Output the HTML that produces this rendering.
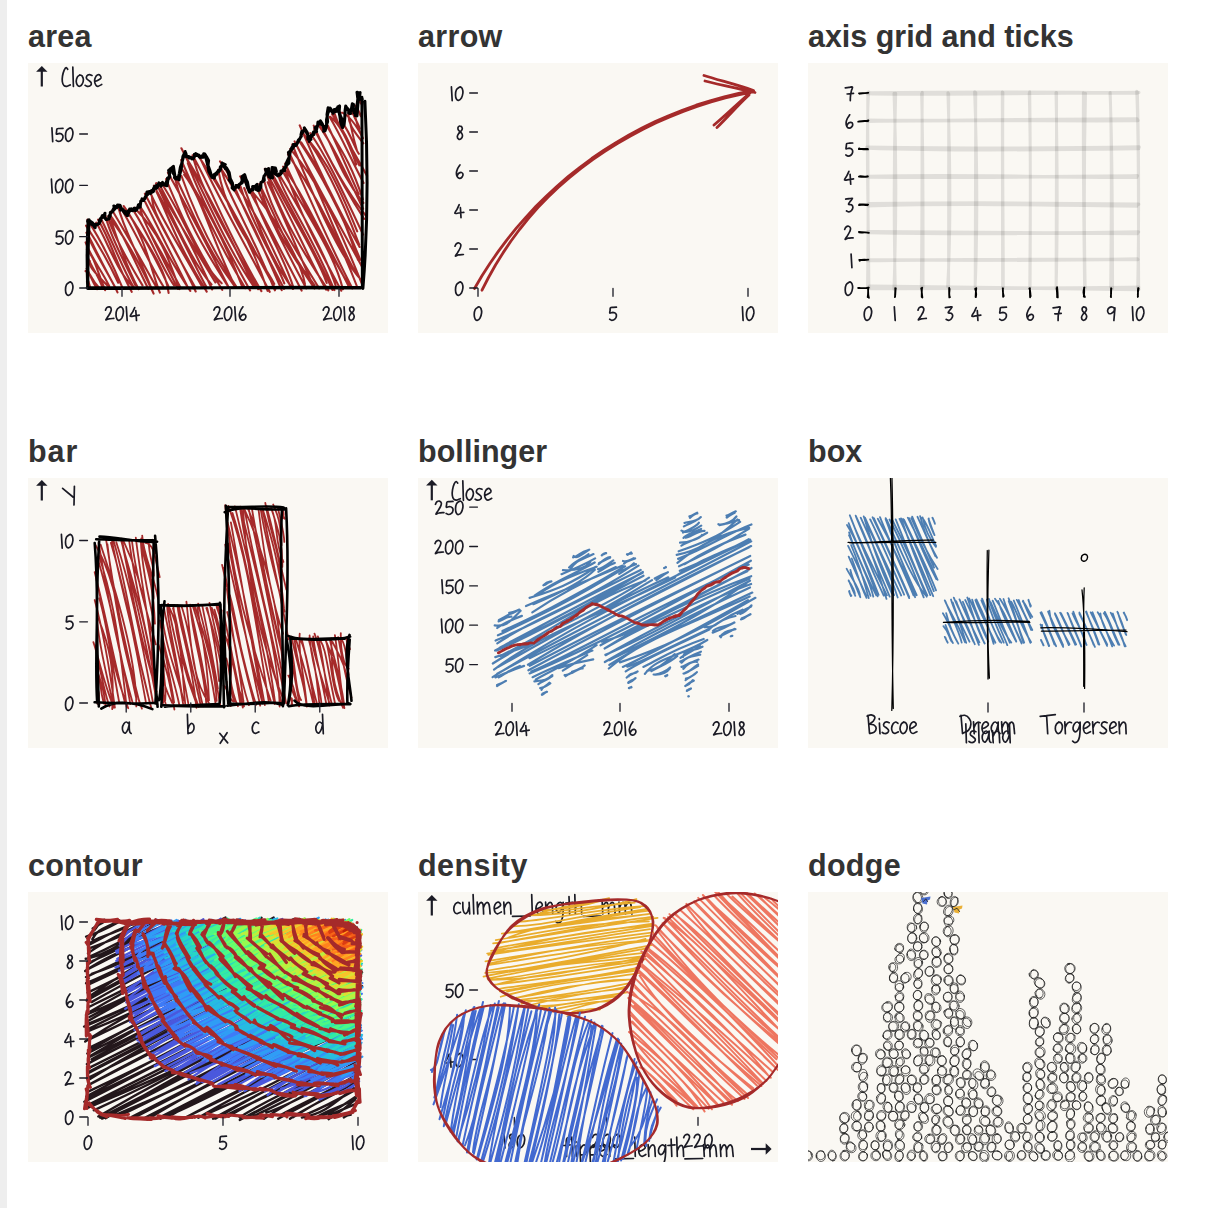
<!DOCTYPE html><html><head><meta charset="utf-8"><title>rough plot</title><style>
html,body{margin:0;padding:0;background:#fff}
body{width:1228px;height:1208px;position:relative;overflow:hidden;font-family:"Liberation Sans",sans-serif}
.strip{position:absolute;left:0;top:0;width:6.8px;height:1208px;background:#eee}
h2{position:absolute;margin:0;font-size:30.5px;font-weight:bold;color:#333;line-height:35px;white-space:nowrap}
.card{position:absolute;width:360px;height:270px;background:#faf8f3;overflow:hidden}
.card svg{display:block}
</style></head><body><div class="strip"></div>
<h2 style="left:28px;top:18.5px;letter-spacing:0.23px">area</h2>
<div class="card" style="left:28px;top:63px"><svg width="360" height="270" viewBox="0 0 360 270"><path d="M329.5 33.9C331.0 34.9 331.9 38.4 334.3 39.9M329.9 33.2C331.1 36.4 331.5 37.8 332.8 40.5M327.5 42.6C329.5 47.3 332.5 50.5 333.9 54.0M329.6 45.5C330.8 48.2 331.3 50.4 332.9 53.1M322.1 50.6C329.5 49.1 327.7 64.0 333.1 70.9M324.3 45.6C323.4 51.4 330.0 58.9 331.7 65.7M314.1 49.6C319.3 51.7 326.0 57.7 335.0 75.2M320.4 50.6C320.2 60.1 324.1 66.0 335.4 80.3M309.1 46.2C310.0 46.3 310.0 46.9 312.0 49.6M310.0 45.6C310.3 47.4 310.7 48.1 312.2 50.3M321.2 55.1C324.6 71.0 325.0 74.2 328.8 87.0M314.8 60.5C322.6 70.3 327.0 86.0 330.9 90.8M302.3 53.9C312.2 60.7 321.9 83.1 328.3 101.4M304.1 51.3C315.8 66.3 321.9 81.2 331.3 102.4M305.4 47.2C311.0 65.1 318.8 76.5 339.1 113.0M301.5 53.8C313.6 73.9 321.3 92.8 335.6 120.0M299.3 63.5C308.9 81.2 321.4 95.0 334.9 136.3M299.8 62.5C312.7 90.2 323.8 115.4 330.7 131.2M290.5 60.7C305.9 80.7 308.2 106.1 335.4 140.0M290.2 61.7C302.8 79.4 312.1 97.7 335.1 145.8M285.7 62.6C303.9 103.8 325.1 136.1 338.5 153.6M286.1 66.2C298.7 88.6 307.6 111.5 336.1 155.9M279.0 74.9C291.3 89.4 304.4 106.8 329.2 168.4M282.2 70.0C298.1 93.2 308.1 114.2 335.1 171.6M271.7 62.4C291.4 108.9 307.5 142.2 331.6 184.0M274.8 69.6C296.6 98.8 314.3 137.0 331.2 181.5M273.2 79.3C300.3 119.6 316.3 155.1 330.0 197.0M270.8 77.3C299.0 119.9 318.6 162.3 332.3 196.8M268.0 80.9C293.9 129.9 309.5 180.7 328.4 210.7M266.6 78.4C282.0 109.6 299.0 139.2 335.9 207.2M264.3 81.5C288.3 140.4 313.0 195.8 334.0 217.9M262.3 85.9C290.3 119.0 307.2 154.8 333.6 220.1M261.5 90.3C280.6 132.0 298.9 176.3 324.4 225.4M260.0 91.3C284.2 126.1 307.4 166.5 329.2 224.0M255.1 103.6C270.5 124.0 287.9 159.3 320.8 223.4M257.2 100.5C273.8 137.6 296.0 179.4 322.1 224.5M257.4 108.0C270.9 148.4 290.3 184.7 313.3 227.7M254.9 108.8C280.7 153.3 306.4 191.3 314.9 226.3M250.9 114.3C257.8 136.8 278.8 161.1 306.4 227.1M251.8 112.5C279.0 157.8 299.5 197.8 307.6 222.4M240.3 105.6C259.4 148.6 286.7 185.6 298.7 220.0M243.3 109.0C267.0 152.5 290.5 195.3 304.5 227.0M236.8 105.9C247.5 135.5 259.7 167.1 300.3 227.3M238.4 109.4C264.0 154.6 281.8 198.3 298.2 226.6M239.7 119.3C257.4 157.2 273.2 195.9 285.4 223.2M236.1 117.8C244.9 152.1 263.6 180.3 291.2 225.4M233.7 125.7C249.8 157.6 257.3 184.6 286.5 222.2M231.3 121.1C240.8 155.7 257.0 181.9 286.5 225.4M220.9 125.0C250.6 157.5 273.1 199.2 277.0 221.2M228.3 123.4C242.4 156.8 256.9 185.3 278.2 225.3M212.2 113.3C214.0 115.9 218.9 119.9 222.2 127.0M213.5 115.5C216.1 116.6 218.6 118.4 220.3 126.9M225.2 129.7C233.9 161.0 254.7 189.4 265.7 225.3M221.4 127.2C232.6 149.0 244.8 171.3 273.6 227.6M216.2 125.0C228.8 157.9 243.0 197.4 265.0 226.0M210.2 124.5C233.7 159.2 245.9 188.3 263.0 224.6M192.0 98.3C197.1 105.2 199.0 108.5 201.0 112.2M193.2 99.6C197.4 104.3 199.1 106.7 200.9 113.2M212.3 122.9C224.5 163.2 247.2 195.8 256.3 220.4M207.1 124.8C222.9 163.3 242.6 199.6 256.1 225.9M193.1 104.1C197.7 129.3 217.4 155.0 246.9 227.4M193.3 106.2C216.3 140.1 232.5 177.8 253.7 227.2M176.7 91.8C177.3 92.6 178.1 94.7 179.2 96.9M177.3 91.8C177.1 93.3 178.2 94.7 179.6 96.4M190.2 106.8C198.3 154.9 228.5 188.4 246.3 220.9M185.3 113.1C208.8 154.1 228.3 191.2 247.4 226.0M173.4 97.8C190.5 134.8 213.5 174.5 241.7 228.8M171.1 94.2C203.9 141.5 227.1 189.8 239.6 227.8M164.5 92.3C184.8 127.4 195.6 163.9 233.4 228.1M165.8 97.0C172.9 123.5 189.4 154.8 230.2 226.2M153.4 85.3C177.4 132.3 197.1 181.4 225.0 222.3M156.2 91.6C187.3 139.8 211.0 195.3 226.9 224.3M159.8 100.2C171.1 132.9 193.5 175.7 222.1 227.4M153.2 97.0C172.9 141.3 192.3 184.6 217.4 225.2M156.1 111.7C172.9 132.8 180.3 167.0 207.6 224.8M154.5 106.7C176.7 141.3 195.0 173.8 214.1 223.3M153.5 113.0C165.1 146.1 182.3 184.4 208.1 223.4M149.5 117.8C166.4 153.7 180.6 189.2 206.9 223.5M146.9 114.9C155.6 151.0 174.7 183.8 199.6 222.7M139.9 109.8C157.0 140.0 173.7 171.7 200.5 224.0M133.9 120.7C156.5 155.7 172.8 202.1 193.7 220.3M138.0 116.2C150.7 146.3 161.7 173.6 194.2 226.8M128.0 120.5C148.7 156.2 164.3 181.2 187.4 219.5M131.2 120.9C146.0 150.0 161.8 176.5 184.2 226.5M128.3 120.1C150.7 168.8 168.0 204.1 183.5 221.5M125.9 122.7C149.9 166.0 168.5 206.5 178.9 224.8M128.5 128.8C140.0 152.4 147.7 178.1 178.7 228.6M122.6 130.5C134.7 158.1 153.8 186.9 173.4 222.6M124.0 133.3C123.8 150.5 138.5 166.5 167.7 228.5M116.9 130.8C126.4 148.8 135.8 168.3 167.0 224.0M111.1 142.1C127.2 164.7 139.8 195.4 162.3 227.9M117.1 138.8C130.3 165.2 146.9 198.8 160.3 225.1M106.3 144.7C131.2 169.2 139.9 193.2 151.4 226.1M111.4 141.6C114.9 161.2 126.6 176.3 152.5 224.4M112.5 148.5C118.0 163.6 127.2 180.6 149.9 225.8M105.0 146.9C122.0 172.5 133.1 204.0 146.1 222.5M99.3 148.2C113.1 171.7 137.9 204.4 140.6 229.9M99.8 149.6C118.7 177.3 134.0 209.0 140.4 223.1M95.6 143.0C117.2 172.0 123.4 209.2 131.9 229.6M95.2 149.0C110.3 174.9 124.0 205.5 135.3 223.3M90.0 143.3C96.2 167.4 105.0 178.9 125.3 229.9M84.3 147.5C98.3 171.1 112.4 195.1 128.1 223.8M80.4 153.0C91.7 167.8 104.7 185.5 125.6 230.6M82.2 152.5C90.5 162.8 98.7 181.0 120.3 225.9M83.2 157.8C92.2 185.5 100.8 208.3 110.7 226.2M80.9 157.4C86.1 171.8 94.7 189.5 114.5 222.4M77.5 153.0C81.8 172.7 96.8 199.3 107.4 222.3M73.6 156.9C84.6 178.4 93.5 203.4 105.4 223.9M70.1 156.6C83.4 178.9 87.5 199.4 103.7 228.8M68.3 159.6C80.7 181.7 89.5 208.6 104.3 223.0M58.0 162.6C68.3 177.9 80.0 197.7 90.2 219.7M59.4 156.7C76.5 182.6 89.6 213.2 94.2 224.1M58.4 169.7C66.5 190.1 85.3 218.6 89.5 229.4M58.8 169.6C65.8 182.8 74.1 200.7 86.6 223.3M58.9 186.4C66.8 196.0 66.9 201.3 77.1 227.2M57.6 179.4C64.0 196.3 72.0 204.6 81.2 223.0M62.0 198.2C59.8 203.3 70.1 212.8 79.9 223.0M58.9 192.0C62.6 203.4 71.4 213.8 74.4 224.6M57.5 208.1C63.1 209.1 62.3 215.9 70.7 224.2M58.6 205.7C61.6 209.9 63.5 217.4 69.2 226.2M60.5 218.4C61.0 221.8 62.9 224.6 61.8 225.3M58.9 218.9C59.9 220.4 60.5 221.3 62.4 225.0" fill="none" stroke="#a52a2a" stroke-width="2.1" stroke-linecap="round" stroke-linejoin="round" /><path d="M59.7 157.8L61.1 159.0L62.1 159.0L61.8 159.3L64.7 162.1L65.8 161.5L66.0 162.7L67.2 164.7L67.3 162.0L68.9 161.6L71.0 160.9L72.2 158.6L72.9 157.3L72.8 156.0L74.3 152.7L76.9 151.8L76.6 154.3L78.2 156.5L78.7 156.6L80.7 155.7L82.2 153.0L82.3 149.5L83.0 149.0L84.4 148.8L84.9 146.9L86.6 143.7L88.7 144.8L88.8 143.6L90.7 142.3L92.3 142.7L93.0 145.5L92.6 147.2L94.4 146.6L94.8 147.2L96.2 149.3L97.4 151.0L99.9 152.5L99.8 148.3L101.3 147.2L101.6 146.0L104.1 147.6L103.6 147.6L104.8 146.9L107.0 147.4L107.5 147.7L109.0 146.3L109.7 144.6L110.3 142.0L112.6 141.0L112.7 138.1L115.4 137.4L115.4 136.0L116.8 135.8L117.7 133.9L118.0 132.6L119.0 129.0L121.7 128.5L122.6 130.4L123.5 129.7L123.6 127.4L124.8 127.4L126.1 124.3L128.7 125.3L129.7 123.7L129.8 122.6L130.9 119.9L131.9 120.7L132.9 123.3L135.2 120.1L135.4 121.5L135.6 121.9L138.1 122.5L138.4 118.7L140.3 116.5L141.2 114.3L141.7 108.8L142.6 105.7L144.7 104.6L144.8 109.9L146.7 112.2L146.5 114.8L148.1 116.2L149.6 115.7L151.1 116.8L151.6 112.3L153.4 105.1L153.8 100.0L155.9 92.4L157.2 88.5L157.4 90.0L157.8 93.4L160.4 93.6L161.0 95.0L162.2 95.1L163.4 94.5L164.3 95.1L165.3 95.8L166.4 93.6L166.3 91.2L168.2 91.2L168.9 92.4L170.8 91.9L171.6 92.9L171.9 93.6L173.5 94.4L174.3 92.7L176.0 92.0L177.4 92.2L177.7 93.7L178.4 96.9L180.0 103.4L180.8 108.6L182.4 111.5L184.0 114.5L184.9 114.4L186.1 114.9L187.7 111.1L188.8 111.2L189.0 109.5L190.6 107.3L192.4 106.9L192.8 103.5L194.4 101.4L194.0 99.9L196.1 101.7L197.2 105.6L197.8 104.5L198.6 105.0L201.2 109.6L202.3 115.7L202.7 116.5L204.5 120.2L204.5 123.5L206.7 125.6L206.4 124.8L207.2 124.2L208.9 123.0L210.7 124.3L210.3 122.6L211.9 121.4L214.0 118.3L214.1 113.5L216.6 111.6L217.0 112.7L218.1 116.4L219.4 118.9L220.6 124.9L221.2 128.2L221.9 128.7L223.3 127.1L224.9 127.1L224.6 123.6L226.6 123.4L228.5 122.8L227.9 126.5L229.8 127.4L231.5 127.3L232.1 123.8L233.0 119.9L235.1 117.7L235.1 117.6L235.7 114.4L238.0 109.9L238.3 107.0L240.7 105.5L240.9 109.0L242.1 113.4L242.5 115.0L244.9 108.6L244.8 105.7L247.0 106.8L246.6 109.4L249.6 112.8L250.2 112.1L251.5 111.8L252.3 111.6L253.5 110.1L253.7 109.6L254.6 107.4L256.2 105.2L257.7 103.7L257.8 102.0L258.8 98.9L260.9 94.6L262.6 87.9L262.8 86.4L264.3 83.7L266.0 82.9L265.4 81.5L266.7 81.5L268.5 81.8L269.7 78.4L270.2 77.8L271.3 76.8L272.9 73.5L273.4 71.5L275.5 68.1L276.6 66.6L276.4 66.6L277.5 67.5L279.6 71.8L281.3 74.9L281.3 78.4L281.8 74.3L283.0 72.5L285.9 71.6L285.5 69.0L288.1 68.2L288.9 65.1L289.6 62.6L289.9 59.1L291.8 59.0L292.4 57.9L294.4 61.1L295.5 64.2L296.7 67.1L297.2 67.6L298.6 63.3L298.5 56.9L299.8 50.5L302.2 45.1L303.1 46.3L303.6 48.4L305.0 49.0L305.8 48.1L306.3 46.5L307.8 46.3L309.9 45.9L309.8 43.7L310.7 47.1L311.9 53.4L312.6 59.4L314.4 64.4L316.1 61.8L316.8 55.1L317.2 47.9L318.6 44.5L320.6 46.8L320.7 50.1L321.8 48.7L323.3 46.2L324.3 40.7L325.6 46.3L327.2 50.9L327.2 52.6L329.3 40.3L330.4 30.4L332.1 29.5L331.4 36.5L333.2 35.3M59.6 158.8L60.6 157.6L60.4 156.9L64.0 159.4L65.2 160.5L64.2 160.9L65.8 161.9L66.4 164.2L67.7 161.2L68.0 162.2L69.5 161.6L71.3 159.4L71.4 157.5L72.6 155.4L76.1 153.5L77.0 150.2L75.6 153.5L78.1 156.4L78.9 156.1L81.0 156.0L80.9 153.3L83.5 149.3L82.5 149.3L83.5 149.4L86.8 146.0L85.8 142.9L87.3 143.6L88.9 143.8L89.5 141.9L92.0 142.3L91.6 144.2L93.2 145.4L94.4 145.9L96.5 148.2L98.0 148.8L98.7 150.7L98.9 152.5L100.6 150.0L101.9 147.3L101.7 146.4L103.1 145.8L103.3 145.7L104.9 147.7L106.1 145.2L108.7 147.0L107.5 145.4L108.9 144.8L112.2 144.1L112.6 139.2L113.1 138.6L114.0 135.9L115.8 137.5L117.3 133.9L117.9 133.1L119.5 131.6L121.3 129.9L119.9 128.7L123.4 129.3L123.1 128.9L125.2 128.8L125.6 128.1L126.8 123.2L128.6 124.4L127.4 125.2L128.5 122.4L130.9 121.4L131.7 120.6L132.5 121.5L134.4 119.4L136.1 121.1L136.0 121.6L139.0 122.8L139.7 118.5L139.5 115.0L141.9 113.8L140.6 107.4L141.9 106.3L145.4 103.3L146.2 108.5L146.9 113.1L147.8 115.6L148.2 114.4L149.7 115.4L149.8 115.9L151.3 110.6L152.4 104.1L154.0 99.9L154.9 93.5L157.2 88.9L157.9 90.4L158.6 93.6L159.1 93.9L161.2 94.6L161.1 94.5L161.6 93.9L164.2 96.0L165.7 94.6L167.4 92.5L167.9 90.6L169.1 91.5L170.8 93.2L171.1 93.8L172.4 93.8L171.9 94.4L175.0 94.3L176.4 93.7L175.7 90.7L176.8 91.0L178.7 94.1L180.6 97.4L180.1 102.4L182.1 108.1L183.3 112.1L184.9 114.5L184.3 114.0L186.3 115.2L186.1 111.6L189.0 110.1L187.9 110.4L191.4 108.3L192.1 105.7L192.3 103.9L194.9 101.8L194.1 100.1L197.3 101.5L195.6 103.6L198.2 105.0L198.2 104.5L200.5 110.3L201.9 115.6L201.1 116.9L204.6 121.5L204.1 124.9L206.2 126.9L206.0 125.5L209.0 123.9L207.9 122.5L209.1 122.4L210.2 122.9L211.2 121.3L214.2 119.8L215.5 114.9L216.9 113.4L217.1 114.2L216.7 115.0L217.7 118.8L219.7 125.2L221.7 129.3L221.0 128.3L223.5 127.0L223.3 127.2L225.2 124.7L226.6 123.9L229.1 121.4L229.6 126.6L229.3 126.1L231.0 126.6L232.9 124.3L232.9 119.4L234.4 118.9L236.3 117.2L235.9 113.2L238.7 110.1L237.4 106.2L239.1 106.7L239.7 108.2L240.8 113.7L244.6 114.9L243.9 110.8L244.1 104.6L247.4 105.0L248.4 108.5L247.2 111.1L249.6 112.6L250.9 111.0L251.1 112.2L252.9 110.8L252.9 108.1L256.6 107.7L256.4 104.6L257.1 105.5L258.4 102.5L260.9 100.2L261.2 92.8L260.4 89.5L262.7 87.8L265.0 85.0L264.8 84.6L267.0 82.3L266.3 82.1L268.2 82.4L271.0 77.3L270.4 77.0L271.7 75.7L273.4 73.1L273.0 71.6L273.8 68.3L277.4 67.4L276.3 64.8L279.3 69.6L279.8 71.2L279.8 76.2L283.0 76.4L281.8 73.6L283.2 74.0L284.6 72.1L285.0 69.9L288.6 68.5L287.0 64.6L289.8 62.5L290.1 59.4L291.8 60.7L291.9 58.8L293.0 61.0L295.6 63.2L295.9 67.7L295.6 68.3L297.9 63.5L299.6 58.7L299.0 51.4L300.1 44.8L302.1 45.8L303.1 47.5L305.2 50.4L305.5 49.0L307.6 48.5L309.4 48.0L308.6 45.6L311.6 42.9L311.2 48.3L312.5 53.1L314.8 57.9L314.8 64.5L314.7 61.0L316.8 54.4L317.1 47.4L317.7 42.9L319.7 46.4L322.7 50.4L321.7 50.4L324.2 44.5L325.5 41.4L325.3 47.1L326.0 49.7L329.0 52.9L330.2 38.5L329.0 29.2L331.9 30.7L330.8 34.5L334.3 36.2M333.9 34.2L334.4 225.0M336.9 38.2C339.9 96.2 339.9 165.0 334.9 225.5M332.4 224.6C269.3 223.6 205.7 224.9 59.6 225.5M332.8 224.9C276.8 224.7 221.4 224.7 59.2 224.7M59.7 224.1C60.2 210.0 59.5 197.7 61.1 156.8M59.7 225.2C58.9 203.5 58.7 182.9 60.1 157.1" fill="none" stroke="#000" stroke-width="3" stroke-linecap="round" stroke-linejoin="round" /><path d="M41.5 219.1C41.0 219.5 39.2 220.4 38.5 221.7C37.8 223.0 37.5 225.3 37.5 226.9C37.5 228.5 38.0 230.3 38.5 231.2C39.0 232.1 39.7 232.6 40.5 232.4C41.3 232.3 42.6 231.5 43.3 230.2C44.0 229.0 44.7 226.6 44.9 225.0C45.1 223.4 44.7 221.7 44.3 220.7C43.9 219.7 42.9 219.1 42.3 218.9C41.7 218.7 41.0 219.6 40.7 219.7" fill="none" stroke="#1b1b25" stroke-width="1.7" stroke-linecap="round" stroke-linejoin="round" /><path d="M35.0 168.0C34.5 168.0 32.8 168.1 31.8 168.2C30.8 168.3 29.5 168.0 29.0 168.6C28.5 169.1 28.7 170.4 28.6 171.3C28.5 172.2 27.9 173.6 28.4 173.9C28.9 174.2 30.4 173.1 31.4 173.1C32.4 173.2 33.6 173.6 34.2 174.3C34.8 174.9 35.1 176.0 35.0 176.9C34.9 177.9 34.2 179.3 33.4 180.0C32.6 180.7 31.3 181.1 30.4 181.1C29.5 181.1 28.6 180.2 28.2 180.0M41.5 167.8C41.0 168.2 39.2 169.1 38.5 170.4C37.8 171.7 37.5 174.0 37.5 175.6C37.5 177.2 38.0 179.0 38.5 179.9C39.0 180.8 39.7 181.3 40.5 181.1C41.3 181.0 42.6 180.2 43.3 178.9C44.0 177.7 44.7 175.3 44.9 173.7C45.1 172.1 44.7 170.4 44.3 169.4C43.9 168.4 42.9 167.8 42.3 167.6C41.7 167.4 41.0 168.3 40.7 168.4" fill="none" stroke="#1b1b25" stroke-width="1.7" stroke-linecap="round" stroke-linejoin="round" /><path d="M23.4 116.2L24.2 129.9M31.5 116.4C31.0 116.8 29.2 117.7 28.5 119.0C27.8 120.3 27.5 122.6 27.5 124.2C27.5 125.8 28.0 127.6 28.5 128.5C29.0 129.4 29.7 129.9 30.5 129.7C31.3 129.6 32.6 128.8 33.3 127.5C34.0 126.3 34.7 123.9 34.9 122.3C35.1 120.7 34.7 119.0 34.3 118.0C33.9 117.0 32.9 116.4 32.3 116.2C31.7 116.0 31.0 116.9 30.7 117.0M41.5 116.4C41.0 116.8 39.2 117.7 38.5 119.0C37.8 120.3 37.5 122.6 37.5 124.2C37.5 125.8 38.0 127.6 38.5 128.5C39.0 129.4 39.7 129.9 40.5 129.7C41.3 129.6 42.6 128.8 43.3 127.5C44.0 126.3 44.7 123.9 44.9 122.3C45.1 120.7 44.7 119.0 44.3 118.0C43.9 117.0 42.9 116.4 42.3 116.2C41.7 116.0 41.0 116.9 40.7 117.0" fill="none" stroke="#1b1b25" stroke-width="1.7" stroke-linecap="round" stroke-linejoin="round" /><path d="M23.9 64.9L24.7 78.6M35.0 65.3C34.5 65.3 32.8 65.4 31.8 65.5C30.8 65.6 29.5 65.3 29.0 65.9C28.5 66.4 28.7 67.7 28.6 68.6C28.5 69.5 27.9 70.9 28.4 71.2C28.9 71.5 30.4 70.4 31.4 70.4C32.4 70.5 33.6 70.9 34.2 71.6C34.8 72.2 35.1 73.3 35.0 74.2C34.9 75.2 34.2 76.6 33.4 77.3C32.6 78.0 31.3 78.4 30.4 78.4C29.5 78.4 28.6 77.5 28.2 77.3M41.5 65.1C41.0 65.5 39.2 66.4 38.5 67.7C37.8 69.0 37.5 71.3 37.5 72.9C37.5 74.5 38.0 76.3 38.5 77.2C39.0 78.1 39.7 78.6 40.5 78.4C41.3 78.3 42.6 77.5 43.3 76.2C44.0 75.0 44.7 72.6 44.9 71.0C45.1 69.4 44.7 67.7 44.3 66.7C43.9 65.7 42.9 65.1 42.3 64.9C41.7 64.7 41.0 65.6 40.7 65.7" fill="none" stroke="#1b1b25" stroke-width="1.7" stroke-linecap="round" stroke-linejoin="round" /><path d="M51.7 225.0L59.5 225.0M51.7 173.7L59.5 173.7M51.7 122.3L59.5 122.3M51.7 71.0L59.5 71.0" fill="none" stroke="#1b1b25" stroke-width="1.3" stroke-linecap="round" stroke-linejoin="round" /><path d="M77.5 247.1C77.7 246.6 78.2 245.1 78.8 244.6C79.5 244.1 80.7 243.7 81.5 243.9C82.2 244.1 83.0 244.9 83.2 245.7C83.5 246.6 83.2 247.7 82.7 248.9C82.2 250.2 81.0 251.9 80.2 253.2C79.5 254.6 77.8 256.5 77.8 256.9C77.9 257.4 79.4 256.0 80.8 255.8C82.1 255.5 85.0 255.5 85.8 255.4M92.0 244.0C91.5 244.4 89.6 245.3 89.0 246.6C88.3 247.9 88.0 250.2 88.0 251.8C88.0 253.4 88.5 255.2 89.0 256.1C89.5 257.0 90.2 257.5 91.0 257.3C91.8 257.2 93.0 256.4 93.8 255.1C94.5 253.9 95.2 251.5 95.3 249.9C95.5 248.3 95.2 246.6 94.8 245.6C94.3 244.6 93.3 244.0 92.8 243.8C92.2 243.6 91.4 244.5 91.2 244.6M98.3 243.8L99.2 257.5M106.7 244.6C106.3 245.3 105.4 247.5 104.7 248.9C103.9 250.4 102.0 252.5 102.2 253.1C102.5 253.8 104.8 253.1 106.2 252.9C107.8 252.8 110.4 252.3 111.2 252.2M107.8 247.6L108.5 257.5" fill="none" stroke="#1b1b25" stroke-width="1.7" stroke-linecap="round" stroke-linejoin="round" /><path d="M185.9 247.1C186.2 246.6 186.7 245.1 187.3 244.6C188.0 244.1 189.2 243.7 189.9 243.9C190.7 244.1 191.6 244.9 191.8 245.7C191.9 246.6 191.7 247.7 191.2 248.9C190.7 250.2 189.6 251.9 188.8 253.2C187.9 254.6 186.3 256.5 186.3 256.9C186.4 257.4 187.9 256.0 189.2 255.8C190.6 255.5 193.5 255.5 194.3 255.4M200.4 244.0C199.9 244.4 198.1 245.3 197.4 246.6C196.8 247.9 196.4 250.2 196.4 251.8C196.4 253.4 196.9 255.2 197.4 256.1C197.9 257.0 198.6 257.5 199.4 257.3C200.2 257.2 201.5 256.4 202.2 255.1C203.0 253.9 203.7 251.5 203.8 249.9C204.0 248.3 203.7 246.6 203.2 245.6C202.8 244.6 201.8 244.0 201.2 243.8C200.7 243.6 199.9 244.5 199.7 244.6M206.8 243.8L207.7 257.5M214.9 243.8C214.5 244.4 213.2 246.2 212.6 247.5C212.0 248.9 211.4 250.5 211.3 251.8C211.3 253.1 211.7 254.7 212.2 255.6C212.7 256.5 213.6 257.2 214.3 257.2C215.1 257.3 216.3 256.7 216.9 256.0C217.5 255.3 218.0 253.9 217.9 253.1C217.8 252.4 217.0 251.6 216.3 251.4C215.7 251.3 214.4 251.7 213.8 252.2C213.1 252.7 212.6 253.9 212.3 254.3" fill="none" stroke="#1b1b25" stroke-width="1.7" stroke-linecap="round" stroke-linejoin="round" /><path d="M295.2 247.1C295.4 246.6 295.9 245.1 296.6 244.6C297.3 244.1 298.5 243.7 299.2 243.9C299.9 244.1 300.8 244.9 301.0 245.7C301.2 246.6 300.9 247.7 300.4 248.9C299.9 250.2 298.8 251.9 298.0 253.2C297.2 254.6 295.5 256.5 295.6 256.9C295.7 257.4 297.2 256.0 298.5 255.8C299.8 255.5 302.8 255.5 303.6 255.4M309.7 244.0C309.2 244.4 307.4 245.3 306.7 246.6C306.0 247.9 305.7 250.2 305.7 251.8C305.7 253.4 306.2 255.2 306.7 256.1C307.2 257.0 307.9 257.5 308.7 257.3C309.5 257.2 310.8 256.4 311.5 255.1C312.2 253.9 312.9 251.5 313.1 249.9C313.3 248.3 312.9 246.6 312.5 245.6C312.1 244.6 311.1 244.0 310.5 243.8C309.9 243.6 309.2 244.5 308.9 244.6M316.1 243.8L316.9 257.5M325.4 244.6C325.0 244.5 323.8 243.7 323.2 243.9C322.6 244.1 321.7 245.0 321.6 245.7C321.5 246.5 321.8 247.6 322.4 248.4C323.0 249.2 324.4 249.8 325.0 250.7C325.6 251.5 326.3 252.7 326.2 253.7C326.1 254.7 325.3 256.2 324.6 256.7C323.9 257.3 322.8 257.3 322.2 256.9C321.6 256.6 321.0 255.4 321.0 254.5C321.0 253.5 321.8 252.3 322.4 251.4C323.0 250.5 324.2 249.8 324.8 248.9C325.4 248.1 326.0 247.0 326.0 246.3C326.0 245.5 325.2 244.7 325.0 244.4" fill="none" stroke="#1b1b25" stroke-width="1.7" stroke-linecap="round" stroke-linejoin="round" /><path d="M94.0 225.5L94.0 233.3M202.0 225.5L202.0 233.3M311.0 225.5L311.0 233.3" fill="none" stroke="#1b1b25" stroke-width="1.3" stroke-linecap="round" stroke-linejoin="round" /><path d="M13.8 23.5L13.8 6.5" stroke="#1b1b25" stroke-width="2.2" fill="none"/><path d="M8.1 8.8L13.8 2.9L19.5 8.8Z" fill="#1b1b25"/><path d="M39.7 6.3C39.4 6.0 38.8 4.6 38.2 4.7C37.6 4.8 36.9 5.7 36.2 7.1C35.6 8.5 34.8 11.1 34.5 13.0C34.2 14.9 34.1 16.9 34.3 18.5C34.5 20.1 35.1 21.5 35.8 22.3C36.6 23.1 37.8 23.4 38.8 23.3C39.9 23.2 41.7 22.1 42.3 21.9M44.8 4.1L45.4 23.5M51.9 11.9C51.5 12.3 49.9 13.0 49.3 14.1C48.7 15.2 48.2 17.1 48.2 18.5C48.3 19.9 48.9 21.5 49.5 22.3C50.1 23.1 50.9 23.5 51.7 23.3C52.5 23.1 53.7 22.0 54.3 20.9C54.9 19.8 55.4 17.8 55.4 16.5C55.3 15.2 54.7 13.7 54.1 12.9C53.4 12.1 52.1 12.0 51.7 11.8M64.0 12.5C63.6 12.4 62.3 11.6 61.4 11.7C60.5 11.8 59.3 12.4 58.8 13.1C58.3 13.8 58.2 14.9 58.6 15.7C59.0 16.5 60.6 17.2 61.4 17.9C62.2 18.6 63.2 19.3 63.3 20.1C63.5 20.9 63.0 22.1 62.3 22.6C61.6 23.1 60.1 23.4 59.2 23.3C58.4 23.2 57.4 22.5 57.1 22.3M66.8 18.5C67.3 18.3 69.0 17.9 70.0 17.3C71.1 16.7 72.5 15.9 72.9 15.1C73.2 14.3 72.7 13.1 72.2 12.5C71.7 11.9 70.6 11.5 69.8 11.8C69.0 12.1 68.0 13.0 67.5 14.1C66.9 15.2 66.6 16.8 66.6 18.1C66.6 19.4 67.1 21.0 67.7 21.9C68.2 22.8 69.0 23.4 70.0 23.3C71.1 23.2 73.1 21.8 73.7 21.5" fill="none" stroke="#1b1b25" stroke-width="1.7" stroke-linecap="round" stroke-linejoin="round" /></svg></div>
<h2 style="left:418px;top:18.5px;letter-spacing:0.32px">arrow</h2>
<div class="card" style="left:418px;top:63px"><svg width="360" height="270" viewBox="0 0 360 270"><path d="M56.5 225.5L64.0 212.8L71.9 200.5L80.3 188.4L89.1 176.6L98.3 165.2L108.0 154.1L118.0 143.3L128.5 133.0L139.3 123.0L150.4 113.4L161.9 104.3L173.7 95.5L185.9 87.2L198.3 79.4L211.0 72.0L224.0 65.1L237.2 58.6L250.6 52.7L264.3 47.2L278.1 42.2L292.1 37.8L306.3 33.8L320.6 30.4L335.0 27.5M64.0 227.2L70.5 214.5L77.5 202.0L85.0 189.9L93.0 178.0L101.5 166.5L110.5 155.4L119.9 144.6L129.9 134.2L140.4 124.2L151.4 114.6L162.9 105.5L174.7 96.7L186.9 88.4L199.3 80.6L212.0 73.2L225.0 66.3L238.2 59.8L251.6 53.9L265.3 48.4L279.1 43.4L293.1 39.0L307.3 35.0L321.6 31.6L336.0 28.7M335.5 27.5C320 22 300 17 286 12.5M337 29.5C322 26 301 21.5 287 18M333 29C320 40 308 52 296 62M331 32C320 42 310 54 299 64.5" fill="none" stroke="#a52a2a" stroke-width="2.8" stroke-linecap="round" stroke-linejoin="round" /><path d="M41.5 219.1C41.0 219.5 39.2 220.4 38.5 221.7C37.8 223.0 37.5 225.3 37.5 226.9C37.5 228.5 38.0 230.3 38.5 231.2C39.0 232.1 39.7 232.6 40.5 232.4C41.3 232.3 42.6 231.5 43.3 230.2C44.0 229.0 44.7 226.6 44.9 225.0C45.1 223.4 44.7 221.7 44.3 220.7C43.9 219.7 42.9 219.1 42.3 218.9C41.7 218.7 41.0 219.6 40.7 219.7" fill="none" stroke="#1b1b25" stroke-width="1.7" stroke-linecap="round" stroke-linejoin="round" /><path d="M37.0 183.2C37.2 182.7 37.7 181.2 38.4 180.7C39.1 180.2 40.3 179.8 41.0 180.0C41.7 180.2 42.6 181.0 42.8 181.8C43.0 182.7 42.7 183.8 42.2 185.0C41.7 186.3 40.6 188.0 39.8 189.3C39.0 190.7 37.3 192.6 37.4 193.0C37.5 193.5 39.0 192.1 40.3 191.9C41.6 191.6 44.5 191.6 45.4 191.5" fill="none" stroke="#1b1b25" stroke-width="1.7" stroke-linecap="round" stroke-linejoin="round" /><path d="M41.2 141.7C40.9 142.4 39.9 144.6 39.2 146.0C38.5 147.5 36.5 149.6 36.8 150.2C37.1 150.9 39.3 150.2 40.8 150.0C42.3 149.9 45.0 149.4 45.8 149.3M42.4 144.7L43.0 154.6" fill="none" stroke="#1b1b25" stroke-width="1.7" stroke-linecap="round" stroke-linejoin="round" /><path d="M42.0 101.9C41.6 102.5 40.2 104.3 39.6 105.6C39.0 107.0 38.5 108.6 38.4 109.9C38.3 111.2 38.7 112.8 39.2 113.7C39.7 114.6 40.6 115.3 41.4 115.3C42.2 115.4 43.4 114.8 44.0 114.1C44.6 113.4 45.1 112.0 45.0 111.2C44.9 110.5 44.1 109.7 43.4 109.5C42.7 109.4 41.5 109.8 40.8 110.3C40.1 110.8 39.6 112.0 39.4 112.4" fill="none" stroke="#1b1b25" stroke-width="1.7" stroke-linecap="round" stroke-linejoin="round" /><path d="M43.7 63.7C43.3 63.6 42.1 62.8 41.5 63.0C40.9 63.2 40.0 64.1 39.9 64.8C39.8 65.6 40.1 66.7 40.7 67.5C41.3 68.3 42.7 68.9 43.3 69.8C43.9 70.6 44.6 71.8 44.5 72.8C44.4 73.8 43.6 75.3 42.9 75.8C42.2 76.4 41.1 76.4 40.5 76.0C39.9 75.7 39.3 74.5 39.3 73.6C39.3 72.6 40.1 71.4 40.7 70.5C41.3 69.6 42.5 68.9 43.1 68.0C43.7 67.2 44.3 66.1 44.3 65.4C44.3 64.6 43.5 63.8 43.3 63.5" fill="none" stroke="#1b1b25" stroke-width="1.7" stroke-linecap="round" stroke-linejoin="round" /><path d="M33.4 23.9L34.2 37.6M41.5 24.1C41.0 24.5 39.2 25.4 38.5 26.7C37.8 28.0 37.5 30.3 37.5 31.9C37.5 33.5 38.0 35.3 38.5 36.2C39.0 37.1 39.7 37.6 40.5 37.4C41.3 37.3 42.6 36.5 43.3 35.2C44.0 34.0 44.7 31.6 44.9 30.0C45.1 28.4 44.7 26.7 44.3 25.7C43.9 24.7 42.9 24.1 42.3 23.9C41.7 23.7 41.0 24.6 40.7 24.7" fill="none" stroke="#1b1b25" stroke-width="1.7" stroke-linecap="round" stroke-linejoin="round" /><path d="M51.7 225.0L59.5 225.0M51.7 186.0L59.5 186.0M51.7 147.0L59.5 147.0M51.7 108.0L59.5 108.0M51.7 69.0L59.5 69.0M51.7 30.0L59.5 30.0" fill="none" stroke="#1b1b25" stroke-width="1.3" stroke-linecap="round" stroke-linejoin="round" /><path d="M60.2 244.0C59.7 244.4 57.9 245.3 57.2 246.6C56.5 247.9 56.2 250.2 56.2 251.8C56.2 253.4 56.7 255.2 57.2 256.1C57.7 257.0 58.4 257.5 59.2 257.3C60.0 257.2 61.3 256.4 62.0 255.1C62.7 253.9 63.4 251.5 63.6 249.9C63.8 248.3 63.4 246.6 63.0 245.6C62.6 244.6 61.6 244.0 61.0 243.8C60.4 243.6 59.7 244.5 59.4 244.6" fill="none" stroke="#1b1b25" stroke-width="1.7" stroke-linecap="round" stroke-linejoin="round" /><path d="M198.4 244.2C197.9 244.2 196.2 244.3 195.2 244.4C194.2 244.5 193.0 244.2 192.4 244.8C191.9 245.3 192.2 246.6 192.1 247.5C192.0 248.4 191.4 249.8 191.8 250.1C192.3 250.4 193.9 249.3 194.8 249.3C195.8 249.4 197.1 249.8 197.7 250.5C198.2 251.1 198.6 252.2 198.4 253.1C198.3 254.1 197.6 255.5 196.8 256.2C196.1 256.9 194.7 257.3 193.8 257.3C193.0 257.3 192.0 256.4 191.7 256.2" fill="none" stroke="#1b1b25" stroke-width="1.7" stroke-linecap="round" stroke-linejoin="round" /><path d="M324.4 243.8L325.1 257.5M332.4 244.0C331.9 244.4 330.1 245.3 329.4 246.6C328.8 247.9 328.4 250.2 328.4 251.8C328.4 253.4 328.9 255.2 329.4 256.1C329.9 257.0 330.6 257.5 331.4 257.3C332.2 257.2 333.5 256.4 334.2 255.1C335.0 253.9 335.7 251.5 335.9 249.9C336.0 248.3 335.7 246.6 335.2 245.6C334.8 244.6 333.9 244.0 333.2 243.8C332.6 243.6 331.9 244.5 331.6 244.6" fill="none" stroke="#1b1b25" stroke-width="1.7" stroke-linecap="round" stroke-linejoin="round" /><path d="M60.0 225.5L60.0 233.3M195.0 225.5L195.0 233.3M330.0 225.5L330.0 233.3" fill="none" stroke="#1b1b25" stroke-width="1.3" stroke-linecap="round" stroke-linejoin="round" /></svg></div>
<h2 style="left:808px;top:18.5px;letter-spacing:-0.03px">axis grid and ticks</h2>
<div class="card" style="left:808px;top:63px"><svg width="360" height="270" viewBox="0 0 360 270"><path d="M60.7 28.7C57.7 68.5 60.0 107.7 60.9 225.6M59.8 30.9C59.4 73.5 60.9 118.5 59.5 224.7M86.0 30.3C88.2 84.9 89.3 135.9 85.9 226.2M87.7 30.3C85.4 108.1 86.3 184.6 87.3 224.5M113.6 30.5C114.8 72.3 115.3 113.0 115.0 224.3M114.3 29.3C113.7 76.6 114.5 122.1 113.3 224.8M139.9 29.8C142.4 104.3 142.4 179.2 139.6 223.6M140.7 30.4C140.7 107.3 140.1 185.2 140.6 224.8M166.6 28.7C169.1 93.6 170.0 156.8 167.1 226.0M167.8 29.6C167.1 106.6 167.0 185.5 167.2 225.2M194.3 28.9C194.1 77.8 194.4 125.4 194.6 225.1M194.9 29.3C194.2 97.5 195.4 164.7 195.3 225.1M221.7 28.7C222.4 74.8 222.6 121.7 222.1 224.1M221.2 30.2C223.3 98.9 222.0 169.3 221.8 224.8M248.0 29.4C249.4 100.4 249.7 170.2 248.1 225.4M248.6 29.4C248.2 87.7 248.6 145.4 248.1 224.1M277.5 30.3C276.3 84.8 275.6 138.0 277.2 225.1M275.4 29.8C275.1 82.3 275.4 133.0 276.6 224.7M302.0 29.7C304.6 83.2 304.2 136.6 304.6 225.7M302.2 29.5C304.1 82.5 303.5 132.4 302.7 224.2M328.7 28.3C331.2 84.7 330.0 139.8 330.7 226.4M329.4 29.3C331.2 100.5 330.7 173.3 329.7 224.8" fill="none" stroke="#000" stroke-width="3.0" stroke-linecap="round" stroke-linejoin="round" stroke-opacity="0.1"/><path d="M61.2 223.3C137.4 224.2 212.8 225.5 330.8 226.5M60.1 225.5C153.8 224.6 247.9 225.9 330.7 224.3M61.7 196.9C133.9 196.8 208.9 198.3 329.4 196.0M59.4 197.6C125.5 196.3 192.0 196.3 329.9 196.4M59.9 168.8C119.8 169.1 176.6 169.5 329.3 170.5M60.4 169.5C144.3 171.2 227.4 170.7 330.5 168.9M60.2 142.7C145.1 140.3 225.3 141.5 328.7 143.1M60.7 140.8C139.5 139.8 219.2 139.7 330.7 141.2M59.4 113.6C135.6 111.4 208.7 113.8 328.8 114.3M60.6 114.1C153.1 114.8 247.9 113.7 329.4 112.8M58.8 84.2C157.5 85.5 254.0 85.5 331.2 84.1M59.2 84.9C135.2 87.7 212.3 87.2 330.7 85.4M61.5 57.3C127.2 58.3 196.3 56.3 329.1 56.1M59.4 58.2C144.5 56.9 229.2 57.9 330.0 57.6M59.0 30.5C123.2 32.1 187.0 30.3 330.8 29.6M59.2 29.9C137.1 29.0 215.6 28.4 329.2 30.2" fill="none" stroke="#000" stroke-width="3.5" stroke-linecap="round" stroke-linejoin="round" stroke-opacity="0.1"/><path d="M59.9 225.1C60.5 227.0 59.6 231.1 60.9 234.8M60.0 224.7C60.2 227.2 60.3 230.0 59.7 234.1M87.8 225.4C87.2 227.2 87.7 230.6 86.9 234.1M87.2 225.2C87.5 227.3 86.9 230.6 87.1 233.9M113.2 225.3C113.9 228.0 113.8 231.3 114.4 234.5M114.1 224.7C113.7 227.5 113.7 229.6 113.7 233.9M141.5 225.6C141.9 227.5 140.4 231.5 141.9 234.1M141.2 224.8C141.0 228.7 141.2 232.0 141.3 234.4M167.2 225.8C168.1 228.1 168.6 231.1 167.8 234.2M168.3 225.1C168.0 226.9 167.8 228.8 167.6 233.9M195.0 225.4C194.5 228.2 195.2 231.3 195.7 233.1M194.8 225.3C195.2 228.1 194.9 231.4 195.1 233.9M221.4 225.5C222.7 227.9 222.1 230.1 222.7 233.2M221.9 225.2C221.8 227.7 221.9 229.8 222.1 234.3M249.1 224.2C249.5 227.5 249.7 230.4 249.8 234.4M248.6 225.1C248.9 227.4 249.2 230.0 249.1 234.2M276.4 224.5C275.2 227.8 275.2 231.7 276.9 234.0M276.0 224.8C276.3 227.2 276.4 229.6 275.8 233.7M303.4 225.6C302.9 226.8 303.5 228.9 302.8 233.5M303.1 225.2C302.9 227.5 303.0 229.9 303.0 234.2M330.6 225.3C330.0 228.6 329.4 231.2 330.0 233.3M330.2 225.0C329.5 227.0 330.3 229.3 329.8 234.0M50.1 225.0C54.2 225.4 56.2 225.6 60.8 224.6M50.7 225.0C54.5 225.4 57.8 225.2 60.2 225.1M51.6 197.8C53.4 196.4 55.2 196.4 59.4 196.9M51.2 196.8C54.0 196.8 56.5 197.6 60.3 196.7M50.9 168.9C53.1 169.3 55.3 168.7 60.9 169.8M51.1 169.4C53.4 169.8 56.6 169.1 60.1 169.7M50.9 142.1C54.2 141.2 56.5 142.4 59.6 142.1M51.4 141.3C53.5 141.5 55.7 141.0 60.1 141.7M51.3 113.3C54.0 112.9 56.4 114.3 59.9 113.5M50.9 113.6C54.2 113.9 57.9 114.0 59.7 113.3M51.0 85.4C52.6 86.3 55.8 86.5 60.0 86.4M50.9 86.1C54.0 86.0 56.4 85.7 59.8 86.0M50.2 58.7C53.9 58.5 58.0 58.3 60.4 57.4M51.2 58.3C53.5 57.7 55.6 57.8 60.1 58.0M51.5 30.8C52.2 30.4 54.6 30.1 60.3 29.8M51.0 30.4C54.2 29.9 57.0 30.5 59.9 30.0" fill="none" stroke="#000" stroke-width="1.8" stroke-linecap="round" stroke-linejoin="round" /><path d="M41.2 219.1C40.7 219.5 38.9 220.4 38.2 221.7C37.5 223.0 37.2 225.3 37.2 226.9C37.2 228.5 37.7 230.3 38.2 231.2C38.7 232.1 39.4 232.6 40.2 232.4C41.0 232.3 42.3 231.5 43.0 230.2C43.7 229.0 44.4 226.6 44.6 225.0C44.8 223.4 44.4 221.7 44.0 220.7C43.6 219.7 42.6 219.1 42.0 218.9C41.4 218.7 40.7 219.6 40.4 219.7" fill="none" stroke="#1b1b25" stroke-width="1.7" stroke-linecap="round" stroke-linejoin="round" /><path d="M43.1 191.1L43.9 204.7" fill="none" stroke="#1b1b25" stroke-width="1.7" stroke-linecap="round" stroke-linejoin="round" /><path d="M36.7 166.4C36.9 166.0 37.4 164.5 38.1 164.0C38.8 163.4 40.0 163.1 40.7 163.3C41.4 163.5 42.3 164.3 42.5 165.1C42.7 165.9 42.4 167.1 41.9 168.3C41.4 169.6 40.3 171.3 39.5 172.6C38.7 173.9 37.0 175.9 37.1 176.3C37.2 176.7 38.7 175.4 40.0 175.2C41.3 174.9 44.2 174.9 45.1 174.8" fill="none" stroke="#1b1b25" stroke-width="1.7" stroke-linecap="round" stroke-linejoin="round" /><path d="M37.7 136.1C38.2 136.0 39.9 135.9 41.0 135.7C42.1 135.6 44.2 135.0 44.5 135.3C44.8 135.7 43.2 137.1 42.5 138.1C41.8 139.1 40.3 140.6 40.5 141.2C40.7 141.9 42.8 141.3 43.5 141.8C44.2 142.3 44.9 143.3 44.9 144.3C44.9 145.2 44.2 146.7 43.5 147.5C42.8 148.3 41.7 148.8 40.9 148.8C40.1 148.9 38.9 148.0 38.5 147.9" fill="none" stroke="#1b1b25" stroke-width="1.7" stroke-linecap="round" stroke-linejoin="round" /><path d="M40.9 108.3C40.6 109.0 39.6 111.2 38.9 112.6C38.2 114.0 36.2 116.1 36.5 116.8C36.8 117.5 39.0 116.8 40.5 116.6C42.0 116.5 44.7 116.0 45.5 115.9M42.1 111.3L42.7 121.2" fill="none" stroke="#1b1b25" stroke-width="1.7" stroke-linecap="round" stroke-linejoin="round" /><path d="M44.7 80.0C44.2 80.0 42.5 80.1 41.5 80.2C40.5 80.3 39.2 80.1 38.7 80.6C38.2 81.1 38.4 82.5 38.3 83.3C38.2 84.2 37.6 85.6 38.1 85.9C38.6 86.2 40.1 85.1 41.1 85.1C42.1 85.2 43.3 85.7 43.9 86.3C44.5 86.9 44.8 88.0 44.7 88.9C44.6 89.9 43.9 91.3 43.1 92.0C42.3 92.7 41.0 93.1 40.1 93.1C39.2 93.1 38.3 92.2 37.9 92.0" fill="none" stroke="#1b1b25" stroke-width="1.7" stroke-linecap="round" stroke-linejoin="round" /><path d="M41.7 51.8C41.3 52.4 39.9 54.2 39.3 55.5C38.7 56.8 38.2 58.4 38.1 59.8C38.0 61.1 38.4 62.7 38.9 63.6C39.4 64.5 40.3 65.1 41.1 65.2C41.9 65.2 43.1 64.6 43.7 63.9C44.3 63.3 44.8 61.8 44.7 61.1C44.6 60.3 43.8 59.5 43.1 59.4C42.4 59.2 41.2 59.7 40.5 60.1C39.8 60.6 39.3 61.9 39.1 62.2" fill="none" stroke="#1b1b25" stroke-width="1.7" stroke-linecap="round" stroke-linejoin="round" /><path d="M37.3 24.9C37.9 24.8 39.8 24.5 41.0 24.4C42.2 24.3 44.1 23.5 44.5 24.1C44.9 24.7 43.6 26.6 43.3 28.1C43.0 29.6 42.7 31.3 42.5 32.9C42.3 34.4 42.3 36.8 42.3 37.6M39.1 31.0L45.5 30.4" fill="none" stroke="#1b1b25" stroke-width="1.7" stroke-linecap="round" stroke-linejoin="round" /><path d="M60.2 244.0C59.7 244.4 57.9 245.3 57.2 246.6C56.5 247.9 56.2 250.2 56.2 251.8C56.2 253.4 56.7 255.2 57.2 256.1C57.7 257.0 58.4 257.5 59.2 257.3C60.0 257.2 61.3 256.4 62.0 255.1C62.7 253.9 63.4 251.5 63.6 249.9C63.8 248.3 63.4 246.6 63.0 245.6C62.6 244.6 61.6 244.0 61.0 243.8C60.4 243.6 59.7 244.5 59.4 244.6" fill="none" stroke="#1b1b25" stroke-width="1.7" stroke-linecap="round" stroke-linejoin="round" /><path d="M86.3 243.8L87.2 257.5" fill="none" stroke="#1b1b25" stroke-width="1.7" stroke-linecap="round" stroke-linejoin="round" /><path d="M110.0 247.1C110.2 246.6 110.7 245.1 111.3 244.6C112.0 244.1 113.2 243.7 114.0 243.9C114.7 244.1 115.5 244.9 115.8 245.7C116.0 246.6 115.7 247.7 115.2 248.9C114.7 250.2 113.5 251.9 112.8 253.2C112.0 254.6 110.3 256.5 110.3 256.9C110.4 257.4 111.9 256.0 113.2 255.8C114.6 255.5 117.5 255.5 118.3 255.4" fill="none" stroke="#1b1b25" stroke-width="1.7" stroke-linecap="round" stroke-linejoin="round" /><path d="M137.4 244.6C138.0 244.5 139.6 244.3 140.8 244.2C141.9 244.1 144.0 243.4 144.2 243.8C144.5 244.2 142.9 245.6 142.2 246.6C141.6 247.6 140.1 249.1 140.2 249.7C140.4 250.3 142.5 249.8 143.2 250.3C144.0 250.8 144.7 251.8 144.7 252.8C144.7 253.7 143.9 255.2 143.2 256.0C142.6 256.7 141.5 257.2 140.7 257.3C139.8 257.4 138.7 256.5 138.2 256.4" fill="none" stroke="#1b1b25" stroke-width="1.7" stroke-linecap="round" stroke-linejoin="round" /><path d="M168.2 244.6C167.8 245.3 166.9 247.5 166.2 248.9C165.4 250.4 163.5 252.5 163.8 253.1C164.0 253.8 166.2 253.1 167.8 252.9C169.2 252.8 171.9 252.3 172.8 252.2M169.3 247.6L169.9 257.5" fill="none" stroke="#1b1b25" stroke-width="1.7" stroke-linecap="round" stroke-linejoin="round" /><path d="M198.4 244.2C197.9 244.2 196.2 244.3 195.2 244.4C194.2 244.5 193.0 244.2 192.4 244.8C191.9 245.3 192.2 246.6 192.1 247.5C192.0 248.4 191.4 249.8 191.8 250.1C192.3 250.4 193.9 249.3 194.8 249.3C195.8 249.4 197.1 249.8 197.7 250.5C198.2 251.1 198.6 252.2 198.4 253.1C198.3 254.1 197.6 255.5 196.8 256.2C196.1 256.9 194.7 257.3 193.8 257.3C193.0 257.3 192.0 256.4 191.7 256.2" fill="none" stroke="#1b1b25" stroke-width="1.7" stroke-linecap="round" stroke-linejoin="round" /><path d="M222.4 243.8C222.0 244.4 220.7 246.2 220.1 247.5C219.5 248.9 218.9 250.5 218.8 251.8C218.8 253.1 219.2 254.7 219.7 255.6C220.2 256.5 221.1 257.2 221.8 257.2C222.6 257.3 223.8 256.7 224.4 256.0C225.0 255.3 225.5 253.9 225.4 253.1C225.3 252.4 224.5 251.6 223.8 251.4C223.2 251.3 221.9 251.7 221.2 252.2C220.6 252.7 220.1 253.9 219.8 254.3" fill="none" stroke="#1b1b25" stroke-width="1.7" stroke-linecap="round" stroke-linejoin="round" /><path d="M245.1 244.8C245.7 244.7 247.6 244.4 248.8 244.3C249.9 244.2 251.9 243.4 252.2 244.0C252.6 244.6 251.4 246.5 251.1 248.0C250.7 249.5 250.4 251.2 250.2 252.8C250.1 254.3 250.1 256.7 250.1 257.5M246.8 250.8L253.2 250.3" fill="none" stroke="#1b1b25" stroke-width="1.7" stroke-linecap="round" stroke-linejoin="round" /><path d="M277.9 244.6C277.5 244.5 276.3 243.7 275.7 243.9C275.1 244.1 274.2 245.0 274.1 245.7C274.0 246.5 274.3 247.6 274.9 248.4C275.5 249.2 276.9 249.8 277.5 250.7C278.1 251.5 278.8 252.7 278.7 253.7C278.6 254.7 277.8 256.2 277.1 256.7C276.4 257.3 275.3 257.3 274.7 256.9C274.1 256.6 273.5 255.4 273.5 254.5C273.5 253.5 274.3 252.3 274.9 251.4C275.5 250.5 276.7 249.8 277.3 248.9C277.9 248.1 278.5 247.0 278.5 246.3C278.5 245.5 277.7 244.7 277.5 244.4" fill="none" stroke="#1b1b25" stroke-width="1.7" stroke-linecap="round" stroke-linejoin="round" /><path d="M306.6 245.5C306.2 245.3 305.1 244.1 304.2 244.0C303.4 243.9 302.0 244.2 301.2 244.8C300.5 245.3 299.8 246.5 299.6 247.4C299.5 248.3 300.0 249.8 300.6 250.3C301.2 250.8 302.4 250.8 303.2 250.5C304.1 250.1 305.2 249.1 305.9 248.2C306.5 247.2 306.7 244.6 306.9 244.8C307.0 244.9 306.8 247.5 306.6 248.9C306.5 250.4 306.4 252.3 306.2 253.7C306.1 255.1 305.9 256.9 305.9 257.5" fill="none" stroke="#1b1b25" stroke-width="1.7" stroke-linecap="round" stroke-linejoin="round" /><path d="M324.4 243.8L325.1 257.5M332.4 244.0C331.9 244.4 330.1 245.3 329.4 246.6C328.8 247.9 328.4 250.2 328.4 251.8C328.4 253.4 328.9 255.2 329.4 256.1C329.9 257.0 330.6 257.5 331.4 257.3C332.2 257.2 333.5 256.4 334.2 255.1C335.0 253.9 335.7 251.5 335.9 249.9C336.0 248.3 335.7 246.6 335.2 245.6C334.8 244.6 333.9 244.0 333.2 243.8C332.6 243.6 331.9 244.5 331.6 244.6" fill="none" stroke="#1b1b25" stroke-width="1.7" stroke-linecap="round" stroke-linejoin="round" /></svg></div>
<h2 style="left:28px;top:433.5px;letter-spacing:0.90px">bar</h2>
<div class="card" style="left:28px;top:478px"><svg width="360" height="270" viewBox="0 0 360 270"><path d="M126.7 62.8C126.3 66.0 125.7 69.9 127.8 75.2M124.4 61.8C126.6 65.7 127.3 70.4 126.6 74.6M117.2 64.8C124.9 65.7 125.8 72.8 131.7 99.1M120.8 63.1C120.4 78.3 126.7 89.0 125.7 98.0M114.2 57.6C115.6 78.3 125.1 94.2 130.0 120.6M113.4 60.3C118.1 86.2 127.0 107.3 125.5 121.0M112.9 63.6C115.5 84.1 124.9 96.1 126.9 145.7M112.7 61.4C114.1 90.7 120.2 118.9 126.6 145.5M107.8 59.6C110.8 86.0 117.1 121.2 123.1 163.7M104.0 63.4C108.0 97.9 117.3 129.0 127.8 166.4M95.7 63.4C119.1 113.4 125.3 163.5 124.2 191.8M101.0 61.7C107.4 109.9 118.1 152.1 125.7 191.3M93.4 63.4C107.2 113.1 121.5 155.8 127.5 213.5M93.4 62.5C102.5 101.2 105.8 138.2 128.6 213.6M93.8 60.7C99.4 93.6 111.7 127.7 129.4 226.6M88.3 64.2C99.3 97.7 109.8 138.9 125.0 224.9M85.7 63.2C99.6 109.0 104.8 162.1 123.2 229.6M83.8 61.9C95.8 124.5 113.5 184.4 121.9 225.8M79.4 66.2C85.4 118.2 97.1 184.0 113.9 230.6M82.9 64.9C95.7 107.3 105.0 151.5 118.1 225.4M72.6 66.6C91.7 123.8 108.8 184.1 108.3 228.4M78.0 61.2C85.7 113.6 94.9 161.0 111.7 225.4M66.9 66.0C88.8 102.1 91.5 145.5 108.5 221.5M70.6 64.8C79.3 116.3 88.7 168.1 104.9 225.8M69.7 80.6C79.3 113.3 88.1 149.8 102.4 226.1M70.6 76.8C81.6 109.9 89.3 141.6 98.6 228.8M66.7 94.2C78.3 140.3 81.4 183.4 100.2 230.2M68.3 101.3C78.5 140.3 84.8 177.5 97.1 225.4M66.7 122.0C73.5 147.4 79.5 175.2 86.9 229.6M71.3 120.4C79.2 146.3 81.6 172.1 91.2 224.4M70.5 140.9C81.7 168.7 86.7 191.8 84.2 231.1M69.2 143.9C71.9 171.5 79.4 201.6 85.5 226.4M65.4 164.1C71.3 181.5 75.0 203.1 85.9 229.7M67.0 167.1C71.5 189.4 76.6 215.4 81.5 228.5M69.9 195.6C72.8 202.0 71.4 208.6 75.8 225.5M68.7 190.0C71.3 201.2 75.8 206.9 77.6 228.5M70.4 213.6C71.2 216.2 71.0 221.2 69.6 225.8M68.9 214.5C69.8 218.7 71.7 223.7 71.5 226.4M188.6 128.2C188.8 132.0 191.2 133.6 192.1 140.4M190.5 127.2C190.4 130.5 190.3 132.8 192.5 139.9M186.5 131.7C188.4 137.8 191.5 150.7 193.1 159.8M183.9 130.0C185.1 135.7 189.0 140.8 192.5 164.1M181.5 124.9C186.5 149.9 191.4 170.3 195.0 184.1M178.3 130.0C185.5 149.6 189.5 169.2 192.5 184.2M179.2 129.9C184.6 152.1 189.0 177.3 191.1 203.2M174.3 127.7C179.2 153.4 184.4 176.0 189.9 210.6M167.0 129.2C178.5 160.7 187.6 198.5 188.7 222.9M170.2 125.7C176.1 150.2 184.1 177.2 192.2 226.9M169.4 129.6C173.0 154.1 179.6 179.9 181.0 222.2M164.8 127.9C170.6 147.3 178.4 167.4 187.7 226.3M162.2 126.7C164.4 160.0 176.1 189.2 178.2 225.0M162.0 127.9C169.3 160.9 176.7 195.5 180.4 224.7M158.4 123.7C162.9 164.7 164.0 201.0 180.8 224.8M153.5 128.3C163.4 156.3 165.0 188.7 175.0 228.4M149.4 126.8C151.6 151.2 162.7 174.0 168.5 229.8M151.0 129.2C154.9 149.8 160.7 173.6 172.9 228.3M145.0 130.4C152.3 152.6 149.2 169.9 170.7 228.9M145.3 128.1C148.7 164.8 158.4 200.0 168.5 226.0M141.5 129.8C153.0 152.9 153.1 181.7 157.2 225.9M140.1 126.0C144.4 153.2 151.9 177.5 160.3 225.4M139.2 128.4C139.8 146.7 149.3 178.7 154.9 224.6M135.5 127.4C140.5 156.1 149.7 189.8 155.1 225.9M134.2 138.5C137.8 172.6 149.6 195.4 155.5 222.3M132.1 142.4C134.5 169.3 145.3 197.8 151.4 227.3M130.5 166.8C139.1 191.1 142.2 206.9 146.4 231.5M135.1 161.7C138.6 185.9 144.0 209.6 146.1 224.4M135.4 190.7C135.0 194.4 138.5 207.8 137.2 222.4M135.8 187.2C133.0 195.9 135.8 208.3 144.1 224.9M133.8 212.7C137.5 217.0 135.3 221.5 135.1 225.0M134.8 210.8C135.8 216.1 134.9 219.4 137.6 225.5M253.6 29.9C256.2 32.9 256.0 38.8 254.7 40.5M253.9 30.3C253.8 33.9 255.4 38.6 256.7 40.8M245.2 26.5C248.6 34.8 252.8 42.1 253.5 67.2M249.8 29.4C252.0 40.0 256.1 54.2 256.3 63.9M243.6 31.1C250.9 48.2 245.9 61.9 255.4 83.8M243.2 30.2C249.6 49.0 254.9 66.2 254.3 88.9M237.3 24.9C242.4 58.4 254.4 77.3 252.8 113.3M238.3 27.8C244.7 50.4 249.4 73.7 258.3 111.6M234.5 30.4C243.2 58.4 252.2 89.3 256.0 130.0M232.9 32.3C237.3 60.1 245.2 91.2 256.6 133.6M234.5 31.0C243.8 80.6 255.9 131.8 260.3 161.3M230.6 32.0C236.4 80.0 245.1 127.3 255.1 155.7M220.1 31.2C234.5 61.6 233.9 99.6 255.0 178.9M223.9 30.5C232.9 85.2 247.6 144.0 254.9 179.9M215.7 29.7C239.9 81.1 252.4 141.3 256.2 204.4M220.3 29.1C233.8 88.7 245.7 148.3 255.9 205.4M212.3 28.6C230.7 106.9 251.4 179.5 251.6 228.6M216.4 30.7C229.1 100.0 247.0 168.1 258.2 225.4M215.0 30.9C218.8 94.7 231.7 164.6 255.9 222.7M212.3 31.6C219.5 80.9 232.6 137.2 253.6 225.5M204.5 35.0C218.4 77.8 225.1 130.5 246.6 226.0M206.9 28.4C222.7 93.6 239.0 162.6 247.2 225.4M197.2 27.2C202.9 85.3 214.2 139.5 242.7 222.6M200.4 28.0C218.4 77.4 224.6 124.2 240.9 224.4M202.9 44.5C211.5 93.1 220.3 141.3 234.5 224.9M199.6 44.4C210.0 87.5 219.6 131.0 236.8 227.2M200.3 65.6C207.3 101.1 212.7 137.2 232.2 227.7M197.2 66.6C204.6 103.1 212.6 139.5 234.6 225.5M194.1 86.9C203.7 128.2 208.7 160.5 225.6 223.3M195.6 89.8C206.1 141.3 218.2 197.2 228.1 226.8M201.8 117.1C209.6 144.4 210.0 168.7 225.8 221.6M198.9 110.9C203.9 155.4 211.1 196.3 220.9 227.2M195.3 132.3C200.3 160.9 207.1 189.9 214.8 229.7M199.2 134.0C205.3 156.0 209.7 176.5 216.0 228.3M200.0 161.2C206.2 172.9 204.4 201.5 215.4 222.4M197.4 158.0C206.2 183.3 209.6 210.6 212.5 226.5M202.7 179.0C205.5 191.7 198.6 201.5 206.1 223.6M198.3 180.3C203.0 195.7 201.7 211.1 209.9 228.2M195.6 207.4C201.9 213.2 200.0 221.3 205.7 223.6M198.9 203.9C197.9 209.5 198.7 215.9 202.7 228.2M320.0 160.0C320.9 164.6 320.2 169.4 320.4 170.8M318.6 160.4C318.0 163.9 319.5 165.1 322.0 171.1M312.8 155.1C312.5 173.8 316.0 187.8 320.7 190.7M314.2 162.4C317.3 168.0 318.9 177.2 320.6 197.0M304.5 163.9C308.9 173.8 317.4 183.7 322.4 215.1M310.2 159.1C314.2 179.7 318.0 202.7 323.5 219.5M306.9 157.1C311.4 186.3 311.7 205.7 316.4 230.2M302.1 162.5C305.2 178.4 312.5 198.9 316.0 225.6M303.3 160.4C303.5 187.2 304.5 208.5 315.1 229.8M297.7 162.3C305.6 180.1 311.2 204.4 314.5 224.6M297.6 161.6C303.9 182.1 303.1 208.8 311.0 222.9M292.1 161.9C298.1 171.2 298.4 185.4 307.2 226.1M286.5 155.6C292.8 171.7 295.3 193.0 303.8 226.0M289.9 158.4C294.0 174.3 296.3 191.9 301.3 227.5M283.7 162.2C286.4 178.8 290.3 189.2 302.0 227.0M285.2 158.3C287.1 177.6 291.9 191.9 298.2 225.5M280.5 160.5C288.3 187.2 289.7 210.7 291.5 227.2M281.6 157.5C282.2 181.5 291.7 203.1 293.7 227.6M272.0 161.6C278.9 171.5 278.8 190.3 289.5 227.4M273.6 160.9C280.3 185.7 284.3 212.9 286.6 225.8M271.7 155.7C270.0 178.1 274.8 186.4 278.9 228.6M268.3 162.5C272.8 177.6 279.9 201.6 285.5 226.4M263.7 158.7C267.6 182.1 275.8 203.0 278.3 223.9M266.5 161.1C269.1 184.5 276.9 207.7 278.6 228.5M262.9 168.9C268.0 189.2 267.3 214.1 273.1 222.1M261.4 174.9C265.6 190.5 267.2 203.2 271.5 225.6M260.3 197.6C266.3 207.2 266.2 216.2 270.6 227.2M262.1 197.2C260.8 205.9 263.4 211.4 271.1 228.4M263.4 220.1C263.8 220.3 264.4 223.2 263.3 227.6M262.2 220.0C263.3 221.9 263.8 224.0 264.5 227.1" fill="none" stroke="#a52a2a" stroke-width="1.8" stroke-linecap="round" stroke-linejoin="round" /><path d="M71.5 58.6C86.3 58.2 112.0 65.4 129.1 63.7M68.2 61.3C80.5 61.3 91.1 62.9 125.2 62.2M127.1 57.8C132.0 110.6 131.3 159.2 127.4 225.5M125.7 63.3C124.9 113.7 122.9 164.2 129.6 228.8M124.4 231.1C102.4 222.6 85.3 223.2 73.3 230.6M129.0 224.7C114.9 225.8 96.8 225.8 66.6 224.3M69.2 224.9C66.0 173.5 72.2 131.7 66.7 65.0M70.8 228.5C69.1 169.6 67.7 116.3 71.2 62.5M133.8 127.1C155.8 129.2 169.6 127.2 191.2 126.4M131.4 127.2C147.8 127.0 163.1 128.6 192.2 125.9M191.9 124.8C195.3 149.7 194.7 174.6 196.0 229.2M192.5 126.4C193.0 165.4 193.9 203.6 191.7 224.6M196.7 228.1C166.0 229.7 144.0 226.4 136.8 228.7M191.0 226.0C178.6 225.8 169.7 228.5 135.1 227.2M131.1 222.1C136.3 194.5 130.5 169.3 136.5 123.4M133.3 228.8C136.8 190.6 134.9 156.2 132.7 129.1M196.7 34.1C213.6 26.5 228.6 32.9 258.1 31.3M199.2 29.0C219.2 29.8 240.6 27.1 255.7 29.5M254.0 31.2C250.9 82.7 255.5 132.4 254.9 228.2M258.1 30.4C260.8 80.7 259.5 128.7 255.9 225.5M253.4 225.7C248.0 222.6 230.2 227.6 200.1 225.5M255.2 226.9C242.7 223.1 234.3 223.4 199.3 227.8M202.0 226.2C203.0 150.0 200.2 77.1 197.9 27.9M200.3 225.7C193.4 156.0 196.8 87.7 200.1 28.7M259.9 157.9C274.9 163.8 294.4 159.4 316.7 160.6M263.1 160.4C287.3 162.4 308.4 163.1 322.1 158.6M321.5 156.9C314.8 175.7 321.8 203.6 323.5 222.8M321.7 161.5C320.1 183.7 318.9 207.9 319.4 224.8M321.7 225.6C299.6 226.9 274.2 231.9 266.5 222.6M322.4 226.1C297.3 225.9 276.5 225.1 260.8 228.2M259.8 227.2C264.7 199.7 262.6 183.5 258.6 160.8M260.2 226.0C264.9 206.6 264.6 189.6 262.3 159.8" fill="none" stroke="#000" stroke-width="2.6" stroke-linecap="round" stroke-linejoin="round" /><path d="M41.5 219.1C41.0 219.5 39.2 220.4 38.5 221.7C37.8 223.0 37.5 225.3 37.5 226.9C37.5 228.5 38.0 230.3 38.5 231.2C39.0 232.1 39.7 232.6 40.5 232.4C41.3 232.3 42.6 231.5 43.3 230.2C44.0 229.0 44.7 226.6 44.9 225.0C45.1 223.4 44.7 221.7 44.3 220.7C43.9 219.7 42.9 219.1 42.3 218.9C41.7 218.7 41.0 219.6 40.7 219.7" fill="none" stroke="#1b1b25" stroke-width="1.7" stroke-linecap="round" stroke-linejoin="round" /><path d="M45.0 138.0C44.5 138.1 42.8 138.1 41.8 138.2C40.8 138.3 39.5 138.1 39.0 138.6C38.5 139.1 38.7 140.5 38.6 141.4C38.5 142.3 37.9 143.6 38.4 143.9C38.9 144.2 40.4 143.1 41.4 143.2C42.4 143.2 43.6 143.7 44.2 144.3C44.8 145.0 45.1 146.0 45.0 147.0C44.9 147.9 44.2 149.3 43.4 150.0C42.6 150.7 41.3 151.2 40.4 151.2C39.5 151.2 38.6 150.2 38.2 150.0" fill="none" stroke="#1b1b25" stroke-width="1.7" stroke-linecap="round" stroke-linejoin="round" /><path d="M33.4 56.4L34.2 70.1M41.5 56.6C41.0 57.0 39.2 57.9 38.5 59.2C37.8 60.5 37.5 62.8 37.5 64.4C37.5 66.0 38.0 67.8 38.5 68.7C39.0 69.6 39.7 70.1 40.5 69.9C41.3 69.8 42.6 69.0 43.3 67.7C44.0 66.5 44.7 64.1 44.9 62.5C45.1 60.9 44.7 59.2 44.3 58.2C43.9 57.2 42.9 56.6 42.3 56.4C41.7 56.2 41.0 57.1 40.7 57.2" fill="none" stroke="#1b1b25" stroke-width="1.7" stroke-linecap="round" stroke-linejoin="round" /><path d="M51.7 225.0L59.5 225.0M51.7 143.8L59.5 143.8M51.7 62.5L59.5 62.5" fill="none" stroke="#1b1b25" stroke-width="1.3" stroke-linecap="round" stroke-linejoin="round" /><path d="M100.8 245.7C100.4 245.4 99.3 244.0 98.5 244.0C97.6 244.0 96.6 244.7 95.9 245.7C95.2 246.7 94.4 248.7 94.4 250.1C94.3 251.5 94.9 253.3 95.4 254.1C96.0 254.9 96.9 255.3 97.6 254.9C98.3 254.5 99.2 253.0 99.8 251.7C100.3 250.4 100.8 247.9 101.1 247.1M101.3 244.1C101.3 245.2 101.2 249.0 101.3 250.7C101.4 252.4 101.6 253.5 101.9 254.3C102.2 255.1 103.0 255.3 103.2 255.5" fill="none" stroke="#1b1b25" stroke-width="1.7" stroke-linecap="round" stroke-linejoin="round" /><path d="M159.4 236.3L160.0 255.7M160.0 250.7C160.3 250.1 160.9 248.0 161.6 247.1C162.2 246.2 163.0 245.3 163.7 245.3C164.4 245.3 165.3 246.3 165.7 247.3C166.0 248.3 166.2 249.9 165.9 251.1C165.6 252.3 164.9 253.6 163.9 254.3C163.0 255.0 160.9 255.1 160.3 255.3" fill="none" stroke="#1b1b25" stroke-width="1.7" stroke-linecap="round" stroke-linejoin="round" /><path d="M230.5 245.3C230.1 245.1 229.1 243.9 228.3 244.0C227.5 244.1 226.4 244.7 225.7 245.7C225.1 246.7 224.3 248.7 224.2 250.1C224.2 251.5 224.7 253.4 225.3 254.3C225.9 255.2 226.7 255.5 227.7 255.4C228.6 255.3 230.4 254.1 230.9 253.9" fill="none" stroke="#1b1b25" stroke-width="1.7" stroke-linecap="round" stroke-linejoin="round" /><path d="M294.2 245.7C293.8 245.4 292.7 244.0 291.9 244.0C291.0 244.0 290.0 244.7 289.3 245.7C288.6 246.7 287.8 248.7 287.8 250.1C287.7 251.5 288.3 253.3 288.8 254.1C289.4 254.9 290.3 255.3 291.0 254.9C291.7 254.5 292.6 253.0 293.2 251.7C293.7 250.4 294.2 247.9 294.5 247.1M294.5 236.3L295.3 255.7" fill="none" stroke="#1b1b25" stroke-width="1.7" stroke-linecap="round" stroke-linejoin="round" /><path d="M98.2 225.0L98.2 234.0M162.8 225.0L162.8 234.0M227.2 225.0L227.2 234.0M291.8 225.0L291.8 234.0" fill="none" stroke="#1b1b25" stroke-width="1.3" stroke-linecap="round" stroke-linejoin="round" /><path d="M191.7 255.3L199.7 264.9M199.1 254.7L192.2 265.3" fill="none" stroke="#1b1b25" stroke-width="1.7" stroke-linecap="round" stroke-linejoin="round" /><path d="M13.8 22.5L13.8 5.5" stroke="#1b1b25" stroke-width="2.2" fill="none"/><path d="M8.1 7.8L13.8 1.9L19.5 7.8Z" fill="#1b1b25"/><path d="M34.6 10.3L45.0 19.0M46.4 8.3L46.0 27.0" fill="none" stroke="#1b1b25" stroke-width="1.7" stroke-linecap="round" stroke-linejoin="round" /></svg></div>
<h2 style="left:418px;top:433.5px;letter-spacing:0.05px">bollinger</h2>
<div class="card" style="left:418px;top:478px"><svg width="360" height="270" viewBox="0 0 360 270"><path d="M155.6 78.0C157.9 80.6 161.0 78.8 171.2 71.7M155.1 79.3C160.3 78.2 162.6 73.7 169.7 72.4M152.1 91.8C157.2 82.8 162.6 82.2 175.5 76.1M151.1 89.4C158.4 81.6 168.9 78.5 170.5 76.1M125.4 107.3C128.4 104.3 129.8 104.0 132.0 103.6M126.7 106.9C129.0 105.2 130.7 103.9 133.4 103.4M144.9 92.2C157.0 92.7 167.6 90.0 172.4 83.8M143.5 96.2C155.5 91.2 167.2 86.2 177.1 80.4M183.8 77.4C184.5 76.3 187.0 75.0 188.1 75.2M184.3 76.8C185.4 76.4 186.8 75.6 187.5 75.2M120.3 116.2C135.8 106.3 145.6 100.4 178.7 88.7M116.6 117.7C133.7 104.9 156.6 95.9 176.7 84.5M180.6 86.3C186.5 80.9 191.0 79.3 192.2 79.2M181.1 85.0C186.4 82.6 188.3 80.8 192.1 79.6M271.9 39.8C274.4 37.7 277.3 35.3 279.4 35.4M271.4 38.3C274.5 38.0 276.1 35.8 279.1 34.7M80.6 143.3C83.6 142.8 88.7 138.1 93.4 138.7M80.9 142.1C84.4 140.6 86.6 138.7 92.8 135.6M91.2 134.8C95.9 134.4 96.0 133.9 101.4 131.6M93.1 135.6C95.0 135.6 96.4 134.3 99.9 132.2M111.6 119.9C132.6 113.0 151.2 107.7 177.5 89.0M115.4 126.2C139.7 116.0 166.1 102.4 176.8 91.7M180.4 93.8C186.5 91.1 188.7 87.5 196.8 84.9M180.0 91.2C184.3 90.8 187.8 87.7 195.3 82.3M209.0 76.4C211.5 75.7 212.8 75.8 213.8 75.5M209.6 76.8C210.8 76.2 211.8 75.2 213.1 74.5M266.5 44.9C270.0 43.5 277.5 44.8 282.8 39.1M265.9 48.4C270.7 45.5 275.8 44.5 280.3 41.0M76.7 147.3C88.1 148.8 91.2 144.5 102.6 132.7M79.2 150.0C86.0 144.7 95.1 141.2 103.9 137.9M108.0 128.0C130.2 118.0 154.9 108.9 204.7 87.6M114.3 134.4C138.2 118.5 159.1 106.6 197.9 89.1M205.0 83.0C209.8 84.4 212.7 81.3 215.6 80.2M206.1 85.6C208.0 82.9 211.6 82.7 217.1 80.4M263.5 52.6C267.2 55.0 273.7 53.9 283.2 47.7M265.0 54.5C270.8 51.8 279.4 47.7 280.9 44.7M84.4 153.0C112.8 140.0 144.3 125.7 207.1 88.3M79.9 157.3C114.7 140.8 148.8 125.4 203.4 91.9M201.2 95.9C209.1 90.5 209.2 91.7 215.9 85.2M203.1 92.6C207.5 92.0 208.7 89.3 218.0 86.1M267.5 59.6C270.3 60.5 280.3 52.2 286.5 52.8M265.5 59.9C266.4 57.6 273.1 55.4 283.1 51.0M308.5 37.7C310.6 37.4 312.0 35.5 317.8 33.3M308.7 39.6C311.6 36.9 312.9 36.7 316.7 34.7M79.3 165.4C115.9 140.0 157.2 128.7 220.5 87.7M77.6 162.6C130.7 139.4 184.1 110.4 222.7 91.9M262.0 64.7C272.5 64.7 282.6 59.5 283.9 56.9M263.4 67.6C271.1 63.1 275.1 63.4 289.1 54.7M300.4 46.2C304.7 47.9 313.5 43.5 321.1 42.2M301.4 47.1C310.3 45.8 315.4 42.6 318.4 38.5M77.1 172.5C112.9 154.8 153.9 136.9 224.9 94.0M81.4 169.9C138.3 139.4 192.1 110.4 224.7 94.7M258.7 76.8C273.9 74.2 293.8 65.9 319.5 41.5M260.7 73.3C283.3 65.4 299.3 58.8 322.1 43.8M82.3 178.0C131.8 154.0 173.0 121.9 227.4 102.5M78.8 172.5C111.2 159.0 142.2 141.2 225.5 97.7M246.4 90.0C246.5 89.9 247.5 89.3 248.0 89.3M246.1 90.1C246.7 89.8 246.9 89.8 247.8 89.0M259.4 84.8C284.0 64.8 310.3 53.8 331.2 49.9M260.1 80.9C289.2 69.7 310.9 54.9 333.4 46.5M74.8 185.5C120.9 155.5 174.9 136.6 231.0 99.6M77.3 179.1C125.4 164.1 170.0 140.7 234.0 102.1M238.4 102.2C242.7 99.3 244.8 96.5 249.9 94.2M236.7 100.5C240.4 98.3 246.6 95.5 249.5 94.5M266.7 86.2C283.1 75.5 307.2 63.9 327.5 56.6M261.0 88.3C286.8 76.6 310.2 63.8 330.8 50.9M76.0 191.6C125.4 154.4 178.1 138.4 257.1 99.5M80.4 188.9C146.6 151.2 212.4 116.4 250.3 99.3M257.2 98.3C278.1 83.9 294.8 77.8 328.7 63.3M261.8 92.8C287.4 82.2 316.1 69.3 330.8 61.2M74.6 199.1C137.6 159.4 187.9 130.7 332.2 61.7M79.2 195.7C166.6 147.1 254.2 105.2 333.2 63.3M77.4 199.4C91.3 193.2 96.9 191.0 106.1 187.9M80.8 199.4C87.4 195.8 91.5 191.8 101.9 188.0M111.6 180.2C164.2 155.2 228.8 120.7 333.1 68.1M109.9 186.7C194.9 136.0 282.4 92.6 330.7 69.6M79.0 208.0C83.0 205.4 85.8 204.1 86.8 203.4M79.1 206.9C83.3 205.2 85.3 204.6 88.0 202.8M111.7 187.8C182.7 149.8 251.9 117.4 330.8 78.7M110.4 192.3C193.0 147.9 275.6 105.5 332.2 77.9M113.3 193.6C163.8 171.6 207.2 144.1 330.7 86.6M111.6 195.4C174.4 169.5 233.0 137.7 332.9 82.7M117.8 201.5C137.4 190.5 149.3 186.2 178.6 167.1M114.6 199.2C132.6 190.3 147.2 184.3 174.4 172.6M183.9 163.7C227.9 152.2 257.9 124.9 329.3 93.3M182.5 167.3C230.5 141.3 278.4 120.1 333.5 90.0M116.4 203.3C125.1 202.5 128.7 202.6 134.3 197.1M120.4 206.1C123.8 203.6 126.6 203.3 134.3 198.0M140.6 190.1C154.4 185.6 156.5 184.6 175.2 181.3M144.8 192.6C152.5 187.7 162.8 181.2 169.2 177.1M188.8 169.4C226.0 147.7 270.7 128.2 331.5 100.4M186.6 170.5C233.6 140.9 280.4 118.0 333.2 98.2M123.5 211.9C124.1 209.0 125.9 209.8 131.4 204.7M122.2 210.1C123.9 209.9 127.3 208.8 132.3 205.4M146.6 197.1C149.7 197.5 150.1 196.0 154.7 194.7M147.5 198.3C149.7 196.2 151.0 195.8 154.1 194.4M154.6 194.5C157.1 193.1 163.3 190.1 164.6 190.4M154.0 193.7C158.1 192.4 162.3 191.5 166.7 187.4M187.4 176.8C229.5 159.8 272.2 133.7 332.0 102.7M187.6 177.2C239.4 148.4 292.3 120.6 333.1 106.0M123.9 216.8C125.7 215.7 126.2 215.7 128.4 214.0M124.4 215.8C125.8 215.1 128.0 214.3 129.0 213.8M191.4 182.2C230.0 163.2 277.8 141.2 328.5 105.1M186.8 184.0C232.8 156.7 280.6 133.3 332.0 109.4M190.8 190.5C223.0 162.1 263.8 150.2 331.7 118.5M191.3 186.9C227.2 163.9 265.6 147.2 334.3 114.6M201.9 184.4C243.4 170.3 276.8 154.9 337.4 119.8M204.8 188.9C243.7 170.9 279.2 150.6 330.0 122.2M209.3 188.6C223.2 184.6 240.9 174.0 292.6 150.2M207.7 193.4C228.5 180.3 252.1 170.6 291.3 151.5M286.5 149.1C299.1 150.3 300.5 141.1 324.6 131.7M286.9 153.3C295.3 149.2 299.9 141.6 317.5 138.0M322.2 136.0C326.5 134.5 329.2 132.1 333.5 127.3M319.5 135.8C322.9 134.0 325.2 132.1 333.2 128.5M210.7 198.4C210.8 195.2 215.9 196.0 218.2 194.6M208.7 199.6C210.1 197.0 212.4 197.1 219.6 193.5M226.9 195.9C238.3 179.5 261.3 179.1 289.3 162.0M225.3 188.9C237.4 183.2 253.8 172.0 285.7 161.0M295.0 152.9C299.2 147.9 309.6 149.3 316.3 144.4M294.7 154.7C303.4 151.5 307.3 149.8 316.4 144.6M323.0 141.3C327.6 140.5 327.3 138.4 332.2 136.3M323.9 140.2C327.7 138.9 330.9 137.1 332.5 136.2M210.2 204.9C213.0 203.8 214.3 203.3 217.5 200.1M210.4 204.3C212.0 203.1 213.1 202.2 216.2 201.3M229.2 192.9C241.5 190.5 246.9 184.6 256.8 176.2M233.4 193.1C239.5 188.8 251.1 185.6 259.3 177.9M264.9 179.0C266.3 171.3 274.1 174.0 284.5 168.7M262.5 179.8C267.3 176.1 274.4 172.9 282.1 168.1M302.8 159.3C304.8 153.7 309.8 153.2 317.5 151.2M301.9 158.2C304.4 156.7 310.7 154.8 316.5 150.9M210.9 210.0C211.9 209.8 212.8 209.0 213.5 209.3M211.3 210.2C211.9 209.7 212.7 209.2 213.3 208.9M235.6 196.5C242.6 196.8 248.4 195.3 251.7 190.7M237.3 196.5C241.0 196.0 248.5 193.4 252.1 189.4M263.5 184.7C268.8 178.4 273.4 178.5 282.2 176.7M262.3 183.6C269.4 179.9 276.1 175.9 282.9 173.7M312.9 158.2C313.3 158.1 313.6 157.8 314.3 157.9M312.8 158.3C313.2 158.4 313.3 158.1 314.0 157.8M247.6 198.3C247.3 197.7 248.2 197.8 249.2 197.4M247.2 198.1C248.1 197.7 248.9 197.5 249.3 197.0M263.5 188.9C268.0 187.5 274.7 182.0 279.2 183.9M265.4 190.8C269.1 186.2 271.7 185.2 280.5 181.6M265.5 195.5C269.2 196.1 271.1 192.4 280.1 186.3M266.6 195.4C268.0 194.1 272.1 193.1 280.1 187.9M267.6 202.1C271.1 198.1 275.6 198.5 278.9 194.1M267.9 200.5C270.7 200.2 274.1 198.3 277.5 195.3M267.3 208.0C271.5 206.4 274.0 203.2 274.8 202.1M268.1 207.3C270.2 205.6 271.5 204.3 275.8 202.7M269.0 212.4C271.0 212.4 271.8 211.8 272.9 210.4M268.9 212.9C270.2 211.7 271.2 211.2 272.9 210.6M270.4 218.4C270.4 218.4 270.6 218.4 270.8 218.3M270.3 218.4C270.5 218.4 270.6 218.4 270.8 218.2" fill="none" stroke="#4d7eb2" stroke-width="2.2" stroke-linecap="round" stroke-linejoin="round" /><path d="M80.2 175.0L82.6 173.8L85.3 171.9L88.9 170.3L91.4 169.2L93.7 167.9L97.0 167.0L99.8 166.5L102.0 166.4L105.0 166.3L107.7 166.2L110.2 165.9L112.7 164.7L116.0 165.2L118.3 162.8L120.7 160.8L123.3 159.5L125.8 157.7L129.1 155.2L131.1 154.1L133.5 152.8L137.1 150.8L139.5 149.2L142.2 148.3L144.5 145.2L147.1 144.2L149.7 142.4L152.9 141.5L155.9 138.9L159.2 136.4L162.3 134.2L165.4 132.3L167.9 129.4L171.6 127.5L174.3 126.1L178.2 126.0L181.0 127.3L183.6 128.8L186.5 130.0L190.2 132.3L193.4 133.6L195.6 135.0L198.4 136.4L200.8 137.9L203.5 137.7L206.3 138.8L208.5 139.9L211.1 141.5L213.4 142.6L216.0 144.2L218.5 145.3L221.8 145.9L224.3 146.7L226.9 146.8L229.0 147.5L231.7 146.8L234.8 146.5L237.1 146.5L239.9 146.7L242.2 146.1L245.4 143.6L249.3 141.5L251.4 139.7L254.7 139.2L258.2 138.4L261.1 136.7L264.4 133.7L267.0 130.9L270.7 127.4L273.5 124.0L277.0 120.4L280.2 115.6L283.1 112.6L286.4 110.5L288.7 108.0L292.2 106.8L295.4 104.8L298.6 104.1L301.0 103.6L304.5 101.5L307.5 99.1L310.7 97.3L313.6 95.7L315.8 94.6L319.5 93.0L321.9 90.8L325.1 89.3L327.9 89.8L330.6 90.9M80.4 174.7L83.2 173.4L85.8 172.0L88.1 170.9L91.2 169.5L93.8 168.3L97.1 167.2L99.9 166.4L102.3 166.9L105.1 165.8L107.2 165.6L110.5 165.3L112.6 164.7L115.7 165.0L117.9 163.4L120.8 161.4L123.0 159.6L126.2 157.8L129.2 156.0L130.9 153.9L133.7 153.2L136.4 150.9L139.0 149.2L142.5 148.4L144.7 145.9L147.5 144.2L150.1 143.0L152.6 140.9L156.0 138.7L159.0 137.3L161.7 134.1L165.6 131.4L168.1 129.7L171.6 127.5L174.1 125.4L177.5 126.7L181.2 127.2L184.3 129.1L187.3 130.5L190.5 131.8L193.0 133.7L195.8 134.6L198.1 136.8L200.8 137.2L203.2 138.1L206.1 139.0L208.6 139.9L211.1 141.5L213.4 142.6L216.0 144.2L219.1 144.7L221.6 145.7L224.0 147.1L226.9 147.3L229.5 146.8L231.9 146.8L233.9 146.7L236.9 147.2L239.4 147.3L242.7 145.2L246.0 142.9L248.9 141.0L251.4 140.6L254.6 138.9L257.8 137.5L261.5 137.6L264.5 133.9L267.8 130.9L270.1 128.0L273.5 123.5L276.5 120.4L279.5 116.0L283.2 112.4L285.5 110.6L288.6 108.4L292.5 107.3L295.7 105.5L298.1 104.0L301.4 104.2L304.3 101.3L307.9 99.3L310.8 96.9L313.9 94.8L316.0 94.3L319.3 92.6L321.5 90.5L324.7 90.1L327.5 89.5L331.0 90.6" fill="none" stroke="#a52a2a" stroke-width="2.6" stroke-linecap="round" stroke-linejoin="round" /><path d="M35.0 180.9C34.5 180.9 32.8 181.0 31.8 181.1C30.8 181.2 29.5 180.9 29.0 181.5C28.5 182.0 28.7 183.3 28.6 184.2C28.5 185.1 27.9 186.5 28.4 186.8C28.9 187.1 30.4 186.0 31.4 186.0C32.4 186.1 33.6 186.5 34.2 187.2C34.8 187.8 35.1 188.9 35.0 189.8C34.9 190.8 34.2 192.2 33.4 192.9C32.6 193.6 31.3 194.0 30.4 194.0C29.5 194.0 28.6 193.1 28.2 192.9M41.5 180.7C41.0 181.1 39.2 182.0 38.5 183.3C37.8 184.6 37.5 186.9 37.5 188.5C37.5 190.1 38.0 191.9 38.5 192.8C39.0 193.7 39.7 194.2 40.5 194.0C41.3 193.9 42.6 193.1 43.3 191.8C44.0 190.6 44.7 188.2 44.9 186.6C45.1 185.0 44.7 183.3 44.3 182.3C43.9 181.3 42.9 180.7 42.3 180.5C41.7 180.3 41.0 181.2 40.7 181.3" fill="none" stroke="#1b1b25" stroke-width="1.7" stroke-linecap="round" stroke-linejoin="round" /><path d="M23.4 141.1L24.2 154.8M31.5 141.3C31.0 141.7 29.2 142.6 28.5 143.9C27.8 145.2 27.5 147.5 27.5 149.1C27.5 150.7 28.0 152.5 28.5 153.4C29.0 154.3 29.7 154.8 30.5 154.6C31.3 154.5 32.6 153.7 33.3 152.4C34.0 151.2 34.7 148.8 34.9 147.2C35.1 145.6 34.7 143.9 34.3 142.9C33.9 141.9 32.9 141.3 32.3 141.1C31.7 140.9 31.0 141.8 30.7 141.9M41.5 141.3C41.0 141.7 39.2 142.6 38.5 143.9C37.8 145.2 37.5 147.5 37.5 149.1C37.5 150.7 38.0 152.5 38.5 153.4C39.0 154.3 39.7 154.8 40.5 154.6C41.3 154.5 42.6 153.7 43.3 152.4C44.0 151.2 44.7 148.8 44.9 147.2C45.1 145.6 44.7 143.9 44.3 142.9C43.9 141.9 42.9 141.3 42.3 141.1C41.7 140.9 41.0 141.8 40.7 141.9" fill="none" stroke="#1b1b25" stroke-width="1.7" stroke-linecap="round" stroke-linejoin="round" /><path d="M23.9 101.8L24.7 115.5M35.0 102.2C34.5 102.2 32.8 102.3 31.8 102.4C30.8 102.5 29.5 102.2 29.0 102.8C28.5 103.3 28.7 104.6 28.6 105.5C28.5 106.4 27.9 107.8 28.4 108.1C28.9 108.4 30.4 107.3 31.4 107.3C32.4 107.4 33.6 107.8 34.2 108.5C34.8 109.1 35.1 110.2 35.0 111.1C34.9 112.1 34.2 113.5 33.4 114.2C32.6 114.9 31.3 115.3 30.4 115.3C29.5 115.3 28.6 114.4 28.2 114.2M41.5 102.0C41.0 102.4 39.2 103.3 38.5 104.6C37.8 105.9 37.5 108.2 37.5 109.8C37.5 111.4 38.0 113.2 38.5 114.1C39.0 115.0 39.7 115.5 40.5 115.3C41.3 115.2 42.6 114.4 43.3 113.1C44.0 111.9 44.7 109.5 44.9 107.9C45.1 106.3 44.7 104.6 44.3 103.6C43.9 102.6 42.9 102.0 42.3 101.8C41.7 101.6 41.0 102.5 40.7 102.6" fill="none" stroke="#1b1b25" stroke-width="1.7" stroke-linecap="round" stroke-linejoin="round" /><path d="M17.0 65.6C17.2 65.2 17.7 63.7 18.4 63.2C19.1 62.7 20.3 62.3 21.0 62.5C21.7 62.7 22.6 63.5 22.8 64.3C23.0 65.2 22.7 66.3 22.2 67.5C21.7 68.8 20.6 70.5 19.8 71.8C19.0 73.2 17.3 75.1 17.4 75.5C17.5 76.0 19.0 74.6 20.3 74.4C21.6 74.1 24.5 74.1 25.4 74.0M31.5 62.6C31.0 63.0 29.2 63.9 28.5 65.2C27.8 66.5 27.5 68.8 27.5 70.4C27.5 72.0 28.0 73.8 28.5 74.7C29.0 75.6 29.7 76.1 30.5 75.9C31.3 75.8 32.6 75.0 33.3 73.7C34.0 72.5 34.7 70.1 34.9 68.5C35.1 66.9 34.7 65.2 34.3 64.2C33.9 63.2 32.9 62.6 32.3 62.4C31.7 62.2 31.0 63.1 30.7 63.2M41.5 62.6C41.0 63.0 39.2 63.9 38.5 65.2C37.8 66.5 37.5 68.8 37.5 70.4C37.5 72.0 38.0 73.8 38.5 74.7C39.0 75.6 39.7 76.1 40.5 75.9C41.3 75.8 42.6 75.0 43.3 73.7C44.0 72.5 44.7 70.1 44.9 68.5C45.1 66.9 44.7 65.2 44.3 64.2C43.9 63.2 42.9 62.6 42.3 62.4C41.7 62.2 41.0 63.1 40.7 63.2" fill="none" stroke="#1b1b25" stroke-width="1.7" stroke-linecap="round" stroke-linejoin="round" /><path d="M17.5 26.3C17.7 25.8 18.2 24.3 18.9 23.8C19.6 23.3 20.8 22.9 21.5 23.1C22.2 23.3 23.1 24.1 23.3 24.9C23.5 25.8 23.2 26.9 22.7 28.2C22.2 29.4 21.1 31.1 20.3 32.4C19.5 33.8 17.8 35.7 17.9 36.1C18.0 36.6 19.5 35.2 20.8 35.0C22.1 34.7 25.0 34.7 25.9 34.6M35.0 23.4C34.5 23.4 32.8 23.5 31.8 23.6C30.8 23.7 29.5 23.4 29.0 24.0C28.5 24.5 28.7 25.8 28.6 26.7C28.5 27.6 27.9 29.0 28.4 29.3C28.9 29.6 30.4 28.5 31.4 28.5C32.4 28.6 33.6 29.0 34.2 29.7C34.8 30.3 35.1 31.4 35.0 32.3C34.9 33.3 34.2 34.7 33.4 35.4C32.6 36.1 31.3 36.5 30.4 36.5C29.5 36.5 28.6 35.6 28.2 35.4M41.5 23.2C41.0 23.6 39.2 24.5 38.5 25.8C37.8 27.1 37.5 29.4 37.5 31.0C37.5 32.6 38.0 34.4 38.5 35.3C39.0 36.2 39.7 36.7 40.5 36.5C41.3 36.4 42.6 35.6 43.3 34.3C44.0 33.1 44.7 30.7 44.9 29.1C45.1 27.5 44.7 25.8 44.3 24.8C43.9 23.8 42.9 23.2 42.3 23.0C41.7 22.8 41.0 23.7 40.7 23.8" fill="none" stroke="#1b1b25" stroke-width="1.7" stroke-linecap="round" stroke-linejoin="round" /><path d="M51.7 186.6L59.5 186.6M51.7 147.2L59.5 147.2M51.7 107.9L59.5 107.9M51.7 68.5L59.5 68.5M51.7 29.1L59.5 29.1" fill="none" stroke="#1b1b25" stroke-width="1.3" stroke-linecap="round" stroke-linejoin="round" /><path d="M77.5 247.1C77.7 246.6 78.2 245.1 78.8 244.6C79.5 244.1 80.7 243.7 81.5 243.9C82.2 244.1 83.0 244.9 83.2 245.7C83.5 246.6 83.2 247.7 82.7 248.9C82.2 250.2 81.0 251.9 80.2 253.2C79.5 254.6 77.8 256.5 77.8 256.9C77.9 257.4 79.4 256.0 80.8 255.8C82.1 255.5 85.0 255.5 85.8 255.4M92.0 244.0C91.5 244.4 89.6 245.3 89.0 246.6C88.3 247.9 88.0 250.2 88.0 251.8C88.0 253.4 88.5 255.2 89.0 256.1C89.5 257.0 90.2 257.5 91.0 257.3C91.8 257.2 93.0 256.4 93.8 255.1C94.5 253.9 95.2 251.5 95.3 249.9C95.5 248.3 95.2 246.6 94.8 245.6C94.3 244.6 93.3 244.0 92.8 243.8C92.2 243.6 91.4 244.5 91.2 244.6M98.3 243.8L99.2 257.5M106.7 244.6C106.3 245.3 105.4 247.5 104.7 248.9C103.9 250.4 102.0 252.5 102.2 253.1C102.5 253.8 104.8 253.1 106.2 252.9C107.8 252.8 110.4 252.3 111.2 252.2M107.8 247.6L108.5 257.5" fill="none" stroke="#1b1b25" stroke-width="1.7" stroke-linecap="round" stroke-linejoin="round" /><path d="M185.9 247.1C186.2 246.6 186.7 245.1 187.3 244.6C188.0 244.1 189.2 243.7 189.9 243.9C190.7 244.1 191.6 244.9 191.8 245.7C191.9 246.6 191.7 247.7 191.2 248.9C190.7 250.2 189.6 251.9 188.8 253.2C187.9 254.6 186.3 256.5 186.3 256.9C186.4 257.4 187.9 256.0 189.2 255.8C190.6 255.5 193.5 255.5 194.3 255.4M200.4 244.0C199.9 244.4 198.1 245.3 197.4 246.6C196.8 247.9 196.4 250.2 196.4 251.8C196.4 253.4 196.9 255.2 197.4 256.1C197.9 257.0 198.6 257.5 199.4 257.3C200.2 257.2 201.5 256.4 202.2 255.1C203.0 253.9 203.7 251.5 203.8 249.9C204.0 248.3 203.7 246.6 203.2 245.6C202.8 244.6 201.8 244.0 201.2 243.8C200.7 243.6 199.9 244.5 199.7 244.6M206.8 243.8L207.7 257.5M214.9 243.8C214.5 244.4 213.2 246.2 212.6 247.5C212.0 248.9 211.4 250.5 211.3 251.8C211.3 253.1 211.7 254.7 212.2 255.6C212.7 256.5 213.6 257.2 214.3 257.2C215.1 257.3 216.3 256.7 216.9 256.0C217.5 255.3 218.0 253.9 217.9 253.1C217.8 252.4 217.0 251.6 216.3 251.4C215.7 251.3 214.4 251.7 213.8 252.2C213.1 252.7 212.6 253.9 212.3 254.3" fill="none" stroke="#1b1b25" stroke-width="1.7" stroke-linecap="round" stroke-linejoin="round" /><path d="M295.2 247.1C295.4 246.6 295.9 245.1 296.6 244.6C297.3 244.1 298.5 243.7 299.2 243.9C299.9 244.1 300.8 244.9 301.0 245.7C301.2 246.6 300.9 247.7 300.4 248.9C299.9 250.2 298.8 251.9 298.0 253.2C297.2 254.6 295.5 256.5 295.6 256.9C295.7 257.4 297.2 256.0 298.5 255.8C299.8 255.5 302.8 255.5 303.6 255.4M309.7 244.0C309.2 244.4 307.4 245.3 306.7 246.6C306.0 247.9 305.7 250.2 305.7 251.8C305.7 253.4 306.2 255.2 306.7 256.1C307.2 257.0 307.9 257.5 308.7 257.3C309.5 257.2 310.8 256.4 311.5 255.1C312.2 253.9 312.9 251.5 313.1 249.9C313.3 248.3 312.9 246.6 312.5 245.6C312.1 244.6 311.1 244.0 310.5 243.8C309.9 243.6 309.2 244.5 308.9 244.6M316.1 243.8L316.9 257.5M325.4 244.6C325.0 244.5 323.8 243.7 323.2 243.9C322.6 244.1 321.7 245.0 321.6 245.7C321.5 246.5 321.8 247.6 322.4 248.4C323.0 249.2 324.4 249.8 325.0 250.7C325.6 251.5 326.3 252.7 326.2 253.7C326.1 254.7 325.3 256.2 324.6 256.7C323.9 257.3 322.8 257.3 322.2 256.9C321.6 256.6 321.0 255.4 321.0 254.5C321.0 253.5 321.8 252.3 322.4 251.4C323.0 250.5 324.2 249.8 324.8 248.9C325.4 248.1 326.0 247.0 326.0 246.3C326.0 245.5 325.2 244.7 325.0 244.4" fill="none" stroke="#1b1b25" stroke-width="1.7" stroke-linecap="round" stroke-linejoin="round" /><path d="M94.0 225.5L94.0 233.3M202.0 225.5L202.0 233.3M311.0 225.5L311.0 233.3" fill="none" stroke="#1b1b25" stroke-width="1.3" stroke-linecap="round" stroke-linejoin="round" /><path d="M13.8 22.3L13.8 5.3" stroke="#1b1b25" stroke-width="2.2" fill="none"/><path d="M8.1 7.6L13.8 1.7L19.5 7.6Z" fill="#1b1b25"/><path d="M39.7 5.1C39.4 4.8 38.8 3.4 38.2 3.5C37.6 3.6 36.9 4.5 36.2 5.9C35.6 7.3 34.8 9.9 34.5 11.8C34.2 13.7 34.1 15.8 34.3 17.3C34.5 18.9 35.1 20.3 35.8 21.1C36.6 21.9 37.8 22.2 38.8 22.1C39.9 22.0 41.7 20.9 42.3 20.7M44.8 2.9L45.4 22.3M51.9 10.7C51.5 11.1 49.9 11.8 49.3 12.9C48.7 14.0 48.2 15.9 48.2 17.3C48.3 18.7 48.9 20.3 49.5 21.1C50.1 21.9 50.9 22.3 51.7 22.1C52.5 21.9 53.7 20.8 54.3 19.7C54.9 18.6 55.4 16.6 55.4 15.3C55.3 14.0 54.7 12.5 54.1 11.7C53.4 10.9 52.1 10.8 51.7 10.6M64.0 11.3C63.6 11.2 62.3 10.4 61.4 10.5C60.5 10.6 59.3 11.2 58.8 11.9C58.3 12.6 58.2 13.7 58.6 14.5C59.0 15.3 60.6 16.0 61.4 16.7C62.2 17.4 63.2 18.1 63.3 18.9C63.5 19.7 63.0 20.9 62.3 21.4C61.6 21.9 60.1 22.2 59.2 22.1C58.4 22.1 57.4 21.3 57.1 21.1M66.8 17.3C67.3 17.1 69.0 16.7 70.0 16.1C71.1 15.5 72.5 14.7 72.9 13.9C73.2 13.1 72.7 11.9 72.2 11.3C71.7 10.8 70.6 10.3 69.8 10.6C69.0 10.9 68.0 11.9 67.5 12.9C66.9 13.9 66.6 15.6 66.6 16.9C66.6 18.2 67.1 19.8 67.7 20.7C68.2 21.6 69.0 22.2 70.0 22.1C71.1 22.0 73.1 20.6 73.7 20.3" fill="none" stroke="#1b1b25" stroke-width="1.7" stroke-linecap="round" stroke-linejoin="round" /></svg></div>
<h2 style="left:808px;top:433.5px;letter-spacing:0.05px">box</h2>
<div class="card" style="left:808px;top:478px"><svg width="360" height="270" viewBox="0 0 360 270"><path d="M124.4 39.8C125.6 41.7 125.9 43.2 126.8 45.2M124.7 39.9C125.4 41.6 126.4 43.5 126.9 45.9M120.8 40.5C120.7 45.3 123.0 48.7 125.6 55.3M120.5 40.9C121.5 43.9 123.3 48.5 126.5 57.1M114.6 39.4C116.5 48.5 120.1 59.3 127.9 68.9M114.2 39.6C119.9 46.9 122.8 57.2 128.1 68.0M112.1 38.1C116.1 52.8 118.7 61.0 129.0 79.8M109.5 38.8C114.7 50.1 120.9 63.7 127.3 78.2M103.3 40.0C109.5 54.9 117.3 72.3 129.6 91.1M104.2 38.7C112.3 58.1 120.6 77.4 126.1 89.6M99.8 39.7C111.4 62.2 120.3 81.1 129.6 101.8M101.2 40.3C108.5 56.2 113.2 72.3 128.3 101.0M96.0 41.7C107.8 67.3 121.6 94.8 128.0 112.4M95.0 41.0C105.8 63.1 116.3 88.2 125.8 113.1M93.1 40.4C99.3 58.5 105.5 76.0 122.3 117.1M91.5 40.9C102.7 63.5 112.5 88.9 125.2 118.2M84.6 42.5C93.4 59.7 104.4 82.8 118.7 118.7M87.7 41.4C96.5 62.7 104.2 84.8 119.3 117.5M78.8 41.8C92.2 71.1 104.4 102.1 117.5 117.2M81.5 41.5C95.5 68.4 106.1 94.8 115.7 119.3M77.6 41.2C87.3 66.7 94.3 86.1 107.5 116.9M77.7 40.1C82.5 56.6 89.3 74.4 108.7 117.2M69.8 40.7C84.5 67.0 94.3 87.5 107.1 119.2M72.0 39.2C83.4 68.1 97.8 97.7 105.5 117.3M64.6 39.3C74.3 59.2 84.3 81.0 101.2 120.1M65.9 40.1C79.3 69.3 92.8 99.1 101.2 118.8M62.1 41.4C71.9 60.3 78.0 75.5 96.1 116.5M62.3 41.4C70.9 60.0 80.6 80.3 96.1 116.7M57.0 39.7C71.3 72.8 84.7 99.3 93.2 117.5M56.6 41.0C69.7 68.3 80.9 92.8 89.7 119.5M55.7 38.3C64.2 65.3 69.3 82.9 83.9 115.6M52.7 39.7C59.5 54.3 66.6 70.3 86.1 117.2M47.7 37.6C57.9 58.7 65.3 77.5 78.5 120.9M47.9 38.5C56.0 58.6 65.2 79.3 81.7 118.6M41.8 37.3C50.1 60.5 62.2 82.7 78.9 117.3M42.5 38.9C51.8 63.5 61.3 86.3 75.7 117.6M39.0 46.9C48.8 62.4 55.9 82.5 69.6 118.3M40.7 45.2C46.9 62.3 56.5 80.4 70.6 116.8M41.1 54.4C48.5 78.5 61.4 101.3 65.3 118.7M41.0 57.2C49.6 76.3 56.3 94.6 68.3 117.4M43.1 67.0C50.9 85.0 57.8 109.5 60.7 120.1M40.1 67.9C48.1 84.7 57.1 101.7 62.5 117.9M43.7 80.5C47.6 89.3 50.7 103.5 58.5 119.9M40.7 78.7C43.9 86.4 48.2 95.1 58.3 117.9M38.6 90.7C43.8 101.0 52.3 110.8 52.0 118.2M42.4 92.0C43.6 98.1 44.9 101.4 52.3 119.2M40.7 103.0C44.6 108.0 47.4 115.0 46.7 116.5M40.7 102.4C42.2 105.5 43.8 110.6 47.3 117.8M41.3 112.9C41.2 115.1 41.9 116.1 43.4 117.8M41.1 113.4C41.5 114.8 42.1 116.4 42.9 118.0M220.5 121.8C221.2 123.8 221.5 125.9 222.5 128.6M220.4 122.1C220.7 123.5 221.7 125.1 222.9 127.9M214.8 123.5C217.6 125.8 218.9 130.6 224.3 138.9M215.1 122.6C216.6 127.9 218.9 131.8 222.6 140.1M210.7 122.0C212.4 127.4 215.6 135.3 224.3 152.0M208.8 121.9C213.3 129.8 217.5 138.2 223.1 151.8M203.2 123.8C207.7 130.7 211.5 145.4 223.1 164.1M205.8 122.5C209.1 131.0 213.7 140.8 222.3 164.8M200.6 120.3C207.9 136.7 210.7 152.9 215.7 164.9M200.7 123.1C206.7 137.7 212.9 156.4 216.2 164.5M191.9 120.8C199.8 132.4 203.8 143.9 213.6 164.7M195.5 121.0C200.8 138.0 207.3 151.2 213.6 165.5M187.0 120.8C195.4 131.7 199.1 142.2 208.2 163.2M190.3 122.9C193.8 137.0 202.3 151.9 208.2 163.6M182.6 124.1C188.5 137.4 195.4 154.9 203.3 164.5M184.7 122.6C189.0 133.5 193.2 144.1 201.8 164.7M181.0 120.9C183.7 133.0 188.4 140.6 199.3 167.1M178.9 121.7C182.0 132.2 185.3 141.8 195.7 164.6M174.1 120.6C179.7 133.8 182.9 149.8 193.3 164.7M173.4 122.4C180.4 138.5 188.0 156.0 191.7 163.7M168.4 121.4C175.6 136.2 182.2 152.3 185.6 165.9M167.4 122.2C171.7 133.2 176.9 143.6 187.4 164.7M161.1 120.5C170.0 137.2 172.3 148.9 179.9 162.6M164.2 121.7C168.7 136.6 175.0 148.1 180.3 163.7M159.3 119.5C165.7 137.8 168.0 149.8 176.7 165.5M157.2 122.0C162.0 131.5 167.5 142.1 176.1 164.6M154.9 123.8C159.0 132.8 161.6 143.9 170.9 166.8M151.5 121.4C158.0 136.7 164.6 150.8 171.4 164.3M145.8 119.7C150.9 132.7 157.2 141.0 166.8 166.2M148.1 123.2C151.4 131.7 155.7 143.4 165.4 163.6M144.8 124.5C146.8 130.8 150.7 141.9 158.2 164.8M143.0 121.5C146.2 133.4 152.8 145.3 161.5 163.7M136.8 122.4C141.4 133.8 148.2 141.2 157.0 164.2M137.4 123.2C142.3 136.3 151.0 152.6 153.7 164.6M134.9 135.3C142.2 147.1 144.4 155.8 149.7 164.6M138.2 135.2C140.6 145.0 144.5 155.3 150.3 165.6M135.4 148.1C140.9 153.9 141.0 159.3 143.6 163.6M137.5 147.0C140.2 153.2 142.5 161.3 144.9 165.1M137.2 159.3C137.8 159.8 137.7 161.8 139.7 164.8M136.8 158.9C137.8 160.9 138.7 163.1 139.6 164.3M315.7 134.7C317.2 136.9 318.5 139.6 319.2 141.9M316.0 134.5C317.0 136.8 318.0 139.2 319.1 142.2M309.4 133.8C311.6 138.7 314.1 144.5 317.7 156.2M310.0 134.7C312.0 142.4 315.4 150.2 318.3 157.0M304.8 135.5C308.2 146.0 312.8 159.6 317.6 168.3M302.7 134.7C308.7 146.2 313.6 156.4 316.7 168.3M295.8 135.3C301.3 142.3 302.2 149.5 310.4 166.6M296.9 133.9C302.9 146.3 306.8 157.7 311.4 166.8M292.4 135.3C292.9 143.7 297.3 152.8 306.1 167.6M289.7 134.3C294.7 141.5 296.9 150.0 304.2 168.3M282.7 134.4C288.7 146.7 294.6 157.6 299.2 166.3M284.5 134.3C289.0 147.0 294.4 158.8 299.1 167.9M278.3 133.5C282.9 146.2 287.2 156.3 290.4 166.3M278.0 133.9C282.5 144.5 287.1 153.7 291.3 166.6M271.4 135.8C276.0 144.7 282.4 158.0 286.9 168.9M271.4 134.5C277.1 147.3 283.6 160.1 285.6 166.7M264.5 135.4C268.1 144.2 275.6 155.7 277.9 165.9M265.4 133.7C268.8 143.5 272.3 150.5 278.6 167.0M260.1 135.7C264.0 148.1 270.2 159.7 273.3 168.5M259.5 134.9C264.4 146.6 268.7 156.2 272.9 167.0M253.0 135.1C256.3 142.1 259.9 148.8 268.1 166.5M252.1 134.7C257.0 144.4 261.5 154.1 267.3 166.8M247.1 136.3C250.1 142.3 252.9 151.8 261.5 166.3M246.9 135.3C250.2 140.9 252.6 148.5 260.8 167.1M241.4 132.7C241.9 142.1 245.0 148.2 255.2 168.9M240.1 133.7C243.4 142.1 246.8 148.3 255.1 167.1M232.5 134.7C237.3 144.6 243.7 157.7 246.4 166.6M233.4 134.1C238.6 145.3 242.5 155.8 248.1 168.2M234.1 146.9C233.6 151.8 236.2 155.4 240.9 168.1M232.5 146.5C235.2 153.5 238.5 159.7 241.2 167.9M233.0 161.9C233.4 163.1 234.1 164.1 235.6 167.4M233.0 162.1C233.7 163.7 234.4 165.0 235.4 167.3" fill="none" stroke="#4d7eb2" stroke-width="1.8" stroke-linecap="round" stroke-linejoin="round" /><path d="M82.1 -6.1C85.1 53.5 82.7 114.1 85.3 230.5M83.9 -3.6C85.5 70.2 86.2 142.6 83.8 232.4M40.1 64.4C60.8 65.9 85.2 61.5 125.3 62.1M41.6 64.9C67.6 63.9 94.6 64.4 127.9 64.3M180.9 72.1C180.1 105.7 178.3 141.3 181.4 200.1M179.3 72.5C178.5 123.6 180.0 173.5 180.0 201.1M135.4 144.3C165.4 142.3 197.5 142.1 221.3 143.4M137.9 144.5C155.5 145.4 172.6 143.9 221.9 144.3M274.0 111.9C277.4 143.3 277.0 178.3 276.6 210.4M276.2 109.8C275.0 139.0 275.9 167.6 275.7 208.3M232.7 149.8C260.6 149.4 288.2 150.9 319.0 153.6M233.4 153.2C266.8 153.1 299.7 152.0 318.0 152.0" fill="none" stroke="#000" stroke-width="1.25" stroke-linecap="round" stroke-linejoin="round" /><path d="M273.2 80.2C273.4 76.6 276.8 75.2 279 77.2C280.6 79.6 278.6 83.6 275.6 83.2C273.6 82.8 272.8 81.2 273.6 79.4" fill="none" stroke="#000" stroke-width="1.4" stroke-linecap="round" stroke-linejoin="round" /><path d="M180.0 225L180.0 234M276.0 225L276.0 234" fill="none" stroke="#1b1b25" stroke-width="1.3" stroke-linecap="round" stroke-linejoin="round" /><path d="M60.0 237.3L61.5 255.3M59.1 238.1C59.8 237.9 61.9 236.7 63.2 236.9C64.5 237.1 66.6 238.2 66.9 239.3C67.2 240.4 66.0 242.2 65.2 243.3C64.3 244.4 61.7 245.3 61.9 245.9C62.1 246.5 65.2 246.4 66.2 247.1C67.3 247.8 68.2 249.1 68.2 250.3C68.2 251.5 67.3 253.2 66.2 254.1C65.2 255.0 62.5 255.3 61.7 255.5M71.4 245.1L72.0 255.7M71.2 240.7L71.3 241.5M81.2 244.7C80.8 244.6 79.5 243.8 78.7 243.9C77.8 244.0 76.5 244.6 76.1 245.3C75.6 246.0 75.4 247.1 75.8 247.9C76.3 248.7 77.9 249.4 78.7 250.1C79.4 250.8 80.5 251.5 80.6 252.3C80.7 253.1 80.2 254.3 79.5 254.8C78.8 255.3 77.4 255.6 76.5 255.5C75.6 255.4 74.7 254.7 74.3 254.5M89.9 245.3C89.5 245.1 88.5 243.9 87.7 244.0C86.9 244.1 85.8 244.7 85.1 245.7C84.5 246.7 83.7 248.7 83.6 250.1C83.5 251.5 84.1 253.4 84.7 254.3C85.3 255.2 86.1 255.5 87.1 255.4C88.0 255.3 89.8 254.1 90.3 253.9M95.7 244.1C95.3 244.5 93.7 245.2 93.1 246.3C92.5 247.4 92.0 249.3 92.0 250.7C92.1 252.1 92.8 253.7 93.3 254.5C93.9 255.3 94.7 255.7 95.5 255.5C96.3 255.3 97.5 254.2 98.1 253.1C98.7 252.0 99.2 250.0 99.2 248.7C99.1 247.4 98.5 245.9 97.9 245.1C97.3 244.3 95.9 244.2 95.5 244.0M102.0 250.7C102.5 250.5 104.2 250.1 105.2 249.5C106.2 248.9 107.7 248.1 108.0 247.3C108.4 246.5 107.9 245.2 107.4 244.7C106.9 244.1 105.8 243.7 105.0 244.0C104.2 244.3 103.2 245.2 102.6 246.3C102.1 247.3 101.7 249.0 101.8 250.3C101.8 251.6 102.3 253.2 102.8 254.1C103.4 255.0 104.2 255.6 105.2 255.5C106.2 255.4 108.3 254.0 108.9 253.7" fill="none" stroke="#1b1b25" stroke-width="1.7" stroke-linecap="round" stroke-linejoin="round" /><path d="M153.0 237.3L154.5 255.3M151.9 238.3C152.7 238.1 155.1 236.9 156.7 237.3C158.3 237.7 160.4 239.2 161.4 240.7C162.5 242.2 163.1 244.2 162.9 246.1C162.8 248.0 162.0 250.5 160.6 252.1C159.2 253.7 155.5 254.9 154.5 255.5M165.5 243.9L166.2 255.7M166.2 249.2C166.4 248.6 167.1 246.7 167.7 245.9C168.3 245.1 169.1 244.4 169.8 244.2C170.6 244.0 171.8 244.6 172.2 244.7M174.2 250.7C174.7 250.5 176.4 250.1 177.4 249.5C178.4 248.9 179.9 248.1 180.2 247.3C180.6 246.5 180.1 245.2 179.6 244.7C179.1 244.1 178.0 243.7 177.2 244.0C176.4 244.3 175.4 245.2 174.8 246.3C174.3 247.3 173.9 249.0 174.0 250.3C174.0 251.6 174.5 253.2 175.0 254.1C175.6 255.0 176.4 255.6 177.4 255.5C178.4 255.4 180.5 254.0 181.1 253.7M189.7 245.7C189.3 245.4 188.2 244.0 187.3 244.0C186.5 244.0 185.4 244.7 184.8 245.7C184.1 246.7 183.3 248.7 183.2 250.1C183.2 251.5 183.8 253.3 184.3 254.1C184.9 254.9 185.8 255.3 186.5 254.9C187.2 254.5 188.1 253.0 188.6 251.7C189.2 250.4 189.7 247.9 189.9 247.1M190.2 244.1C190.2 245.2 190.0 249.0 190.2 250.7C190.3 252.4 190.5 253.5 190.8 254.3C191.1 255.1 191.9 255.3 192.1 255.5M193.6 243.9L194.3 255.7M194.3 249.2C194.5 248.6 195.2 246.5 195.8 245.7C196.3 244.8 197.1 244.0 197.7 244.1C198.3 244.2 199.1 245.0 199.4 246.1C199.8 247.2 199.8 249.1 199.9 250.7C200.0 252.3 200.1 254.9 200.1 255.7M200.0 249.2C200.2 248.6 201.0 246.5 201.6 245.7C202.2 244.8 203.1 244.0 203.8 244.1C204.4 244.2 205.1 245.0 205.5 246.1C205.9 247.2 206.0 249.1 206.1 250.7C206.3 252.3 206.5 254.9 206.6 255.7" fill="none" stroke="#1b1b25" stroke-width="1.7" stroke-linecap="round" stroke-linejoin="round" /><path d="M157.8 245.9L158.4 264.7M167.9 253.7C167.5 253.6 166.2 252.8 165.3 252.9C164.4 253.0 163.2 253.6 162.7 254.3C162.3 255.0 162.1 256.1 162.5 256.9C162.9 257.7 164.5 258.4 165.3 259.1C166.1 259.8 167.1 260.5 167.3 261.3C167.4 262.1 166.9 263.3 166.2 263.8C165.5 264.3 164.0 264.6 163.2 264.5C162.3 264.4 161.4 263.7 161.0 263.5M170.5 245.3L171.1 264.7M180.6 254.7C180.3 254.4 179.1 253.0 178.3 253.0C177.4 253.0 176.4 253.7 175.7 254.7C175.0 255.7 174.2 257.7 174.2 259.1C174.1 260.5 174.7 262.3 175.2 263.1C175.8 263.9 176.7 264.3 177.4 263.9C178.1 263.5 179.0 262.0 179.6 260.7C180.1 259.4 180.6 256.9 180.9 256.1M181.1 253.1C181.1 254.2 181.0 258.0 181.1 259.7C181.2 261.4 181.4 262.5 181.7 263.3C182.1 264.1 182.8 264.3 183.0 264.5M184.5 252.9L185.2 264.7M185.2 258.2C185.5 257.6 186.3 255.5 186.9 254.7C187.6 253.8 188.4 253.1 189.1 253.1C189.8 253.1 190.6 253.8 191.0 254.9C191.4 256.0 191.3 258.1 191.4 259.7C191.6 261.3 191.6 263.9 191.7 264.7M201.2 254.7C200.8 254.4 199.6 253.0 198.8 253.0C198.0 253.0 196.9 253.7 196.2 254.7C195.5 255.7 194.8 257.7 194.7 259.1C194.6 260.5 195.2 262.3 195.8 263.1C196.3 263.9 197.2 264.3 197.9 263.9C198.6 263.5 199.5 262.0 200.1 260.7C200.7 259.4 201.2 256.9 201.4 256.1M201.4 245.3L202.2 264.7" fill="none" stroke="#1b1b25" stroke-width="1.7" stroke-linecap="round" stroke-linejoin="round" /><path d="M232.2 238.3L247.3 236.7M238.6 237.5L239.7 255.7M250.9 244.1C250.5 244.5 249.0 245.2 248.4 246.3C247.7 247.4 247.2 249.3 247.3 250.7C247.3 252.1 248.0 253.7 248.6 254.5C249.1 255.3 249.9 255.7 250.7 255.5C251.5 255.3 252.7 254.2 253.3 253.1C253.9 252.0 254.4 250.0 254.4 248.7C254.4 247.4 253.7 245.9 253.1 245.1C252.5 244.3 251.1 244.2 250.7 244.0M256.8 243.9L257.4 255.7M257.4 249.2C257.7 248.6 258.3 246.7 258.9 245.9C259.5 245.1 260.3 244.4 261.1 244.2C261.9 244.0 263.1 244.6 263.5 244.7M271.7 245.7C271.3 245.4 270.2 244.0 269.3 244.0C268.4 244.0 267.2 244.8 266.5 245.7C265.8 246.6 265.1 248.5 265.0 249.7C264.9 250.9 265.5 252.5 266.1 253.1C266.6 253.7 267.7 253.9 268.4 253.5C269.2 253.1 270.0 251.8 270.6 250.7C271.2 249.6 271.7 247.4 271.9 246.7M272.1 244.1C272.1 245.4 272.2 249.3 272.1 251.7C272.0 254.1 271.9 256.8 271.5 258.7C271.1 260.6 270.5 262.3 269.7 263.3C269.0 264.3 267.8 264.7 266.9 264.7C266.1 264.7 264.9 263.4 264.6 263.1M275.6 250.7C276.1 250.5 277.8 250.1 278.8 249.5C279.8 248.9 281.3 248.1 281.6 247.3C282.0 246.5 281.5 245.2 281.0 244.7C280.5 244.1 279.4 243.7 278.6 244.0C277.8 244.3 276.8 245.2 276.2 246.3C275.7 247.3 275.3 249.0 275.4 250.3C275.4 251.6 275.9 253.2 276.4 254.1C277.0 255.0 277.8 255.6 278.8 255.5C279.8 255.4 281.9 254.0 282.5 253.7M284.6 243.9L285.3 255.7M285.3 249.2C285.5 248.6 286.2 246.7 286.8 245.9C287.4 245.1 288.2 244.4 289.0 244.2C289.7 244.0 290.9 244.6 291.3 244.7M299.1 244.7C298.7 244.6 297.4 243.8 296.5 243.9C295.7 244.0 294.4 244.6 293.9 245.3C293.5 246.0 293.3 247.1 293.7 247.9C294.1 248.7 295.7 249.4 296.5 250.1C297.3 250.8 298.3 251.5 298.5 252.3C298.6 253.1 298.1 254.3 297.4 254.8C296.7 255.3 295.2 255.6 294.4 255.5C293.5 255.4 292.6 254.7 292.2 254.5M301.9 250.7C302.5 250.5 304.2 250.1 305.2 249.5C306.2 248.9 307.6 248.1 308.0 247.3C308.3 246.5 307.8 245.2 307.3 244.7C306.8 244.1 305.7 243.7 304.9 244.0C304.2 244.3 303.1 245.2 302.6 246.3C302.0 247.3 301.7 249.0 301.7 250.3C301.7 251.6 302.2 253.2 302.8 254.1C303.4 255.0 304.2 255.6 305.2 255.5C306.2 255.4 308.2 254.0 308.8 253.7M311.0 243.9L311.6 255.7M311.6 249.2C311.9 248.6 312.7 246.5 313.4 245.7C314.0 244.8 314.8 244.1 315.5 244.1C316.2 244.1 317.1 244.8 317.5 245.9C317.9 247.0 317.8 249.1 317.9 250.7C318.0 252.3 318.1 254.9 318.1 255.7" fill="none" stroke="#1b1b25" stroke-width="1.7" stroke-linecap="round" stroke-linejoin="round" /></svg></div>
<h2 style="left:28px;top:847.5px;letter-spacing:0.20px">contour</h2>
<div class="card" style="left:28px;top:892px"><svg width="360" height="270" viewBox="0 0 360 270"><path d="M66.3 38.3C69.9 34.3 69.9 31.5 76.2 27.8M64.7 36.5C68.0 34.0 72.2 32.4 76.9 29.2M64.3 47.2C69.4 36.0 81.0 35.4 90.9 28.2M58.1 44.6C65.5 42.3 72.6 39.8 92.4 29.1M60.7 52.2C68.2 44.4 81.7 44.3 105.1 31.8M59.9 53.3C76.8 44.8 92.3 35.3 105.7 32.2M60.9 56.6C78.3 49.4 94.1 45.9 115.6 30.3M60.0 61.3C74.7 50.3 90.9 42.8 118.0 29.1M57.7 66.8C76.1 63.7 90.3 53.2 129.1 29.8M60.6 65.0C79.9 56.7 96.1 48.9 128.3 29.0M64.3 69.1C81.3 62.0 106.1 48.8 140.6 32.2M59.5 72.4C89.8 54.2 121.2 38.7 141.8 31.8M57.2 79.0C84.6 60.1 116.9 50.8 153.6 32.4M59.9 77.1C89.5 62.8 121.6 43.8 157.6 31.1M63.6 81.8C96.3 71.7 134.3 50.7 171.0 31.2M58.0 85.1C97.3 67.2 132.7 48.6 169.2 30.5M58.1 91.2C95.2 76.7 136.5 51.0 186.9 30.2M59.2 93.1C106.3 71.9 151.3 47.9 183.5 29.1M63.0 103.2C99.9 77.7 140.5 52.9 197.5 25.5M59.6 100.7C108.9 77.1 162.4 49.5 195.2 30.6M58.7 108.7C97.9 85.9 133.7 69.5 212.3 29.0M59.8 106.8C107.8 78.0 153.3 57.3 210.2 28.9M63.5 110.1C97.1 90.8 133.9 70.8 224.3 30.7M61.4 114.7C97.5 97.0 131.8 80.4 221.5 32.1M58.0 123.0C133.1 91.3 196.4 53.3 233.5 25.8M61.9 119.9C115.5 87.7 177.2 57.9 236.9 30.1M59.5 129.2C117.3 96.6 167.5 69.1 245.7 25.6M61.5 125.0C125.6 90.1 190.5 60.6 251.1 32.1M56.1 134.6C111.7 112.2 159.6 82.1 265.3 27.3M58.1 132.6C122.3 107.0 178.9 75.6 262.0 28.3M61.6 136.3C108.1 114.3 161.1 83.6 274.8 31.0M61.4 138.7C108.6 119.7 159.3 95.7 276.6 28.9M57.2 149.6C109.7 114.9 159.9 90.7 291.6 30.2M61.1 147.5C118.8 119.3 178.2 92.7 291.0 31.2M63.4 157.2C143.0 111.4 223.9 67.5 299.9 33.0M62.1 155.4C116.7 128.9 172.3 98.7 302.6 28.2M62.6 163.8C142.1 116.9 222.9 71.2 313.2 32.0M59.3 161.5C148.5 114.9 235.6 70.5 317.2 28.8M63.6 167.2C115.7 139.2 168.5 113.5 322.2 33.0M61.0 165.3C160.7 115.7 265.6 64.3 320.5 33.9M60.1 176.3C167.9 123.7 268.5 67.0 326.9 34.0M58.9 172.1C118.6 141.0 170.9 113.9 328.9 35.6M60.9 179.7C165.0 125.4 272.3 71.0 330.7 45.4M60.2 181.2C138.8 140.5 217.8 102.7 328.4 43.9M60.4 188.0C123.6 148.2 189.5 116.2 329.0 51.6M58.9 186.4C152.2 140.1 246.4 96.5 329.6 48.4M60.2 193.3C155.9 143.6 253.6 94.1 330.1 56.3M59.8 193.3C127.6 156.6 191.7 123.5 330.0 56.3M58.3 204.5C159.1 149.2 253.5 100.7 327.3 64.3M60.7 199.3C162.1 151.7 263.1 99.6 330.9 64.4M56.3 209.8C128.3 173.3 188.3 140.2 326.3 73.1M59.4 205.7C132.0 170.4 205.1 136.2 330.3 71.4M62.6 213.4C133.8 181.8 205.8 141.5 330.2 76.5M60.3 212.9C122.6 181.2 188.7 150.0 328.6 75.4M60.1 215.7C145.4 180.0 222.6 143.7 334.0 80.3M65.8 218.3C153.0 178.6 232.8 135.0 329.0 81.0M72.2 225.8C156.7 182.1 244.4 140.0 332.9 88.4M70.3 224.5C162.3 170.8 251.0 127.5 330.7 90.9M74.1 226.6C171.7 178.9 263.2 126.2 334.1 94.3M77.6 226.2C157.4 177.1 237.8 136.3 331.7 98.3M87.2 223.1C159.2 192.6 237.2 157.2 331.4 104.8M90.7 224.0C139.1 201.4 188.4 174.8 328.3 104.5M104.1 226.8C162.4 196.5 228.9 161.0 331.7 112.6M103.9 224.8C191.1 181.0 277.4 136.7 329.3 110.0M119.4 227.5C175.0 193.0 240.3 159.5 331.9 116.8M117.3 225.5C169.3 199.2 220.5 172.1 329.6 118.9M132.4 226.7C200.6 186.7 269.7 159.5 326.7 124.7M131.7 225.4C174.4 204.4 218.8 179.7 330.0 122.9M140.7 223.6C191.9 201.4 235.6 174.7 332.1 133.1M142.6 223.4C203.8 189.7 265.0 161.0 328.8 128.7M158.0 225.4C205.9 199.2 247.6 183.0 329.3 134.4M158.5 225.0C224.9 193.3 295.0 155.8 331.1 135.8M170.3 225.7C209.9 207.8 246.3 194.4 330.4 143.1M171.3 225.3C204.2 205.1 235.8 190.5 327.9 142.4M187.2 226.6C226.9 204.2 266.8 181.6 330.5 153.5M185.0 226.7C236.8 197.7 292.1 171.5 328.4 152.0M200.7 224.4C237.3 201.5 282.6 183.0 331.7 155.8M197.6 223.6C244.5 200.8 289.2 182.0 330.7 158.6M211.8 227.9C255.9 205.8 302.3 176.2 329.8 164.6M211.6 225.2C244.0 205.3 276.2 190.9 331.6 165.2M219.6 224.8C261.7 200.2 299.9 186.3 328.8 171.0M225.3 224.4C248.4 212.9 272.9 202.6 330.7 168.5M238.3 220.7C270.4 210.0 298.8 189.3 329.3 179.4M236.0 226.7C269.4 204.0 309.0 188.2 329.0 176.3M252.2 223.2C280.7 207.8 302.4 199.0 326.3 184.0M250.2 226.7C274.8 213.8 297.9 201.7 329.5 184.9M262.0 226.8C284.8 211.1 315.2 199.9 327.9 189.2M265.0 225.2C281.6 215.0 301.8 203.0 329.8 188.7M273.9 225.6C295.4 221.5 302.8 214.1 325.8 196.1M275.4 223.7C293.6 216.2 308.4 208.7 330.8 195.9M290.1 224.6C303.6 221.1 312.2 215.2 330.0 203.1M289.3 224.8C302.6 216.5 319.9 212.8 327.8 206.2M300.6 227.2C305.1 224.3 312.7 220.3 327.2 207.6M301.0 223.2C312.7 218.1 321.7 214.7 330.9 210.7M316.3 225.0C319.0 223.3 320.3 222.6 322.7 222.8M315.8 225.4C318.0 224.2 318.9 223.3 321.7 221.9" fill="none" stroke="#23171b" stroke-width="2.4" stroke-linecap="round" stroke-linejoin="round" /><path d="M98.2 35.0C100.9 32.2 103.6 31.9 105.6 31.1M98.9 34.7C102.0 32.7 104.2 31.0 106.1 30.4M96.6 43.8C104.5 35.2 111.2 32.9 116.5 30.2M96.7 41.4C100.5 39.6 104.8 35.8 118.5 30.3M91.7 53.8C101.2 42.0 111.4 33.8 128.7 27.8M92.1 51.1C102.2 42.7 116.4 34.6 130.8 32.2M90.8 57.8C102.5 52.5 119.3 40.4 144.1 34.4M88.0 59.0C103.9 51.3 118.2 42.9 138.9 31.3M88.7 61.0C108.4 54.2 120.3 48.2 153.1 28.9M91.7 61.1C110.1 51.9 131.1 41.7 150.4 28.7M88.3 68.9C112.7 60.7 125.1 51.2 166.5 30.9M89.3 66.8C107.3 58.5 121.0 50.7 161.1 30.3M87.5 75.6C118.9 59.6 140.9 49.7 175.4 27.3M93.8 74.2C120.5 61.2 147.7 45.8 175.7 30.8M97.3 82.0C131.8 59.2 159.4 43.1 182.7 29.4M90.9 78.7C115.7 71.3 136.1 61.7 186.9 30.7M97.1 88.3C128.6 68.2 169.6 43.2 192.8 26.7M93.6 86.2C120.3 68.1 152.5 54.3 194.6 30.5M92.8 89.9C124.5 75.3 162.5 57.4 211.6 29.4M95.3 90.7C121.7 74.5 145.8 61.9 207.0 29.9M98.2 101.4C119.0 81.3 147.8 63.7 217.3 28.5M98.2 97.6C128.8 78.4 158.5 62.6 220.7 29.1M99.0 106.9C134.3 79.3 167.1 56.8 233.7 30.4M98.7 101.0C137.9 79.3 173.1 59.2 231.5 31.1M98.3 110.4C142.4 86.1 179.9 67.5 240.8 30.5M98.7 108.3C140.7 87.0 185.3 61.0 239.0 29.3M97.2 116.9C157.0 76.5 217.3 45.9 254.3 27.0M100.1 112.4C147.6 88.5 200.2 60.8 253.3 27.8M103.3 116.2C145.0 100.6 184.9 72.2 259.3 28.8M102.3 119.4C161.6 87.1 226.6 53.3 262.3 28.1M106.5 123.8C157.2 90.5 215.4 57.3 270.9 31.5M104.3 121.9C143.4 103.9 179.6 84.2 272.7 29.3M102.1 130.0C171.4 88.9 241.8 48.7 281.8 33.5M104.0 130.8C165.3 91.4 223.7 59.3 287.3 31.5M105.0 132.4C166.3 104.8 228.0 71.0 297.6 27.8M105.8 132.5C163.7 100.3 222.0 69.0 296.8 32.2M112.8 140.9C165.6 110.5 213.6 79.3 305.1 30.7M106.5 138.0C160.0 114.2 212.1 85.9 310.3 28.7M109.5 148.3C186.9 104.1 267.5 57.5 317.8 33.7M108.7 144.8C174.6 104.6 238.6 70.5 317.3 28.9M114.7 148.7C191.8 104.9 277.8 63.1 324.9 31.6M111.5 150.1C166.4 116.7 219.3 91.5 324.7 33.5M117.3 153.6C196.3 111.1 282.5 65.3 324.0 35.2M117.2 153.5C157.0 132.4 204.5 107.5 325.4 36.0M122.9 157.1C172.4 125.2 220.3 95.5 325.7 39.3M118.4 158.3C198.0 108.1 284.9 63.9 331.6 43.6M121.7 163.5C169.7 133.7 211.8 114.3 327.3 44.8M121.3 162.5C169.4 142.3 212.2 115.7 328.0 49.4M121.8 166.3C185.6 129.8 243.3 104.7 332.4 53.6M127.9 168.3C202.5 126.4 278.1 84.2 328.9 53.7M126.8 174.1C212.3 131.9 284.0 85.2 326.2 65.4M129.2 168.8C174.9 145.4 220.5 121.6 329.3 62.9M139.3 174.6C192.1 147.2 250.6 110.0 333.1 63.5M133.8 173.5C198.5 137.2 255.8 105.8 330.7 69.3M137.4 178.9C209.2 138.9 274.8 108.2 328.0 71.1M141.1 177.4C182.4 154.8 223.6 130.5 328.9 73.1M147.0 177.9C207.4 140.5 271.6 103.7 330.7 78.0M146.6 179.5C203.4 150.2 256.4 117.0 328.8 81.7M157.1 180.5C198.5 158.8 255.8 129.6 332.1 89.1M152.9 183.2C188.7 160.3 226.3 140.3 328.0 87.7M162.5 181.0C197.7 169.5 228.8 148.8 327.8 94.8M160.6 187.3C200.1 161.6 240.2 138.6 330.2 90.9M168.4 191.7C207.9 164.8 256.8 141.2 327.5 97.1M169.2 188.9C222.6 151.9 281.5 120.3 329.8 99.9M174.8 190.0C229.9 161.0 292.2 129.9 326.7 104.2M174.0 189.7C208.5 170.5 241.3 148.2 331.4 106.5M180.1 189.0C228.6 163.5 260.9 140.2 330.9 108.4M185.3 189.5C226.9 166.3 269.2 141.6 330.4 112.6M190.3 192.5C242.6 166.8 284.2 132.0 327.0 117.2M193.0 191.6C234.3 168.2 274.7 147.0 328.1 117.8M200.6 191.5C226.2 180.0 252.0 163.5 333.2 123.7M202.0 193.6C232.6 176.5 263.3 159.2 332.1 122.4M211.5 199.1C249.7 171.1 296.3 147.0 327.9 128.7M207.4 194.4C234.6 178.9 261.0 165.8 328.2 129.8M216.6 199.0C256.5 174.8 290.2 153.8 332.9 135.6M217.3 198.2C262.8 173.8 303.4 152.4 329.2 133.0M223.5 196.5C266.2 171.7 300.4 158.3 333.6 138.6M226.2 195.4C248.3 184.7 275.2 172.7 331.4 143.3M239.6 203.2C256.4 189.6 278.4 175.8 333.7 147.0M237.0 199.5C262.3 187.5 281.5 174.5 330.5 147.4M250.2 199.5C275.9 185.6 308.9 161.3 327.3 157.1M247.0 201.8C271.0 186.4 300.0 171.5 330.1 155.6M253.1 196.5C269.1 192.8 291.0 183.3 327.6 155.8M254.2 202.2C282.7 185.9 304.6 172.7 330.7 157.9M263.1 199.2C280.5 193.3 296.9 186.0 328.3 164.5M267.1 201.7C290.5 190.3 314.4 174.1 328.8 166.1M277.9 204.0C294.1 194.3 312.3 179.8 332.0 170.0M276.7 204.1C296.3 192.0 319.5 178.6 330.2 173.2M281.0 201.6C299.4 198.2 305.6 194.3 328.5 176.5M285.4 201.6C293.2 194.5 302.9 190.5 328.3 178.0M291.6 207.6C306.7 199.2 326.5 191.9 328.8 183.6M294.3 202.4C301.6 200.5 312.6 195.0 329.6 182.3M311.8 201.7C319.3 197.8 323.8 194.5 331.1 189.1M313.1 200.1C319.8 197.7 326.2 194.0 328.8 190.9" fill="none" stroke="#4a58dd" stroke-width="2.3" stroke-linecap="round" stroke-linejoin="round" /><path d="M109.2 34.2C113.6 33.0 113.6 33.2 121.5 30.0M110.5 34.5C113.9 33.4 118.8 30.6 120.5 29.7M106.4 46.0C118.9 38.4 127.4 34.6 134.7 28.6M104.8 43.9C112.0 39.2 117.7 35.3 131.8 29.3M102.3 50.9C114.3 43.1 132.8 39.9 143.5 28.5M104.0 48.8C119.4 43.1 132.9 38.2 145.0 31.8M103.5 51.5C123.6 50.1 141.3 36.7 156.5 29.1M105.4 56.2C119.1 49.8 139.6 39.3 155.9 28.8M109.5 63.9C117.2 51.5 127.7 48.0 164.7 33.3M106.6 60.3C128.6 51.1 148.1 41.1 169.4 31.6M111.6 64.8C127.0 56.0 144.4 48.4 176.2 30.1M105.6 65.8C127.6 55.4 146.6 48.8 178.3 29.4M105.1 68.7C129.5 65.8 144.4 56.1 193.6 29.7M107.5 70.5C137.2 55.4 166.1 39.9 190.1 31.9M114.3 77.4C131.2 61.5 157.2 55.1 200.0 32.6M108.7 75.7C140.2 62.1 169.8 49.4 204.8 28.6M111.3 79.1C143.5 67.9 177.8 49.1 215.6 33.2M110.0 81.4C139.3 71.2 161.4 60.6 214.2 28.8M115.4 92.0C149.0 70.0 190.8 52.4 228.9 29.7M113.7 89.6C153.7 69.2 190.6 46.8 228.3 30.7M115.6 91.0C156.9 77.4 191.4 53.1 237.5 30.3M116.7 90.7C166.2 66.6 214.2 45.1 242.1 31.2M113.8 94.2C170.8 73.3 224.5 42.3 252.6 30.0M117.7 97.5C159.8 78.2 200.4 61.4 254.0 31.5M121.3 99.1C166.3 79.5 210.5 55.4 265.1 28.6M121.6 102.1C165.7 84.1 208.3 60.8 264.1 30.6M118.8 105.0C156.0 90.9 185.9 74.5 273.8 33.9M120.7 107.0C163.4 89.0 208.6 68.3 277.2 28.7M122.5 110.3C167.9 86.6 219.6 65.3 289.5 34.3M126.1 111.9C189.2 83.2 249.4 51.8 286.7 31.6M122.5 116.7C178.1 89.8 230.2 65.9 300.3 27.7M128.8 115.4C165.4 104.6 202.1 84.0 299.5 30.8M132.2 118.5C172.0 103.5 217.1 80.4 316.5 33.0M128.6 120.0C176.7 95.9 220.0 74.9 313.2 30.7M130.8 122.6C186.1 96.7 244.0 66.6 322.5 30.4M132.1 127.1C173.0 104.0 210.9 82.9 318.9 32.1M134.5 131.5C188.7 98.2 252.6 77.0 323.3 40.1M135.6 130.1C204.5 98.9 279.6 65.1 323.1 35.4M140.5 139.4C213.6 101.7 277.1 65.8 326.2 40.4M139.3 136.6C194.3 106.8 250.0 82.0 329.7 40.0M143.8 136.4C184.4 119.9 231.5 100.7 327.2 45.9M141.3 140.2C216.2 102.8 285.8 66.0 329.2 44.2M149.6 143.2C211.3 112.0 284.2 79.1 328.5 54.1M146.3 142.2C207.2 113.3 266.0 87.1 330.1 50.5M147.3 145.1C191.2 133.7 227.8 110.6 330.2 61.9M149.2 147.2C190.3 124.4 227.3 105.5 328.5 58.7M158.7 152.0C219.0 123.8 279.6 87.0 331.0 59.3M154.2 149.7C208.3 124.3 258.8 96.8 329.4 61.8M159.8 154.1C197.5 142.0 226.6 117.1 333.3 73.2M158.8 156.5C200.6 138.1 238.2 116.8 329.1 68.5M166.4 161.8C232.1 124.2 301.8 95.4 329.7 72.1M165.3 158.4C218.4 132.6 267.8 106.7 328.8 76.1M174.2 163.5C208.3 136.2 248.7 121.7 330.8 80.5M169.9 163.7C218.5 135.7 270.6 111.7 329.3 79.9M174.5 168.4C219.9 137.3 273.2 117.7 327.5 84.0M176.8 165.4C231.2 135.1 284.0 107.3 331.2 89.8M179.0 169.1C220.5 142.2 264.4 128.3 334.3 91.1M184.5 165.9C223.5 144.2 266.6 126.9 328.7 94.8M190.8 170.6C217.8 156.1 247.4 144.5 333.8 101.8M188.4 169.2C216.8 155.5 247.6 141.3 330.0 99.4M197.9 170.0C236.2 151.9 275.3 128.6 325.8 105.1M198.0 173.8C241.7 144.8 288.9 120.7 330.7 105.3M207.2 173.1C248.9 149.8 290.1 130.6 329.2 109.5M205.1 173.6C245.5 154.9 280.0 134.9 330.1 111.8M210.8 175.6C257.5 153.7 303.8 127.5 326.0 113.6M212.1 179.2C251.1 158.8 290.3 135.6 331.2 117.7M218.0 183.1C265.1 161.0 301.2 140.7 328.9 127.5M218.4 181.6C249.9 162.4 283.7 145.7 328.7 126.1M231.5 179.8C248.4 169.7 276.1 153.8 330.4 127.1M229.6 181.9C250.7 168.2 268.7 156.5 328.9 129.5M237.1 186.7C261.9 171.4 291.2 155.0 331.2 133.0M234.6 184.4C260.8 170.0 282.4 161.6 329.4 135.3M246.1 186.8C260.5 174.3 281.7 167.1 329.4 137.9M243.5 185.3C271.7 176.0 292.7 159.7 330.1 144.1M256.5 186.7C274.9 171.6 302.6 162.2 325.9 144.7M253.8 187.5C279.5 174.1 306.1 158.7 328.1 149.2M263.4 189.5C281.0 176.3 297.5 174.2 332.2 153.0M260.6 190.2C289.1 176.4 312.9 162.4 328.4 155.2M275.3 186.7C291.2 177.2 315.2 170.4 328.0 157.6M269.5 188.4C293.3 181.7 311.6 170.4 329.3 161.9M283.2 187.6C297.3 182.3 311.9 173.0 327.0 167.9M280.5 190.9C295.7 183.6 310.1 176.5 328.6 168.0M292.9 195.4C300.4 190.2 307.6 186.2 330.2 175.1M289.0 192.1C301.6 184.3 312.4 178.2 329.8 171.6M302.2 193.9C309.6 191.0 311.4 187.5 332.4 174.7M300.1 192.1C308.1 186.5 320.4 185.5 332.0 179.9M317.8 189.6C320.0 188.9 323.7 185.4 328.1 184.8M318.6 190.6C323.5 187.0 327.4 184.9 329.5 185.1" fill="none" stroke="#3e7bf7" stroke-width="2.3" stroke-linecap="round" stroke-linejoin="round" /><path d="M123.2 34.9C124.0 34.2 127.9 33.0 132.8 29.8M120.8 35.2C126.1 34.9 130.8 31.5 134.9 29.6M116.5 44.7C129.9 42.2 136.7 33.5 149.2 33.3M117.0 45.7C127.3 37.9 133.5 35.8 148.7 28.0M115.2 46.0C132.2 44.5 135.2 43.0 159.0 33.6M117.9 47.2C133.1 41.0 147.2 38.2 157.6 27.8M116.4 51.6C139.8 48.9 150.0 36.5 173.6 30.0M122.1 52.6C132.6 48.2 141.8 45.3 173.6 30.5M119.8 62.1C145.4 49.2 170.3 31.6 184.1 27.8M123.5 58.2C137.3 52.3 150.4 45.6 184.6 31.5M127.7 60.9C145.5 49.5 174.8 44.9 202.0 32.4M123.6 66.2C152.9 50.0 180.7 36.1 197.9 28.1M125.9 72.5C155.9 49.3 187.5 37.4 212.3 26.9M127.7 68.4C153.9 56.1 177.2 44.9 209.8 30.5M126.4 78.8C163.5 50.9 207.8 34.8 226.6 34.3M130.3 75.4C167.2 59.3 200.8 39.4 222.1 29.5M134.2 81.5C163.5 62.5 198.9 43.8 233.5 32.8M129.7 78.7C155.9 68.6 178.9 57.6 234.4 29.0M130.4 87.1C175.8 68.9 215.4 48.6 246.8 26.8M134.2 85.3C161.0 68.4 186.8 54.5 247.7 27.9M134.5 86.2C167.8 68.8 196.9 57.0 258.0 32.7M134.4 89.2C185.6 69.7 231.2 48.3 262.5 30.7M138.8 92.4C164.7 80.0 194.7 65.2 278.2 28.2M136.8 93.3C176.1 75.5 213.0 56.8 275.3 29.4M144.0 100.7C186.9 76.9 237.4 50.1 290.7 25.7M138.8 99.9C196.4 75.7 249.7 47.4 287.2 28.2M139.5 99.3C200.0 81.2 251.3 54.1 300.9 32.5M142.8 102.0C201.1 78.5 258.8 49.9 299.8 29.3M145.8 109.6C185.4 85.8 225.2 74.1 315.9 31.7M144.8 106.6C208.1 75.7 273.6 47.0 314.4 31.1M148.4 116.2C187.9 93.4 232.0 70.4 317.2 28.0M149.9 110.2C199.7 89.2 252.2 61.7 320.5 32.4M150.1 117.0C210.6 83.8 274.6 54.5 326.8 36.6M154.7 115.7C195.8 91.9 242.1 71.9 325.6 35.7M161.5 123.5C195.4 105.3 229.7 93.3 327.7 40.1M157.9 120.1C209.8 91.5 262.0 67.6 327.3 38.7M156.8 121.7C205.7 108.3 239.8 92.6 333.2 41.8M162.4 123.0C198.2 109.5 240.2 92.6 331.5 46.1M163.1 131.2C214.9 109.5 257.0 91.1 325.7 50.4M164.7 129.4C210.2 107.0 251.6 86.5 330.2 51.1M170.7 136.8C221.0 111.6 267.8 90.4 333.1 58.3M169.3 133.9C209.8 111.3 245.3 94.5 330.3 57.1M175.2 137.0C221.8 118.0 263.6 94.9 325.6 65.3M172.6 135.7C207.3 121.6 240.5 108.2 331.2 65.1M175.9 141.5C225.0 118.1 280.1 95.6 327.1 67.6M178.9 141.1C226.5 117.9 268.6 100.3 328.6 70.9M181.2 147.2C239.8 124.6 290.4 94.9 326.6 72.4M185.0 141.4C216.6 130.6 247.2 116.1 331.3 76.7M191.3 142.9C229.7 123.1 268.8 111.9 332.7 80.4M191.9 146.2C224.7 127.6 261.2 112.4 328.6 83.2M195.9 149.3C232.8 135.7 265.8 122.5 329.3 89.6M197.0 149.2C235.8 133.5 281.0 111.0 328.8 85.6M199.5 150.7C235.4 133.9 274.2 116.3 334.4 95.4M200.7 152.0C230.5 138.8 259.4 127.4 331.4 91.7M204.1 160.4C250.5 136.3 297.4 114.0 330.3 100.8M206.5 158.4C250.4 135.3 297.5 112.2 328.9 100.2M210.9 155.1C262.9 139.6 306.9 114.9 331.5 103.2M212.8 157.0C249.6 143.3 279.2 128.1 328.3 107.4M217.8 163.1C248.1 150.6 279.6 138.4 329.2 112.7M221.9 162.7C253.8 144.9 281.0 134.1 330.6 112.3M233.1 162.8C257.8 150.5 280.3 139.4 330.4 117.8M226.7 163.8C248.2 154.2 273.8 147.4 329.0 115.2M234.9 166.3C263.6 152.4 287.9 141.3 330.1 126.0M234.7 168.9C271.2 151.2 303.3 136.0 329.1 124.6M240.8 165.2C270.5 154.1 301.1 141.5 331.4 125.4M242.8 167.9C271.2 155.6 297.2 144.4 328.1 130.6M254.1 173.5C280.7 160.4 308.6 149.3 332.9 133.3M253.5 170.6C272.4 165.3 290.0 156.0 331.1 137.0M258.0 176.9C279.5 164.8 298.2 152.9 333.4 144.3M259.7 175.7C282.8 164.5 300.8 155.0 329.6 140.8M270.4 179.5C290.3 166.0 317.0 156.5 333.8 146.6M267.3 176.0C282.9 170.1 297.7 161.7 331.8 145.0M280.6 180.0C291.7 171.1 298.8 167.2 333.5 150.7M278.5 178.5C297.6 170.8 316.3 158.2 328.4 154.1M290.7 177.2C293.8 173.6 307.5 167.4 327.9 158.0M284.6 181.0C300.5 173.7 314.5 169.2 330.2 159.1M294.9 181.5C300.2 179.6 314.8 173.6 334.3 164.7M295.5 179.3C304.6 174.6 314.6 169.9 329.1 167.1M308.1 182.0C313.8 179.3 321.8 176.2 329.9 170.5M303.7 181.0C310.6 179.4 318.5 176.6 328.7 172.2M314.5 182.8C315.9 182.2 320.7 181.5 324.0 178.4M313.5 184.9C315.4 183.7 318.0 183.0 322.5 180.5" fill="none" stroke="#2f9df5" stroke-width="2.3" stroke-linecap="round" stroke-linejoin="round" /><path d="M137.2 33.9C140.8 33.2 140.7 31.7 148.0 31.3M138.2 35.2C141.6 32.2 144.7 30.7 146.9 30.5M128.7 44.5C139.2 42.9 146.6 38.9 156.5 28.2M132.8 42.8C137.4 39.8 144.5 36.7 160.5 29.4M136.2 48.6C146.9 42.0 155.5 38.7 172.6 33.6M135.9 49.7C142.3 46.5 150.3 42.2 172.3 29.4M137.5 55.5C149.6 49.2 166.5 33.7 179.1 31.8M135.5 54.3C152.8 43.6 172.3 36.1 182.7 31.7M136.6 60.8C158.6 50.0 172.0 43.4 192.7 32.6M139.4 59.6C148.3 54.9 159.9 46.6 193.0 30.6M137.4 66.3C164.8 55.7 183.4 45.9 203.4 29.8M141.0 63.8C156.7 54.6 175.9 43.9 204.4 32.1M145.3 71.4C163.0 55.8 182.8 51.8 217.4 34.3M144.2 67.9C164.4 60.3 184.5 49.1 218.2 29.3M148.8 75.4C168.7 64.5 186.0 46.3 231.4 30.7M146.8 74.7C172.4 57.7 200.5 45.5 227.0 27.9M148.9 74.8C174.5 63.7 206.1 46.6 242.8 32.9M150.6 78.9C182.9 64.5 212.2 44.1 240.8 32.0M155.3 85.3C183.7 67.4 204.1 55.9 249.3 26.5M152.3 83.8C175.0 68.0 201.5 57.2 250.7 31.0M157.3 89.7C181.0 69.5 204.9 63.7 266.6 27.7M153.7 87.8C176.8 72.4 200.6 61.2 262.1 29.1M161.8 87.5C191.5 75.2 225.6 52.8 275.4 31.6M158.9 90.6C189.4 73.8 219.9 58.0 275.7 28.2M160.0 94.6C208.1 67.0 258.1 47.3 289.8 27.9M160.6 93.6C190.6 80.7 221.0 67.6 285.1 28.7M167.6 103.3C215.4 78.7 265.1 49.4 297.8 27.8M165.4 99.1C217.9 69.8 265.0 45.1 298.9 31.3M171.8 106.9C197.5 90.6 234.1 72.5 313.4 33.6M168.1 103.0C223.8 75.2 277.8 45.0 310.6 29.8M169.8 107.6C228.9 77.8 281.2 56.4 315.5 29.1M174.0 107.8C207.9 88.9 242.6 71.6 318.9 30.2M172.9 112.0C232.0 81.8 279.3 59.6 323.3 39.2M177.6 113.8C218.1 90.6 265.4 65.6 322.5 36.6M179.8 118.5C220.0 95.1 256.4 76.2 329.1 41.4M181.6 114.3C214.4 94.6 249.4 76.3 328.4 40.7M184.8 117.0C232.6 98.6 274.9 74.5 327.1 44.3M185.2 118.5C228.4 93.9 273.5 74.8 329.6 44.4M191.4 121.2C234.0 102.9 269.8 80.7 330.9 49.5M188.0 122.7C241.4 94.2 289.5 71.4 331.6 48.7M192.1 125.6C219.1 116.2 248.9 97.2 329.4 53.7M195.6 128.3C236.5 106.2 274.3 88.1 329.8 56.3M200.9 131.7C228.1 113.5 262.0 98.5 330.9 63.2M200.1 129.7C236.0 110.7 275.4 89.1 330.5 62.1M200.9 136.4C239.8 121.0 270.1 100.1 327.7 68.3M204.7 134.2C237.6 117.0 268.6 101.5 330.8 68.1M210.4 135.7C256.3 114.8 300.5 89.1 331.4 75.9M212.0 137.8C249.6 115.9 288.9 96.2 329.1 72.6M215.4 137.8C247.3 120.3 276.9 111.2 329.5 78.2M214.6 140.0C256.4 122.4 295.6 100.5 328.2 79.7M221.1 146.2C241.2 130.5 269.2 115.6 332.1 88.6M222.0 144.8C261.1 123.2 295.4 106.9 330.8 88.0M230.2 148.8C261.8 129.0 292.8 116.7 327.9 92.9M225.7 147.6C258.8 132.9 284.6 114.9 330.7 90.8M230.6 145.3C250.9 136.2 277.5 127.7 331.2 96.5M231.5 149.5C264.9 131.8 298.2 118.6 332.2 99.4M238.7 154.0C270.6 139.4 297.7 121.8 332.9 107.5M238.1 151.4C271.7 137.3 302.3 117.7 330.3 103.9M244.5 154.4C269.2 140.9 291.6 128.2 327.1 111.6M245.4 155.7C263.5 148.2 282.1 135.6 328.4 111.4M256.4 153.1C281.9 143.4 308.9 131.7 328.4 119.0M254.1 156.7C275.5 148.6 295.5 135.7 328.7 119.0M263.0 156.9C280.1 150.4 311.7 137.6 331.8 126.0M262.4 159.8C285.6 146.6 306.1 135.8 329.3 125.2M265.3 165.5C283.2 153.8 292.8 146.1 328.5 133.4M267.5 161.1C282.7 154.2 298.8 145.3 329.9 130.9M272.9 168.0C288.8 154.3 304.7 150.1 332.7 138.2M276.9 165.7C296.3 152.5 319.7 140.9 329.3 136.4M285.6 163.8C291.7 157.5 305.7 154.6 334.0 142.9M283.7 167.4C293.6 160.1 303.6 154.5 328.9 140.7M287.5 170.1C302.1 161.0 316.3 152.4 332.8 151.7M291.6 169.0C304.8 163.0 320.4 153.2 329.5 145.8M299.8 166.8C311.2 161.3 314.2 164.6 331.7 154.9M299.2 169.0C311.5 164.8 322.7 156.0 329.2 153.4M308.6 172.8C311.6 169.9 320.0 167.9 332.2 156.0M305.8 170.9C313.4 169.3 317.1 164.2 329.5 160.1M326.1 168.0C327.3 167.2 328.6 166.4 330.1 165.9M326.4 167.5C326.9 167.1 328.0 166.6 330.3 165.9" fill="none" stroke="#26bce1" stroke-width="2.3" stroke-linecap="round" stroke-linejoin="round" /><path d="M152.1 36.0C153.8 34.6 154.2 34.1 159.3 31.0M150.3 35.8C154.5 32.6 157.2 30.8 159.9 29.3M145.0 39.1C150.3 39.2 157.9 39.8 174.9 29.9M148.8 43.5C151.6 38.8 157.4 35.4 170.6 31.2M148.9 51.4C164.3 46.0 176.9 31.0 184.8 28.4M151.2 47.7C160.1 44.7 169.2 35.6 184.5 31.7M155.4 56.9C163.0 49.4 172.0 43.9 200.4 34.3M149.5 54.5C164.6 48.0 178.1 41.0 197.2 31.4M155.4 60.8C173.1 50.8 185.0 40.6 208.2 30.2M154.4 57.7C174.7 46.5 193.8 34.7 207.8 31.4M153.4 62.7C170.8 51.5 187.6 45.0 216.9 29.6M158.1 62.3C174.8 52.6 193.3 42.7 221.6 29.8M157.7 63.2C181.2 58.9 194.7 46.8 231.9 25.7M159.3 66.8C178.9 55.7 198.2 47.0 230.2 30.0M163.0 70.9C193.6 57.2 221.9 39.3 240.8 27.2M161.9 71.8C188.1 55.6 212.9 45.5 244.2 30.4M162.8 76.6C199.0 60.0 236.0 36.5 259.2 29.4M167.8 74.1C199.8 60.6 231.4 42.6 257.8 31.8M171.0 77.7C197.6 61.1 230.4 48.9 268.9 28.0M168.3 80.5C205.9 62.0 243.3 41.1 266.3 28.2M174.2 87.6C215.5 60.9 254.4 41.2 283.4 34.0M173.0 85.8C207.2 68.2 238.0 51.8 281.6 31.7M175.9 87.4C201.3 74.3 230.7 54.8 294.9 31.7M176.2 88.7C205.8 71.1 236.2 55.2 292.1 30.4M180.2 94.7C224.4 71.7 272.3 46.0 306.2 32.3M179.3 92.1C225.2 68.5 268.7 46.5 303.3 30.0M180.8 94.0C224.6 75.8 269.2 51.2 316.3 29.7M184.9 99.0C228.7 71.4 269.7 50.3 317.4 31.5M184.4 99.0C238.1 76.2 292.6 46.3 318.9 29.3M189.4 99.0C217.8 86.5 243.6 69.3 320.2 32.8M187.6 102.4C225.4 88.4 256.9 75.6 325.3 33.0M190.5 104.4C236.6 80.4 277.9 56.1 327.8 38.6M196.9 112.3C241.8 88.3 295.9 60.7 326.1 36.8M196.4 106.9C238.0 90.8 274.6 68.9 330.4 39.4M197.9 110.7C234.5 92.0 273.5 70.7 326.6 51.3M202.0 111.3C230.9 94.7 256.5 84.7 328.7 45.6M204.0 112.7C253.5 87.9 299.9 69.3 332.5 53.7M205.8 117.4C257.6 88.4 302.7 64.8 330.3 52.9M210.1 123.0C242.8 103.3 279.0 83.4 326.7 54.9M209.6 118.9C242.8 103.0 274.7 89.0 330.9 57.7M216.4 127.4C258.9 99.2 300.0 81.8 326.0 67.7M213.5 123.8C249.4 102.3 289.3 83.8 331.0 67.5M224.7 129.7C245.3 111.6 270.4 104.0 333.9 71.6M221.2 127.3C249.9 109.6 280.4 95.5 331.6 72.0M230.3 133.0C264.2 107.9 310.8 87.3 331.2 77.1M224.4 130.8C252.6 117.3 283.8 101.5 330.7 78.9M230.0 130.4C266.3 114.7 293.3 97.9 330.8 79.6M233.8 131.7C263.2 116.2 297.9 97.1 330.9 82.4M240.7 139.1C272.1 121.9 308.9 104.7 331.6 91.9M236.3 134.7C263.2 120.3 292.7 107.9 328.0 90.3M246.4 138.5C262.6 130.6 287.3 117.1 327.6 97.2M244.3 140.0C265.9 132.5 284.2 122.2 329.1 95.4M248.4 145.6C274.7 132.8 286.4 121.4 325.6 106.0M251.9 142.6C268.1 131.0 290.3 125.4 329.5 101.2M253.7 146.6C276.1 134.1 285.3 127.3 329.4 103.9M258.2 145.3C277.2 132.7 297.4 122.0 332.0 106.5M265.4 143.1C278.5 141.5 296.0 135.1 330.2 110.7M263.0 148.7C278.6 140.7 294.9 132.7 328.0 114.0M274.1 151.3C292.5 142.2 312.5 132.7 326.4 117.3M270.0 151.8C287.6 143.5 305.4 134.2 330.8 118.9M279.2 152.4C301.8 141.5 319.1 137.7 328.1 124.6M278.4 152.0C290.9 145.6 306.2 139.0 329.7 124.8M285.3 151.2C298.5 148.8 313.0 141.5 329.4 130.6M284.0 153.2C300.8 148.5 317.1 137.9 329.6 132.5M295.1 154.9C305.4 150.2 318.8 139.0 326.3 135.0M294.2 156.6C307.1 151.4 322.2 139.9 328.6 136.7M303.0 157.5C306.3 155.8 318.4 150.1 330.8 145.0M302.1 161.2C308.9 154.6 312.5 152.7 329.3 145.5M310.7 157.7C313.0 158.5 324.9 152.3 330.4 149.5M308.6 161.9C313.2 157.1 319.8 156.4 328.9 150.8M323.0 159.2C324.5 159.2 328.6 155.9 331.1 155.3M321.6 160.2C323.8 159.5 325.9 159.1 329.8 156.6" fill="none" stroke="#27d7c4" stroke-width="2.3" stroke-linecap="round" stroke-linejoin="round" /><path d="M164.5 34.1C167.0 32.4 169.0 33.4 173.6 30.7M166.1 33.7C167.8 32.8 169.5 32.4 173.2 29.7M159.0 40.5C167.4 38.6 173.9 37.8 184.3 28.6M160.4 41.6C166.5 39.4 173.4 38.5 185.4 30.7M165.2 50.1C169.7 40.8 187.7 41.3 199.3 26.4M165.1 45.3C175.3 39.1 187.5 34.5 197.3 30.2M164.1 48.1C178.5 40.9 194.7 35.1 208.9 29.2M164.4 52.3C178.1 45.9 190.4 35.8 207.9 29.5M172.4 54.3C183.1 45.2 206.7 34.5 219.5 32.8M167.9 57.2C186.5 46.7 202.3 39.4 221.6 31.2M176.6 60.1C198.6 52.4 214.7 40.5 235.0 31.6M171.8 63.3C184.7 56.2 195.6 46.4 230.6 31.0M179.4 61.8C204.4 50.4 224.3 37.3 243.0 27.7M174.8 64.3C194.4 57.3 218.2 46.0 245.5 30.5M180.0 68.8C202.7 55.3 226.1 44.2 253.5 29.3M180.8 68.2C201.1 58.6 222.0 48.0 255.8 31.0M184.6 71.4C207.2 59.9 234.5 49.6 263.3 32.9M182.0 76.1C213.2 57.8 242.3 39.5 266.1 32.2M189.3 75.2C201.1 67.4 225.8 59.4 276.7 26.6M184.4 78.1C211.1 65.3 233.6 53.5 277.8 28.7M188.5 83.7C221.6 70.7 248.5 49.8 292.4 33.7M189.4 83.5C220.9 64.7 249.5 49.1 289.0 28.7M190.7 89.8C222.3 67.2 259.8 51.5 298.7 31.5M191.3 85.3C229.2 70.1 263.6 51.8 304.6 29.1M198.8 92.0C226.7 73.6 263.9 57.1 318.4 29.9M199.3 90.3C224.6 75.3 248.6 64.5 312.3 30.7M199.6 99.0C234.9 74.6 258.9 65.2 324.2 28.0M199.6 95.8C238.0 75.4 276.8 55.5 322.2 34.5M205.1 101.1C239.2 76.4 281.9 61.4 326.4 38.0M204.8 97.6C240.9 79.9 276.8 64.2 326.9 35.0M207.3 101.6C255.6 78.4 299.3 56.9 333.2 37.9M210.0 104.3C252.1 76.3 299.3 56.4 329.4 42.4M218.1 102.2C260.2 78.8 306.7 62.9 325.8 42.5M215.0 104.7C262.2 82.3 307.5 61.9 328.6 48.0M219.1 106.8C250.7 87.0 280.8 73.3 332.4 55.3M218.3 109.9C246.3 97.2 276.8 81.4 331.0 50.6M227.9 116.6C255.9 95.9 292.8 75.4 328.8 62.2M226.8 112.8C265.4 90.0 308.1 70.8 329.2 58.5M231.4 114.6C258.4 98.2 289.9 86.2 325.7 60.4M229.9 115.1C257.9 103.6 280.4 87.0 329.7 63.9M230.8 119.4C265.3 105.1 290.0 94.9 330.3 67.2M236.9 121.1C258.9 106.4 279.3 97.7 328.0 72.2M243.6 124.2C265.2 112.2 290.0 93.9 333.8 77.5M240.3 123.2C272.3 105.5 307.3 86.2 331.6 77.4M249.6 125.5C275.4 115.5 295.4 101.4 333.7 81.4M246.2 124.8C269.9 113.1 295.8 100.9 331.3 84.1M255.0 131.2C273.7 114.8 299.6 103.8 325.7 86.4M252.3 128.3C274.6 116.8 295.2 106.6 331.1 89.5M259.6 132.2C286.0 116.9 310.3 104.6 327.6 97.5M259.2 131.5C285.9 120.4 314.4 104.8 329.3 94.9M268.0 131.9C284.4 121.5 308.8 111.9 328.1 102.4M264.3 135.8C281.1 127.9 301.7 119.0 330.6 102.2M270.4 138.0C281.9 136.0 299.4 126.6 333.5 107.2M271.3 136.9C290.7 125.0 307.5 115.3 328.2 108.2M278.4 144.3C295.6 134.4 305.4 121.8 332.2 110.4M278.6 140.9C292.9 130.2 306.1 127.8 331.2 114.5M287.1 144.8C291.8 133.1 299.0 132.6 333.3 119.0M286.0 140.7C291.9 139.6 304.1 134.0 327.8 117.9M288.3 146.6C306.9 134.8 322.6 131.7 325.7 122.6M292.8 147.4C299.0 139.7 312.2 133.8 329.2 124.1M298.9 147.4C304.7 146.4 313.4 139.2 332.1 134.5M297.8 146.0C309.1 141.2 317.0 138.8 328.1 129.2M307.8 151.0C313.3 147.9 322.3 138.1 330.4 139.8M306.4 149.2C310.3 146.3 317.9 143.2 332.0 136.7M315.8 151.3C321.1 149.6 321.4 146.6 330.4 144.0M314.7 151.4C319.3 148.1 326.1 144.9 330.9 142.9" fill="none" stroke="#34eba3" stroke-width="2.3" stroke-linecap="round" stroke-linejoin="round" /><path d="M178.9 34.0C180.2 31.4 184.6 31.1 186.1 31.5M178.5 34.4C180.9 33.9 183.3 32.5 187.9 30.6M172.0 39.0C184.9 39.5 189.0 33.3 200.6 27.1M174.3 42.7C179.7 41.3 185.4 37.7 198.5 29.3M174.6 44.5C184.4 38.3 195.7 34.4 211.6 31.6M176.4 44.5C188.7 40.4 197.2 38.6 212.3 28.6M180.7 47.4C197.8 39.0 209.0 35.7 228.5 26.6M182.9 53.2C190.5 43.8 201.5 41.2 224.9 32.1M187.1 57.2C197.3 48.6 206.4 38.3 238.2 27.7M184.4 57.6C196.1 48.7 211.1 44.3 237.1 29.7M190.8 57.5C210.5 48.5 228.4 39.3 246.9 28.7M188.1 61.1C208.0 52.0 224.7 41.2 247.7 29.7M187.0 67.9C208.5 55.6 229.2 46.3 259.4 31.1M189.4 63.7C214.5 53.4 237.8 38.5 263.4 28.5M197.8 69.1C217.7 57.6 231.7 44.4 271.5 26.8M195.2 70.7C210.4 60.3 228.1 53.3 274.6 30.2M202.2 75.0C228.0 56.3 258.4 49.3 283.6 30.5M197.6 72.2C218.3 64.5 240.5 52.9 286.0 29.9M204.7 74.1C239.5 58.4 265.8 44.3 298.5 31.8M204.0 77.9C238.6 60.5 273.4 45.4 297.7 30.4M202.6 80.3C227.6 71.3 250.7 63.7 307.5 28.2M205.9 80.5C229.2 65.1 256.4 56.7 309.4 31.8M210.2 86.4C244.3 61.6 282.5 43.7 323.4 35.0M209.3 83.3C246.8 68.8 281.2 54.5 322.2 32.6M218.2 93.0C253.5 72.9 295.9 48.9 327.3 34.7M215.3 87.1C251.7 72.8 292.7 50.5 324.3 33.7M219.1 92.3C251.0 73.9 293.6 57.3 328.9 39.3M220.1 92.5C248.0 78.6 282.4 65.7 329.2 39.3M222.9 98.0C259.5 78.8 289.9 67.7 331.5 40.1M224.9 97.5C248.6 83.1 277.6 69.8 328.0 45.8M232.8 98.6C270.8 79.2 304.7 67.3 328.2 53.0M227.5 101.1C265.6 80.8 298.9 61.0 328.3 48.7M232.5 104.8C264.7 85.0 295.7 72.6 326.2 60.1M234.1 104.8C266.3 89.8 295.6 71.7 331.5 56.1M242.4 110.4C258.5 95.6 279.5 84.0 327.0 59.8M237.1 105.3C259.2 96.0 279.5 90.1 330.3 60.5M243.4 109.1C272.3 97.3 296.4 82.7 333.0 67.7M242.4 109.9C272.9 96.8 302.7 80.7 328.6 68.1M245.6 110.2C265.1 101.0 285.6 97.5 329.2 73.6M250.2 112.9C274.9 101.1 304.4 88.2 329.3 74.4M255.3 115.7C282.1 102.0 306.7 90.5 328.2 81.7M255.3 117.8C276.8 105.0 304.1 95.5 331.1 80.8M257.7 115.9C277.2 115.8 299.0 105.7 329.6 88.9M262.7 120.8C286.1 110.4 310.9 98.9 329.8 87.0M263.4 123.1C286.1 116.4 300.9 108.4 331.9 88.2M267.6 123.0C285.3 112.2 301.8 106.9 331.9 93.4M271.4 127.1C290.6 115.1 308.4 109.0 326.4 99.1M273.4 127.7C291.4 115.6 313.0 109.5 331.4 96.6M275.4 127.0C296.6 124.6 311.9 115.9 330.2 104.3M280.8 131.1C298.2 119.6 317.8 112.6 328.8 104.7M289.9 132.0C304.5 123.2 312.7 113.9 332.4 112.8M284.6 132.0C294.5 128.8 307.6 124.8 328.7 111.9M289.1 134.3C308.3 128.8 322.4 119.4 330.0 112.7M291.0 132.7C302.9 131.4 312.1 126.5 328.3 118.7M302.3 140.1C312.2 134.7 316.7 125.9 331.1 125.8M302.3 136.4C311.7 133.7 323.8 127.6 329.9 124.8M309.0 141.3C316.6 132.6 323.1 129.8 331.9 127.5M306.7 138.7C312.6 136.3 320.6 135.9 329.7 129.8M315.6 141.5C315.8 139.1 321.5 139.1 329.4 135.8M315.0 142.6C318.5 140.0 323.6 137.8 329.4 134.6" fill="none" stroke="#4df884" stroke-width="2.3" stroke-linecap="round" stroke-linejoin="round" /><path d="M192.4 34.1C194.7 32.7 199.6 30.6 200.7 29.5M193.5 34.6C195.5 32.5 196.1 31.7 200.7 30.3M186.5 42.1C197.6 42.9 202.8 40.3 211.5 32.1M190.4 40.3C196.0 37.9 202.2 35.7 213.0 28.5M196.2 48.8C201.2 39.8 209.0 37.6 224.5 29.6M194.6 44.7C204.2 39.4 212.4 36.9 225.8 31.6M192.8 55.0C210.6 43.6 226.7 34.3 241.0 29.7M197.4 51.8C212.8 42.3 226.9 36.4 238.7 29.9M200.5 57.7C210.4 50.5 226.2 38.6 252.0 32.2M201.1 53.4C218.3 43.4 239.4 35.7 249.3 29.2M205.0 62.4C221.0 49.2 248.7 36.5 265.6 33.4M201.5 58.9C216.5 51.5 234.1 45.2 260.8 28.3M205.8 67.8C220.7 56.5 240.9 43.0 272.1 29.7M207.4 61.2C221.9 59.1 233.7 51.2 273.2 29.0M211.3 70.0C227.5 58.1 249.3 48.5 282.9 31.3M210.2 67.8C242.1 51.7 272.8 36.4 286.2 29.3M217.0 72.7C227.9 66.3 254.4 51.3 297.8 30.0M213.1 73.5C243.6 54.6 276.9 40.4 297.1 31.0M219.3 73.4C252.2 60.0 287.5 41.3 308.3 34.1M218.4 76.9C248.3 57.5 280.7 44.7 310.1 30.7M223.4 80.4C260.6 60.5 294.3 45.5 321.3 27.1M224.0 79.7C249.4 61.7 280.2 49.3 318.7 32.5M227.4 80.4C255.9 66.4 290.9 52.5 321.7 35.3M227.2 82.4C262.7 69.0 296.6 49.3 324.0 34.0M235.7 86.3C251.4 82.0 276.9 67.7 328.9 39.0M229.6 86.9C262.4 68.7 297.7 52.9 326.4 40.5M239.7 91.8C272.5 72.8 310.8 54.9 332.8 41.2M234.4 91.4C270.7 72.0 309.4 54.7 331.1 44.0M244.9 91.5C263.7 87.8 281.8 76.1 329.3 46.6M241.0 95.8C264.1 84.1 285.4 73.6 332.0 51.3M250.7 95.1C272.0 86.6 301.3 74.4 331.5 56.6M245.0 97.3C262.4 87.7 281.1 81.8 329.2 58.2M248.2 100.3C266.2 94.7 289.2 82.5 325.9 66.8M252.2 101.4C271.4 90.8 286.0 80.6 328.1 60.8M260.9 101.1C284.8 94.1 305.0 82.8 329.6 72.3M256.2 103.8C281.2 97.5 302.8 82.4 330.0 69.4M262.7 111.2C289.3 94.1 313.7 79.7 329.7 79.1M264.6 106.2C279.6 96.0 297.2 86.7 331.9 76.4M271.6 114.9C279.9 107.8 293.1 97.2 332.0 83.3M269.6 112.3C290.5 102.8 310.6 93.2 329.5 81.0M275.6 111.6C290.7 112.0 308.9 103.0 325.6 83.3M272.9 112.1C290.6 105.8 310.1 99.1 332.0 88.0M278.1 118.3C295.0 105.6 313.4 99.9 328.9 90.9M281.1 118.1C297.2 109.3 311.3 104.7 328.6 91.5M286.2 119.3C305.4 109.7 313.2 106.6 331.3 101.0M287.8 120.3C296.7 117.3 305.2 112.9 331.4 100.1M296.6 124.3C305.9 114.0 318.4 112.5 331.8 106.2M290.6 124.6C306.7 115.4 317.2 108.5 332.1 103.2M302.2 123.2C309.2 125.6 315.4 116.7 328.1 111.6M297.7 127.7C312.0 121.1 322.1 115.1 331.1 111.8M307.6 131.4C307.7 126.8 314.8 124.3 330.0 118.7M307.1 127.5C311.0 126.3 314.7 122.1 331.7 116.2M314.0 128.7C318.3 129.2 322.1 127.1 328.6 125.2M313.0 131.2C317.4 130.7 323.1 126.0 331.1 123.4" fill="none" stroke="#6efe68" stroke-width="2.3" stroke-linecap="round" stroke-linejoin="round" /><path d="M205.7 35.4C208.7 31.9 210.4 33.2 214.3 28.7M206.4 33.7C207.6 33.8 210.2 32.3 213.8 30.0M202.5 44.2C207.8 41.2 211.5 39.2 229.0 27.6M202.3 43.4C210.3 36.0 218.3 34.0 227.6 31.5M204.3 43.3C213.9 44.5 218.9 40.4 239.7 26.9M207.5 46.9C216.1 39.6 227.9 35.0 238.6 28.6M214.1 51.8C227.6 40.8 235.5 38.1 247.8 33.9M211.4 48.1C224.9 44.7 238.3 35.6 249.4 29.0M214.6 49.9C225.7 51.5 239.6 40.6 266.3 28.5M214.8 53.6C229.9 46.8 243.9 39.3 261.5 28.8M221.6 60.5C238.5 44.4 262.0 39.7 276.8 26.4M217.8 57.2C229.3 54.7 241.4 46.5 276.3 28.8M226.1 66.5C240.7 50.9 264.7 42.4 288.4 32.8M223.9 62.2C241.2 54.7 256.9 41.5 286.3 32.0M224.0 66.8C244.7 62.0 260.2 51.6 298.0 31.8M227.1 65.8C250.0 54.1 275.8 42.9 297.0 30.7M229.6 67.6C259.0 56.2 289.8 41.8 310.8 32.1M230.5 71.9C257.8 54.4 283.5 43.4 311.2 28.0M234.2 77.3C260.9 64.2 290.7 46.3 324.3 31.8M235.0 75.9C261.6 59.5 287.0 47.1 320.5 31.3M241.1 79.7C269.6 59.1 302.0 49.6 324.1 33.2M239.8 78.8C259.5 66.6 280.2 60.2 322.7 37.5M240.1 77.9C277.7 64.0 304.6 53.7 325.2 41.2M244.6 83.7C262.9 71.7 279.0 64.5 330.0 40.4M244.3 83.2C268.2 78.2 286.0 63.1 329.0 48.9M250.8 86.0C269.3 72.7 286.0 63.6 330.4 44.0M257.0 92.6C269.3 79.3 289.7 71.5 326.8 49.7M255.3 90.0C269.5 80.2 287.7 72.4 331.1 50.6M255.4 93.0C279.2 86.6 298.9 71.6 332.1 58.9M256.8 92.7C281.4 84.0 299.8 74.4 332.0 56.7M265.7 94.9C278.6 90.0 293.9 81.8 330.1 66.5M265.4 97.9C282.1 86.7 297.1 77.4 329.1 63.8M264.8 98.4C280.9 91.0 298.4 86.6 328.0 70.8M267.7 99.3C283.2 91.9 295.3 86.4 332.2 69.4M274.3 102.8C292.8 98.5 307.9 82.5 332.0 71.6M273.3 101.3C288.1 94.9 298.7 89.9 329.0 72.7M284.2 102.4C294.1 97.7 317.1 91.9 330.7 81.2M282.0 104.7C297.2 100.6 308.5 91.0 330.1 82.9M289.3 105.9C300.2 100.1 305.9 100.6 328.1 84.6M287.0 106.9C301.1 102.6 314.5 97.0 331.7 88.7M290.3 116.0C304.6 102.3 319.7 94.9 332.0 95.0M294.5 112.5C306.0 106.1 314.2 100.4 330.3 92.1M296.6 117.8C301.1 109.5 314.1 112.2 331.7 102.7M299.2 114.7C307.8 107.5 318.5 107.0 330.3 98.5M307.9 116.7C307.8 113.9 318.9 107.8 329.0 101.1M305.0 119.0C309.4 114.3 317.7 111.3 331.1 106.3M311.7 117.7C315.1 118.4 324.6 115.1 327.1 109.9M312.6 119.7C315.6 118.7 321.1 116.3 331.1 109.8M326.1 118.8C326.9 118.1 327.7 117.8 330.1 117.2M326.1 118.8C327.8 118.4 328.9 117.7 329.9 117.4" fill="none" stroke="#95fb51" stroke-width="2.3" stroke-linecap="round" stroke-linejoin="round" /><path d="M219.1 33.6C222.8 31.4 226.5 31.0 229.1 30.2M220.3 34.2C223.5 32.5 226.3 31.2 228.2 29.9M214.1 41.7C225.2 41.3 233.0 33.1 245.0 31.9M218.0 42.7C224.6 37.2 229.1 35.3 243.0 29.8M224.7 44.4C230.5 40.0 244.7 35.4 257.0 30.5M220.4 47.1C228.1 40.7 237.8 35.6 252.2 28.7M224.6 48.8C237.9 42.1 248.8 38.1 262.8 33.1M223.9 47.6C237.2 41.9 249.6 37.8 267.1 31.8M229.4 54.3C242.4 44.2 264.7 38.8 275.7 26.9M228.5 53.4C247.1 46.6 260.7 36.5 277.6 31.4M236.0 61.1C242.5 53.8 263.6 49.5 289.6 34.1M233.9 58.6C248.5 52.4 261.0 42.7 291.0 28.1M239.1 66.0C256.1 53.1 285.0 34.6 305.7 26.7M239.3 62.3C259.8 51.8 276.6 42.1 307.0 28.9M241.9 67.3C262.1 55.4 271.0 52.0 320.2 29.6M241.9 65.7C260.3 57.4 278.0 48.6 317.6 31.1M243.5 68.6C259.2 60.4 281.5 56.5 323.4 36.7M248.3 70.1C273.4 57.1 301.6 44.4 320.6 35.0M249.8 76.3C276.2 60.3 302.1 51.0 324.4 38.4M252.3 75.1C274.3 63.0 297.3 50.3 326.1 37.7M254.6 75.0C287.7 64.2 317.0 53.8 333.7 42.6M255.6 77.6C280.1 63.6 307.4 51.6 330.9 43.1M260.7 84.8C276.5 67.7 301.1 57.3 330.5 50.0M261.7 81.4C282.1 73.4 298.8 62.8 331.7 50.1M268.8 80.5C288.9 77.7 313.4 60.5 327.4 53.4M266.1 83.7C286.5 74.6 309.9 62.8 331.1 56.0M274.0 85.2C288.0 80.6 307.7 73.8 328.5 58.1M270.4 86.8C283.0 80.5 299.8 75.2 331.4 60.5M279.2 88.6C286.3 87.0 301.4 81.1 326.3 62.2M278.4 90.7C296.5 82.6 316.1 73.2 332.0 66.0M281.6 96.0C297.9 83.6 315.2 80.8 331.1 71.4M280.5 93.3C290.3 89.0 303.2 82.4 330.2 70.2M286.3 97.6C299.8 92.0 320.2 79.6 330.8 80.8M289.6 97.1C297.4 93.8 309.8 89.4 329.4 79.9M295.3 105.0C304.3 99.5 311.0 93.9 327.2 82.9M291.4 103.1C306.0 93.5 314.6 90.5 330.9 85.0M295.3 103.8C309.6 98.8 315.5 92.6 332.8 91.4M300.4 104.9C306.3 99.6 312.7 99.0 330.7 91.4M306.3 109.2C314.4 100.7 320.3 103.4 327.9 93.3M305.7 108.6C314.1 102.6 323.1 99.8 328.7 94.4M312.4 108.1C318.0 110.0 322.4 102.7 331.9 102.5M311.6 110.8C317.8 105.6 323.7 103.3 330.0 101.1M327.9 108.2C328.4 108.2 329.4 107.9 329.9 107.7M328.2 108.4C328.6 108.2 328.9 108.2 330.1 107.5" fill="none" stroke="#bbf03f" stroke-width="2.3" stroke-linecap="round" stroke-linejoin="round" /><path d="M234.6 33.9C235.5 32.2 238.5 31.0 242.9 31.0M233.5 33.9C236.5 32.9 240.6 30.5 241.5 29.7M230.7 40.1C243.3 39.8 245.1 31.8 257.5 31.4M231.5 39.3C239.2 38.3 243.6 34.4 253.1 28.2M233.2 44.4C241.5 41.2 252.6 37.2 267.7 28.9M234.8 43.3C244.3 41.1 256.0 34.0 265.8 29.5M237.4 53.1C255.9 46.1 267.6 36.6 278.4 34.1M237.7 46.9C250.8 44.4 262.8 37.2 280.1 29.4M247.8 51.4C256.5 45.4 281.3 37.7 287.2 29.7M243.0 53.4C263.0 45.6 281.9 35.8 289.8 29.5M248.8 55.3C259.5 49.1 275.6 42.9 306.6 30.3M247.2 56.3C261.0 47.7 279.1 40.3 300.7 31.6M252.2 59.2C276.6 47.6 300.0 34.6 314.7 31.0M251.2 58.8C268.1 56.3 279.5 47.1 316.2 29.8M253.6 64.9C274.4 50.1 301.0 46.1 321.1 35.8M255.7 64.9C271.7 53.7 288.9 48.7 322.8 32.3M265.1 69.0C280.9 63.7 301.1 47.5 327.8 37.0M260.3 69.4C281.6 60.3 297.4 50.1 327.6 37.1M264.7 74.3C285.0 62.5 304.1 46.5 327.9 42.4M266.2 72.3C280.7 65.8 295.6 55.9 328.6 40.4M271.8 80.0C286.7 66.2 297.0 64.0 332.1 46.0M270.9 73.6C288.3 68.7 308.5 60.9 331.7 46.9M274.8 77.9C292.4 69.9 305.8 62.6 329.4 51.1M276.1 80.5C288.5 72.7 302.2 64.6 328.7 52.3M285.9 79.1C300.6 73.4 316.8 67.3 333.4 57.3M280.3 83.0C299.9 74.0 317.9 67.0 328.1 59.8M288.5 81.5C298.9 77.6 309.8 70.1 333.9 68.8M286.7 85.4C302.6 76.8 320.8 69.2 329.2 64.6M290.8 88.3C301.4 83.4 311.4 79.1 333.7 69.2M294.7 89.0C305.3 82.2 313.5 79.4 331.7 71.9M295.1 94.6C303.1 85.8 310.5 85.8 329.8 80.4M298.6 91.9C305.5 90.0 313.2 82.0 328.5 76.4M302.7 94.3C308.3 95.8 314.9 87.3 328.9 81.8M303.4 96.1C315.2 93.0 322.5 88.4 328.0 83.0M312.4 101.9C316.5 95.2 319.8 92.1 331.5 90.6M309.6 99.6C317.7 95.0 322.2 92.7 331.0 89.5M316.5 103.1C323.6 100.4 325.0 97.9 331.6 95.3M317.0 101.8C320.3 98.3 325.0 96.6 329.5 94.1" fill="none" stroke="#dedd32" stroke-width="2.3" stroke-linecap="round" stroke-linejoin="round" /><path d="M248.3 33.3C249.1 33.3 251.2 32.1 255.2 29.9M247.2 33.5C250.5 32.6 252.8 30.7 254.3 30.5M242.3 42.3C252.9 38.1 260.6 32.3 266.3 32.8M246.4 41.8C250.0 38.9 256.0 38.1 265.5 28.6M251.5 44.7C257.8 43.1 263.3 41.7 280.8 34.4M249.2 43.4C260.0 38.1 270.3 32.9 276.9 27.9M256.6 46.0C263.9 43.4 279.8 34.2 294.1 30.9M255.9 46.6C267.1 42.4 280.4 34.8 290.2 30.6M256.8 56.2C266.4 51.6 277.4 41.5 305.4 31.2M258.3 50.6C273.3 46.2 289.6 36.5 300.8 28.3M262.1 56.7C286.2 46.7 306.1 37.5 315.5 27.5M264.8 56.7C272.3 51.2 285.6 43.8 312.4 31.5M271.5 56.8C282.1 48.0 306.1 39.2 319.9 34.3M267.4 60.1C286.7 48.4 307.3 39.9 322.9 30.7M271.0 59.5C287.0 57.1 313.8 40.9 322.6 32.3M272.7 62.8C291.7 54.1 309.0 45.0 324.2 34.5M273.5 63.9C292.9 58.5 303.6 51.5 332.0 37.7M277.4 67.7C293.8 58.9 311.8 48.8 329.9 41.1M281.5 73.0C298.2 64.8 313.1 52.9 334.0 42.2M283.6 71.1C294.7 65.6 307.6 59.0 331.4 44.4M283.6 76.6C306.1 70.3 321.7 57.3 327.1 54.3M288.9 75.1C294.7 69.8 303.0 66.4 328.7 49.8M287.8 75.8C302.3 70.6 313.3 63.3 334.1 54.8M290.0 78.1C303.8 73.4 312.1 66.5 329.1 55.8M295.1 77.6C307.6 77.7 320.7 68.1 331.0 66.5M298.5 81.8C311.5 76.4 324.0 67.5 331.1 62.8M306.8 85.8C309.3 78.2 312.5 80.3 328.7 67.0M304.4 84.4C309.3 80.8 315.0 77.2 331.1 68.5M307.5 84.6C318.3 82.3 325.3 75.2 332.7 74.2M308.5 87.7C314.9 85.4 319.7 82.7 329.6 74.6M315.1 90.8C316.9 88.4 321.9 86.7 332.6 84.7M313.2 91.1C316.3 88.7 319.8 86.2 329.0 83.3M328.8 88.6C329.1 88.5 329.6 88.6 330.1 88.2M329.0 88.8C329.2 88.6 329.4 88.5 329.9 88.2" fill="none" stroke="#f8c32a" stroke-width="2.3" stroke-linecap="round" stroke-linejoin="round" /><path d="M261.4 33.3C264.1 31.8 267.0 30.6 268.4 30.8M261.1 33.1C264.1 32.7 267.3 30.5 268.2 30.4M261.9 40.4C268.3 39.5 274.7 37.4 281.3 28.0M259.0 42.0C265.9 38.1 268.9 36.0 280.9 30.6M261.1 45.1C275.1 35.3 286.1 29.7 289.2 29.8M264.3 42.5C274.6 41.3 285.8 34.6 293.0 31.6M266.5 46.0C285.3 37.9 298.4 34.3 303.8 26.8M269.8 48.9C278.8 41.0 293.9 37.1 302.2 32.1M273.3 53.9C293.0 41.2 302.0 35.4 311.9 28.7M272.9 49.8C286.2 43.5 300.5 34.8 314.9 30.4M281.3 53.5C290.7 47.0 297.5 46.9 325.3 32.3M278.6 56.0C290.5 48.8 306.2 38.8 322.7 32.7M284.3 61.2C297.0 46.8 314.0 43.8 324.9 37.7M281.9 59.2C294.4 52.8 309.3 43.6 327.8 35.2M285.7 58.9C298.9 54.6 316.2 52.5 331.4 45.0M286.5 62.4C298.3 57.7 310.6 51.8 331.6 40.2M289.5 69.2C306.6 62.6 319.0 49.9 331.7 43.8M293.5 67.9C301.1 63.6 309.8 55.2 328.9 46.3M296.7 70.6C303.7 68.3 310.7 58.0 328.8 53.7M297.5 71.0C306.5 63.9 318.6 61.0 329.9 54.2M305.2 71.0C316.8 67.0 320.8 60.7 327.9 56.5M303.9 74.0C308.2 71.9 317.0 68.7 329.0 59.6M307.8 79.7C319.3 71.6 326.4 67.1 328.6 66.4M307.0 75.0C315.4 71.3 320.4 69.2 331.2 64.9M311.2 80.0C317.6 76.2 322.0 74.1 332.2 68.9M312.5 79.7C320.5 76.1 325.4 71.8 328.7 70.2M325.3 79.8C327.1 78.7 328.4 77.5 330.6 76.9M325.3 79.4C327.1 78.5 328.8 77.4 330.2 77.1" fill="none" stroke="#ffa423" stroke-width="2.3" stroke-linecap="round" stroke-linejoin="round" /><path d="M275.2 33.2C277.1 32.5 278.7 31.3 282.8 31.0M275.4 33.8C276.9 31.8 279.7 31.2 281.7 29.5M272.4 42.5C279.5 36.3 287.3 37.2 292.3 28.8M272.8 39.3C277.9 37.4 284.1 36.7 294.4 31.1M275.6 45.2C284.5 41.0 290.9 34.1 305.2 31.3M276.8 44.1C288.3 38.6 294.7 35.5 305.9 30.2M279.9 45.4C295.6 40.0 304.3 41.1 320.0 31.3M284.8 49.0C295.1 41.1 307.6 35.7 317.6 30.1M290.0 48.7C299.0 43.7 306.5 45.5 324.5 34.4M288.4 50.0C299.3 45.4 309.5 42.8 323.5 36.0M293.2 58.4C297.5 54.4 311.1 48.4 324.4 37.2M291.5 55.6C302.7 50.8 309.8 46.1 328.4 39.5M300.0 62.9C301.5 50.6 317.8 46.3 326.6 45.4M297.6 58.8C306.0 56.0 310.9 49.2 331.2 43.9M303.7 59.6C306.0 64.3 314.1 53.7 331.6 45.9M304.1 62.3C312.6 56.2 320.8 55.3 330.6 47.5M304.4 69.2C314.8 63.0 316.3 62.6 329.2 54.1M309.5 63.8C315.3 62.3 321.3 60.0 329.6 54.1M311.9 70.8C319.1 66.4 324.5 62.8 332.3 61.8M311.9 70.2C318.9 65.6 323.0 64.0 330.5 61.3M323.4 69.9C325.8 69.2 326.2 68.4 329.5 66.0M322.8 69.8C325.9 69.1 328.3 67.0 330.5 66.0" fill="none" stroke="#ff821d" stroke-width="2.3" stroke-linecap="round" stroke-linejoin="round" /><path d="M288.6 34.4C291.6 32.2 292.8 30.4 295.8 29.0M288.4 32.8C290.6 32.5 291.6 32.1 295.6 30.0M288.9 38.4C294.2 35.0 301.2 31.8 307.8 28.4M287.2 38.4C294.7 36.8 303.4 33.6 307.5 28.7M293.8 44.7C303.9 43.1 308.4 34.3 321.1 33.2M294.2 44.9C301.1 40.1 307.9 34.4 317.2 31.6M300.4 45.0C301.1 42.2 317.2 43.3 321.7 31.2M297.6 48.6C302.5 43.0 307.9 40.6 325.4 32.8M299.1 47.7C307.3 45.7 320.0 46.3 328.0 40.4M302.5 48.9C310.4 45.7 321.0 40.8 327.3 38.8M304.6 57.6C315.6 55.5 320.1 49.5 327.9 42.4M306.9 55.3C311.7 53.0 317.8 48.5 328.9 42.3M310.1 59.7C314.4 53.7 321.6 54.4 331.3 51.6M312.3 57.6C318.1 56.3 321.0 54.2 331.4 48.2M319.4 60.4C324.0 59.7 327.0 57.1 328.6 55.6M319.2 59.7C323.6 58.6 328.2 57.1 330.3 55.0" fill="none" stroke="#f65f18" stroke-width="2.3" stroke-linecap="round" stroke-linejoin="round" /><path d="M302.8 33.1C302.8 32.1 305.7 31.9 309.4 30.2M302.3 33.1C305.0 32.1 307.1 30.9 308.9 29.5M301.3 39.6C302.6 36.2 312.1 34.2 320.4 30.3M301.6 40.7C309.1 37.0 316.5 33.0 318.5 31.8M305.0 44.3C309.6 41.8 317.8 37.6 324.0 35.4M305.7 44.1C311.7 41.1 313.1 40.2 324.2 35.5M312.4 47.4C314.8 45.7 317.9 41.6 326.3 37.1M310.6 47.3C317.3 44.1 322.1 41.7 326.2 39.3M315.3 51.9C322.2 48.6 321.5 45.5 331.8 43.8M315.8 49.7C320.0 48.3 323.2 46.1 330.3 43.9M329.5 49.6C329.7 49.4 329.8 49.4 330.1 49.3M329.5 49.6C329.7 49.4 329.8 49.3 330.0 49.3" fill="none" stroke="#db3d11" stroke-width="2.3" stroke-linecap="round" stroke-linejoin="round" /><path d="M316.8 32.6C317.8 32.9 317.8 31.8 320.5 30.6M316.5 33.0C318.0 32.5 319.3 31.5 320.4 31.4M315.7 39.2C317.9 36.9 319.3 36.9 324.7 34.8M316.5 38.6C319.0 37.3 322.1 36.0 324.5 35.5M327.3 39.7C327.5 39.5 327.9 39.3 328.3 39.2M327.2 39.8C327.5 39.6 327.9 39.4 328.3 39.3" fill="none" stroke="#ba2208" stroke-width="2.3" stroke-linecap="round" stroke-linejoin="round" /><path d="" fill="none" stroke="#9d1000" stroke-width="2.3" stroke-linecap="round" stroke-linejoin="round" /><path d="M68.3 27.4C78.4 29.1 79.8 28.5 89.5 27.3M70.0 29.4C73.6 29.8 79.3 29.6 90.7 28.3M93.8 30.1C95.5 28.0 97.0 29.7 101.5 28.3M92.4 29.2C95.7 29.0 98.8 29.3 101.9 28.8M103.1 31.5C106.8 33.1 109.3 32.2 118.0 30.8M101.4 31.2C106.2 31.9 111.5 30.7 116.7 31.4M117.3 29.7C121.1 31.7 130.3 28.9 136.0 32.2M116.0 31.2C122.3 29.1 129.1 30.7 135.4 29.6M138.0 30.3C142.8 32.3 147.4 32.4 151.8 31.4M138.3 32.0C143.5 31.0 148.3 32.0 150.8 31.9M149.3 33.5C151.0 31.8 157.7 32.3 166.2 29.5M147.8 32.1C152.5 32.8 155.5 32.3 167.4 32.7M164.9 31.1C170.4 29.0 173.8 28.6 179.5 30.2M167.3 30.5C170.1 29.1 172.2 30.3 179.5 30.0M182.0 30.1C187.0 29.1 191.6 28.7 198.9 27.9M181.2 28.1C186.6 29.6 191.9 28.9 196.5 27.8M196.8 27.2C198.1 27.9 198.9 28.1 207.2 29.7M195.6 27.9C199.0 28.2 202.5 28.8 205.7 28.0M204.4 29.1C212.5 31.0 221.0 30.0 227.2 31.9M206.8 31.7C210.5 32.2 217.4 31.3 226.8 32.2M228.1 33.1C233.1 31.2 241.4 32.9 251.4 29.4M224.9 30.2C231.6 30.6 235.9 31.8 250.7 31.0M255.1 30.6C259.1 29.0 261.4 27.7 272.4 29.0M251.8 28.1C258.2 28.2 266.7 28.6 269.5 27.5M271.6 30.5C275.4 27.0 280.1 28.2 286.9 27.3M270.4 29.2C276.1 27.7 280.3 28.3 288.1 27.6M285.8 30.2C290.9 31.1 294.1 28.6 299.2 30.3M285.4 29.6C290.3 30.2 295.2 30.2 299.3 29.2M297.6 33.0C305.5 30.7 318.6 32.9 322.2 38.7M299.5 30.4C304.4 33.1 309.3 33.5 321.3 34.2M325.3 33.7C328.4 37.3 331.1 40.8 331.3 43.6M325.3 33.2C327.5 36.6 328.3 39.1 331.1 43.5M332.1 43.4C332.7 47.4 330.5 49.0 330.5 54.0M331.8 44.5C331.3 47.2 332.3 49.2 332.2 55.1M330.5 57.5C331.5 60.9 328.0 69.3 326.6 77.4M328.5 56.8C328.1 62.0 329.2 66.5 330.1 77.2M329.8 78.3C329.6 79.1 330.1 83.1 328.8 89.4M330.4 76.6C331.3 80.8 331.1 86.3 329.6 90.7M330.6 90.0C327.9 100.6 328.9 109.0 331.0 111.6M329.9 92.3C328.1 99.6 329.9 109.2 327.7 114.4M330.0 113.1C331.0 118.0 330.8 119.9 329.4 127.0M330.2 113.7C330.5 117.7 330.1 124.1 330.1 126.1M328.0 127.0C327.6 127.5 329.5 133.5 328.1 148.8M330.4 126.2C329.5 130.4 331.0 139.1 329.0 147.9M330.8 147.1C332.4 153.3 332.7 158.2 330.8 159.0M331.5 148.3C331.8 151.7 330.8 155.4 331.0 159.0M329.9 159.7C331.1 168.7 328.8 175.2 332.4 182.5M332.1 161.3C331.8 167.7 331.3 174.3 330.3 180.8M328.4 178.3C330.1 184.6 330.1 187.4 330.5 195.7M329.4 180.5C329.7 185.0 329.7 188.1 329.1 194.5M330.4 194.5C331.8 200.9 330.4 206.5 330.7 210.1M331.4 196.8C331.7 199.2 331.3 203.8 332.1 210.2M329.0 209.5C327.6 210.5 327.5 215.7 324.3 218.2M330.0 208.9C328.6 212.2 327.0 214.3 325.4 218.0M324.9 220.5C322.4 220.7 316.5 222.7 306.6 225.5M327.4 218.6C318.7 221.4 312.6 223.5 305.1 223.8M304.5 224.9C300.8 223.9 297.5 225.4 293.7 224.7M303.3 225.2C300.5 225.7 296.3 225.6 292.9 225.7M293.7 225.3C288.5 227.4 282.4 226.7 278.9 225.6M293.2 224.9C286.2 225.3 280.2 225.1 277.7 226.7M281.0 223.4C273.0 223.3 263.2 221.0 258.3 221.0M279.8 222.4C271.8 223.8 264.5 223.2 258.2 222.7M259.0 224.9C258.1 222.9 254.4 223.2 243.2 222.6M260.4 223.0C255.8 222.7 250.7 223.6 244.5 222.8M244.5 224.7C239.4 224.4 239.4 223.4 233.7 222.9M242.8 223.0C241.1 223.2 238.7 223.6 232.1 223.1M236.8 224.1C228.6 224.4 221.7 226.6 215.1 225.5M235.4 226.1C229.1 225.8 222.4 225.7 215.0 224.7M213.1 223.9C208.1 223.6 204.2 223.4 200.0 222.7M214.4 223.8C210.1 224.3 206.1 223.5 200.2 222.8M197.4 224.8C191.9 225.6 183.6 222.6 179.2 221.5M200.5 224.5C195.8 222.8 190.2 223.6 178.2 225.2M177.1 226.0C173.4 224.0 169.4 223.3 166.9 225.3M176.5 225.0C173.1 223.9 171.2 224.9 165.6 224.7M166.5 224.4C156.1 226.4 150.0 228.2 145.1 225.8M164.5 225.5C158.5 225.0 151.4 226.2 143.9 224.7M145.1 225.5C141.9 226.3 136.5 224.5 130.0 223.8M144.5 226.2C141.1 225.8 136.9 224.6 131.2 226.1M132.9 226.1C131.1 226.6 129.8 226.4 123.8 226.8M134.0 225.8C130.2 226.0 127.1 226.0 122.2 225.8M123.3 227.5C116.8 226.8 106.3 227.0 101.0 226.2M120.7 226.1C114.1 225.5 108.1 225.6 99.6 225.9M97.1 226.5C97.4 226.4 89.6 224.4 74.5 222.4M100.4 222.4C93.7 225.1 85.8 222.8 75.8 222.5M78.6 224.4C71.1 223.3 66.6 217.5 61.3 211.0M78.7 224.8C71.3 220.5 64.8 216.5 61.0 212.3M56.5 216.8C57.5 206.5 60.6 203.9 58.2 196.9M58.9 216.5C57.6 211.1 59.8 205.8 59.7 194.2M62.4 195.3C59.5 191.1 59.2 186.5 59.4 174.2M61.2 193.3C60.4 189.7 59.0 184.0 59.9 174.6M61.4 176.1C59.1 169.1 60.2 164.3 62.1 157.6M59.8 175.3C61.4 171.0 60.5 166.8 60.3 157.7M61.2 156.0C62.0 153.5 60.8 148.2 62.7 143.8M61.1 155.8C61.8 150.5 61.7 145.2 61.9 142.6M58.3 144.1C58.3 133.2 57.3 122.7 59.4 118.5M60.3 143.1C60.3 136.8 58.9 130.1 58.9 120.8M59.9 120.0C60.0 118.2 60.5 112.8 59.7 106.5M60.4 120.3C59.2 116.7 59.8 111.7 60.8 107.0M60.6 109.1C60.4 104.4 59.4 101.5 59.2 87.6M62.1 109.5C61.3 101.5 61.0 94.8 60.4 89.2M60.5 86.3C58.2 81.1 59.2 74.9 60.4 70.8M59.6 89.3C59.9 83.1 59.6 75.5 59.4 70.4M60.7 68.0C60.6 59.8 63.3 55.8 58.2 50.4M61.8 69.3C60.4 64.2 59.8 58.5 60.7 46.9M59.8 48.5C65.1 37.9 69.1 31.0 72.1 29.3M59.5 46.5C62.5 42.3 66.7 36.9 70.3 29.2M70.1 29.9C70.2 29.8 70.4 29.7 70.6 29.4M70.1 29.9C70.2 29.8 70.3 29.7 70.6 29.3M101.8 31.3C96.7 37.4 97.1 41.2 94.1 47.0M100.0 29.3C98.4 34.4 95.7 37.9 91.0 48.8M94.8 47.9C94.6 53.9 94.7 55.2 95.2 70.0M93.5 50.0C93.1 54.2 91.9 60.0 92.7 69.7M93.0 68.5C93.8 72.1 94.9 73.2 95.1 83.5M92.1 67.9C93.2 73.3 94.2 78.3 94.3 82.0M90.2 82.3C94.2 89.5 93.6 95.7 94.6 101.5M93.4 83.4C92.6 86.0 95.8 91.5 98.3 102.1M98.7 104.9C99.1 109.8 105.1 117.1 102.5 126.1M98.4 104.7C99.9 111.2 101.3 116.4 103.9 125.8M101.2 125.5C103.6 130.1 109.9 133.8 112.0 147.7M101.4 124.4C105.6 128.9 106.9 133.4 113.4 146.1M113.4 150.0C114.8 153.1 120.4 163.0 126.2 164.2M113.2 147.6C114.9 152.4 119.0 158.8 123.6 166.4M125.3 163.4C125.4 168.2 131.1 170.1 134.6 173.3M124.5 164.0C127.9 167.9 131.1 170.7 135.5 175.2M137.4 175.4C141.7 177.2 145.4 178.2 146.0 179.2M136.4 174.7C138.5 175.4 140.8 176.8 147.8 180.5M144.4 180.8C152.2 179.5 157.7 183.3 161.1 183.9M146.9 180.0C152.0 182.2 159.7 185.0 163.0 184.9M163.7 184.8C167.0 185.5 168.3 188.2 172.4 188.4M162.5 185.3C166.4 186.3 170.7 186.7 172.5 188.1M172.2 187.7C174.7 188.9 180.0 189.0 183.1 192.0M172.8 187.6C177.7 189.4 180.9 189.3 185.0 191.5M185.9 194.3C189.4 195.1 197.3 192.9 211.5 193.9M185.5 194.0C194.3 194.8 200.4 195.5 209.4 196.4M207.1 192.6C219.1 194.2 227.3 200.2 229.3 197.3M210.1 196.6C215.0 197.0 221.5 195.6 230.2 197.2M232.7 197.6C234.6 198.7 239.7 196.7 243.8 198.8M231.9 196.4C236.0 197.0 240.5 198.1 243.9 198.1M245.1 199.3C251.0 203.9 258.9 204.3 265.1 204.3M244.5 199.4C250.3 202.2 255.0 201.5 267.4 204.0M265.8 201.9C273.0 199.5 285.1 201.6 290.5 202.0M265.0 200.2C271.2 202.4 276.6 201.3 288.8 203.3M288.5 204.6C295.6 201.9 304.3 203.2 310.1 200.6M289.9 205.2C298.0 203.5 304.2 202.9 310.2 200.0M311.5 201.5C318.4 198.8 322.9 196.6 328.0 199.3M311.9 201.6C315.6 200.5 321.5 198.6 328.1 198.0M327.7 197.8C328.6 197.9 329.4 197.4 330.1 197.2M327.8 197.7C328.3 197.6 329.0 197.3 330.5 197.0M116.8 30.6C112.9 35.8 112.0 36.5 110.5 39.5M116.3 31.2C114.6 33.3 113.6 34.9 109.9 39.6M106.9 38.5C105.8 41.9 104.9 46.5 102.6 51.4M108.2 38.0C106.2 44.0 105.3 48.6 104.5 52.9M105.0 53.5C103.5 57.6 106.1 63.3 106.8 68.6M102.7 54.7C104.4 57.7 105.1 62.8 106.9 68.3M106.0 66.0C108.4 66.8 109.8 70.2 109.6 75.1M107.3 65.7C108.0 67.2 108.9 70.1 110.6 75.1M114.2 76.6C113.4 82.4 114.9 87.9 116.1 95.4M111.0 76.0C113.8 80.2 115.3 86.1 118.2 94.1M116.9 95.5C120.4 99.5 122.8 100.4 124.5 107.1M118.4 93.6C119.8 96.5 121.2 99.7 123.8 105.8M121.7 104.4C128.2 115.2 133.0 120.1 136.0 127.4M122.9 105.2C126.7 111.9 127.4 117.0 132.8 125.0M134.4 129.0C137.1 132.8 140.4 135.5 141.3 136.3M134.3 127.9C137.1 130.8 140.0 134.9 140.9 138.2M140.1 137.1C143.1 140.1 144.6 141.5 148.3 147.4M141.8 137.3C143.7 139.9 146.9 142.6 149.7 146.7M145.9 145.6C149.9 147.2 152.2 151.7 158.0 154.0M146.7 145.0C149.3 147.9 150.3 149.2 157.3 154.2M157.1 153.1C161.9 154.8 166.0 155.3 168.1 160.6M156.5 152.2C162.0 154.0 166.5 157.2 168.5 159.5M168.9 161.1C173.6 161.8 177.3 161.5 183.0 164.5M168.3 159.5C173.6 160.8 176.7 164.2 181.6 166.2M183.8 167.1C185.7 168.4 187.1 168.1 194.6 173.1M182.5 168.1C185.7 168.9 189.9 170.1 194.6 171.9M193.2 170.8C195.8 172.6 202.1 174.2 209.6 178.5M193.6 172.6C198.6 172.9 205.1 175.2 207.9 177.0M209.6 177.4C212.4 179.6 217.9 177.0 227.5 183.3M207.7 175.6C213.8 176.8 218.5 178.1 226.6 182.1M227.3 182.5C236.9 182.0 242.7 181.5 247.5 184.2M229.4 179.5C234.4 181.5 239.9 181.8 247.7 185.2M246.8 185.3C256.4 187.9 263.1 186.6 270.7 191.5M246.3 185.4C256.0 187.7 263.3 188.5 269.6 190.5M269.6 192.8C276.6 193.3 287.0 192.1 290.0 193.7M270.2 190.5C275.2 190.3 280.5 192.6 291.4 193.8M286.4 191.2C293.7 189.3 302.0 192.6 310.0 193.8M287.2 192.1C294.8 192.1 304.5 191.4 310.4 192.4M311.8 191.5C317.0 189.3 318.1 189.1 322.4 188.3M313.1 191.6C315.6 191.6 318.1 190.1 322.9 187.6M322.7 189.7C324.5 189.1 327.0 189.2 330.2 186.8M323.2 189.9C325.1 189.4 326.9 188.2 330.6 186.8M127.6 27.7C124.3 33.0 121.2 36.8 119.4 38.8M129.3 29.2C124.8 32.8 122.6 35.3 119.7 38.2M115.2 43.2C118.3 49.1 120.6 52.7 119.8 64.7M115.0 41.6C119.4 47.0 119.2 56.1 121.8 62.1M125.1 61.3C125.4 64.5 126.8 66.6 128.4 70.8M123.8 61.0C124.8 63.1 126.2 64.8 127.7 69.6M128.9 73.4C131.6 73.8 131.2 76.8 136.0 89.0M128.0 71.1C129.5 77.1 132.0 81.7 136.8 91.4M137.4 84.5C137.0 90.3 140.7 98.3 148.6 104.9M134.8 86.0C141.2 93.1 145.1 99.5 148.4 108.9M148.2 105.5C153.0 112.9 157.0 119.2 162.2 125.2M148.7 108.5C153.4 114.3 160.5 122.0 165.3 128.8M165.5 128.4C167.9 132.2 170.5 134.1 177.2 139.6M165.5 130.6C168.5 131.0 169.8 133.8 176.7 138.4M179.0 135.2C182.3 137.9 186.2 141.5 194.6 150.4M177.3 136.4C180.6 140.9 185.0 143.1 191.9 147.4M188.6 146.3C194.5 153.2 202.1 154.6 204.2 154.6M190.0 149.8C194.5 151.4 198.1 152.2 205.2 157.8M204.0 155.3C211.4 159.3 216.8 159.0 232.5 166.7M204.7 155.5C212.5 159.7 219.5 160.8 228.0 165.9M228.7 166.9C234.4 167.4 238.5 170.8 248.1 174.5M229.4 166.6C233.0 167.8 237.7 169.1 247.4 172.6M245.8 171.4C252.0 173.4 258.6 174.7 268.4 179.1M247.7 173.2C255.9 174.2 261.7 175.5 266.0 178.6M269.7 174.8C274.2 174.0 278.2 175.4 280.9 175.7M268.5 174.9C272.5 175.9 276.2 176.8 280.8 177.1M282.9 178.1C285.8 180.1 288.1 179.1 294.1 182.4M280.7 179.8C286.2 179.3 289.8 180.9 295.4 182.6M293.2 180.9C297.3 180.9 297.7 181.1 304.2 181.8M294.7 181.8C297.0 181.6 299.8 182.6 303.7 182.8M299.1 184.1C307.2 183.8 316.5 180.0 325.3 177.1M300.5 182.8C306.8 182.6 314.9 179.5 323.5 177.9M325.0 177.3C327.7 177.0 329.1 175.7 330.9 175.0M325.7 178.0C326.8 177.3 328.5 176.3 330.5 175.2M142.3 34.4C138.7 40.0 140.3 42.6 134.3 56.1M140.8 32.9C137.7 38.5 136.1 49.3 136.7 54.3M135.4 50.1C144.6 61.3 147.1 72.0 148.3 71.5M136.5 50.9C142.0 59.7 145.8 68.5 148.0 75.3M146.1 76.5C155.5 79.4 158.9 85.0 165.6 99.8M150.6 76.4C154.9 81.3 156.2 89.6 162.8 99.0M164.9 96.5C166.6 99.3 172.7 102.0 178.5 118.3M163.9 95.9C166.5 102.5 170.2 106.1 179.3 115.5M179.0 116.3C182.8 120.9 192.1 125.0 200.0 129.2M180.1 114.3C186.1 118.9 190.9 125.3 197.4 129.8M198.2 128.7C201.3 128.6 203.2 129.8 209.2 135.8M198.9 128.9C201.4 130.0 204.5 131.9 208.7 134.3M207.6 135.3C212.6 139.4 214.0 141.7 219.1 142.7M207.9 137.2C213.1 138.1 216.3 140.9 221.1 144.4M220.3 144.2C225.0 146.0 228.4 147.4 233.8 150.8M222.4 143.2C225.8 145.3 230.4 147.2 233.7 148.9M233.4 148.9C234.9 149.8 238.7 152.3 244.4 155.8M232.1 150.3C236.4 151.4 239.6 152.2 243.8 154.0M245.6 152.5C249.9 153.4 251.5 155.5 260.0 158.4M245.2 153.4C249.5 154.8 252.6 156.7 259.3 159.5M260.1 160.5C263.5 160.6 266.3 160.3 273.6 164.3M261.3 159.7C265.0 160.9 269.2 162.0 271.6 163.3M270.7 161.6C277.3 162.3 284.0 167.2 292.4 171.2M270.0 163.7C279.4 163.8 284.3 167.5 291.8 168.8M290.8 169.1C295.5 170.3 303.7 169.0 309.8 173.1M289.4 166.4C296.0 168.6 300.3 168.9 313.9 170.3M314.0 169.0C319.9 170.0 322.1 168.0 329.6 166.9M313.0 170.2C317.3 170.1 319.3 168.3 329.7 164.2M156.7 29.3C151.7 32.1 149.0 40.9 149.2 42.3M155.8 28.2C153.5 32.9 150.0 37.0 148.3 41.6M149.3 45.3C149.8 50.3 157.3 62.9 160.1 65.9M148.8 41.6C150.2 48.9 155.3 55.2 161.3 65.8M158.6 64.5C159.3 67.8 161.1 70.5 163.8 74.8M158.9 64.7C160.5 69.0 163.0 70.9 164.4 74.4M165.1 74.7C170.6 79.4 173.3 89.3 182.8 92.2M165.1 76.9C167.4 79.6 171.3 84.6 179.7 94.6M177.0 92.5C179.4 95.1 184.6 99.9 190.5 104.9M178.1 94.0C182.4 96.7 186.1 100.0 191.0 106.1M193.3 104.7C196.7 108.0 197.6 109.0 201.8 112.1M192.4 104.4C195.0 106.5 197.9 109.1 201.4 111.6M201.2 110.6C204.7 111.8 206.0 113.3 210.1 116.9M201.4 111.8C205.2 112.8 208.0 116.0 209.7 117.2M208.9 120.8C213.5 123.7 220.6 127.2 221.4 129.6M207.1 118.9C211.0 122.5 217.9 126.6 222.4 130.3M226.6 128.1C227.7 133.0 232.0 133.8 240.0 136.9M225.3 130.2C229.6 131.9 235.2 135.7 241.1 137.8M242.6 133.3C251.5 137.4 254.3 144.5 261.6 148.5M240.4 135.7C249.1 139.2 257.9 140.9 263.9 144.8M261.6 151.1C270.0 153.2 274.8 150.2 286.7 158.7M262.7 146.8C269.8 150.2 276.0 152.2 286.6 156.0M286.5 156.5C290.0 155.6 294.4 157.5 300.5 158.0M287.0 155.6C291.4 156.3 295.9 157.4 299.4 159.3M298.9 157.9C305.3 159.3 311.0 162.1 312.9 161.6M300.7 159.2C306.0 159.2 310.0 160.9 312.7 162.3M312.3 162.4C318.6 160.3 323.3 159.4 330.6 157.4M312.8 162.5C318.3 162.5 322.2 159.4 330.7 157.1M330.1 156.3C330.9 156.2 331.2 155.8 331.7 155.6M330.2 156.3C330.6 156.1 331.0 156.0 331.7 155.8M167.2 29.6C164.4 35.7 162.1 38.3 161.5 42.3M166.8 31.1C165.6 34.5 163.0 38.4 162.0 41.2M162.3 41.0C167.0 45.8 168.9 47.3 172.4 55.2M163.1 42.2C164.7 45.9 168.1 49.2 171.0 57.3M171.6 58.2C174.1 63.4 177.5 71.7 178.8 71.0M168.8 56.3C172.7 61.5 173.7 65.0 181.6 74.1M182.0 73.8C184.4 77.4 187.8 78.0 187.9 81.3M182.6 73.8C184.6 75.4 186.0 76.7 189.8 81.6M190.9 83.6C191.7 85.0 196.1 91.5 207.2 98.4M188.7 82.4C193.5 86.0 201.2 94.7 208.2 97.9M204.2 99.8C209.5 102.3 210.7 105.7 214.2 107.3M204.5 98.9C207.4 100.6 209.8 102.5 214.8 107.5M216.1 104.6C218.0 108.3 219.9 109.3 226.5 114.3M215.1 105.5C217.4 106.9 220.3 108.4 226.6 113.2M230.5 116.2C234.1 118.6 238.3 119.3 250.6 127.4M229.3 115.1C234.3 118.1 242.7 123.6 249.8 126.1M249.5 127.1C255.6 127.8 261.9 129.5 266.1 135.8M248.7 126.5C255.1 127.8 259.3 130.7 266.6 133.2M264.7 133.3C266.6 136.5 268.3 136.8 274.1 139.9M263.2 135.3C268.0 136.6 271.3 137.7 274.5 139.2M274.0 136.2C285.5 140.1 286.5 140.2 302.0 149.7M276.7 139.2C280.7 139.6 287.7 141.9 299.5 147.1M301.1 149.6C305.1 149.3 311.4 151.5 316.6 150.9M300.6 148.2C304.7 149.1 310.4 151.0 317.1 151.9M314.5 151.4C318.1 148.7 324.6 147.1 329.4 146.2M314.8 149.4C319.8 148.8 325.4 147.9 329.9 146.8M183.4 28.8C181.7 31.8 179.5 37.2 174.7 40.9M181.2 29.6C179.8 33.7 179.0 37.3 176.2 42.7M175.2 41.1C176.1 42.7 175.3 45.3 179.4 50.7M173.9 42.5C176.5 44.6 178.1 48.2 179.3 49.5M180.8 52.0C186.3 55.3 189.3 58.6 195.2 64.3M181.3 50.5C183.9 52.6 187.9 57.2 193.5 66.4M193.9 65.3C197.0 69.8 201.3 73.1 207.5 84.7M191.9 67.0C193.6 69.1 197.9 73.1 206.4 82.3M207.1 82.0C214.2 88.9 219.1 93.1 223.8 97.9M207.3 82.1C213.4 85.8 219.0 92.2 223.4 94.4M219.1 96.8C227.4 99.2 229.9 101.8 235.5 104.8M219.8 95.4C226.0 101.0 231.0 103.9 233.8 106.7M237.0 105.1C241.9 108.8 245.3 109.8 250.4 112.0M237.9 103.5C241.8 108.0 248.6 111.0 250.7 112.4M252.8 114.3C257.5 115.0 265.4 123.8 270.1 124.2M251.4 112.4C256.3 114.9 260.0 117.1 269.7 124.0M268.0 123.3C271.1 126.9 277.2 129.1 289.2 134.5M268.8 121.5C274.6 126.8 279.8 127.6 290.4 134.3M291.7 136.8C293.9 136.9 296.5 137.1 302.4 138.8M292.5 135.8C295.4 137.2 298.0 138.3 301.3 139.7M302.6 136.6C307.1 138.2 309.3 140.5 319.4 142.1M302.3 138.4C307.8 138.5 311.3 140.0 320.0 140.3M318.2 142.1C319.2 142.6 322.4 139.5 329.6 136.8M316.5 143.1C319.1 141.8 322.4 140.8 328.0 138.1M195.9 29.0C196.2 33.3 194.6 40.3 192.1 42.6M196.0 30.4C195.3 32.6 194.0 35.8 192.0 42.7M190.3 40.5C192.2 45.2 196.5 51.7 197.1 52.5M190.3 42.1C193.1 46.5 195.0 50.0 197.3 54.2M198.8 55.6C202.8 56.1 206.6 59.5 209.1 66.3M198.9 54.8C203.1 57.7 205.1 60.3 208.6 64.5M207.3 65.3C212.3 69.9 218.0 74.4 223.6 77.4M210.2 65.4C214.2 68.5 218.1 74.3 221.9 78.6M222.8 76.3C227.7 86.6 237.1 87.0 242.9 92.0M222.1 77.8C227.1 82.4 233.8 88.8 240.5 95.4M241.3 90.2C241.4 95.8 243.9 96.4 255.0 107.2M238.6 91.9C242.4 95.3 249.9 98.4 255.3 104.3M259.5 105.7C262.0 108.6 265.7 106.8 276.0 115.3M255.9 102.3C265.7 108.3 272.5 112.4 278.8 116.2M279.1 114.5C284.1 117.8 286.5 119.7 292.6 120.9M279.5 115.6C283.3 116.6 285.5 118.0 291.5 122.0M291.3 121.9C294.5 122.9 297.2 122.8 305.9 128.8M289.9 120.7C293.8 123.4 298.7 124.2 304.8 127.1M307.2 130.7C312.4 130.3 316.6 131.6 326.2 129.1M304.2 129.6C311.0 128.0 316.1 128.0 327.4 130.0M328.4 127.3C329.1 127.2 329.7 126.6 330.7 126.7M328.4 127.1C329.0 126.9 329.6 126.9 330.6 126.5M209.5 31.0C205.2 33.0 205.6 38.4 203.2 40.1M208.0 29.8C207.6 32.9 205.5 37.6 203.1 40.7M199.4 39.4C206.6 49.1 211.0 50.6 217.6 60.0M203.2 41.1C206.8 47.0 209.7 50.1 218.4 61.3M219.6 60.1C220.5 64.8 226.3 68.0 236.8 73.2M219.8 59.6C224.8 63.3 228.1 68.0 235.6 75.3M231.0 76.3C237.2 76.7 240.8 80.3 245.7 84.9M232.1 74.8C237.9 80.8 243.0 84.4 246.8 86.3M249.0 85.2C254.1 87.4 255.4 88.5 261.2 92.8M250.8 86.4C252.1 86.7 254.5 89.3 259.1 92.3M259.4 92.1C263.3 93.3 263.4 94.7 269.8 95.7M259.5 90.3C263.0 93.4 266.0 94.6 268.2 96.9M266.6 97.3C276.4 100.9 281.5 106.1 286.1 107.4M268.9 97.7C275.0 99.4 283.4 104.1 286.1 108.5M285.2 109.3C287.9 109.1 291.4 111.9 293.7 112.1M284.6 108.0C287.3 109.4 291.2 111.1 293.7 112.4M296.0 113.8C304.2 114.8 308.7 122.3 313.4 125.8M292.3 115.4C301.3 118.1 306.4 120.7 314.8 122.9M317.3 121.0C320.0 120.0 322.4 118.5 329.5 119.2M316.7 121.4C319.9 120.6 323.7 119.5 329.3 118.0M220.9 29.6C220.3 37.0 223.4 38.5 222.4 48.0M221.7 30.6C222.0 34.3 222.6 38.3 221.4 47.1M219.2 46.2C226.5 52.7 234.2 58.6 238.9 61.8M220.8 47.4C225.1 50.5 231.4 55.7 238.3 64.7M241.7 62.0C248.3 71.8 252.4 77.2 256.3 79.6M238.0 64.3C243.5 68.5 249.3 71.3 257.0 80.5M256.1 79.5C260.0 81.7 263.7 84.5 267.5 86.2M257.0 80.1C260.1 80.7 261.2 83.1 266.8 86.4M267.4 84.6C272.5 88.3 274.3 91.1 290.3 97.0M264.9 87.9C270.7 88.1 276.6 91.0 288.1 98.8M288.7 96.9C291.5 99.5 294.3 101.1 298.8 104.9M287.7 97.6C291.8 99.6 295.2 101.4 300.7 104.3M302.3 105.0C307.5 108.9 311.1 109.6 313.5 112.3M302.9 106.9C304.6 106.6 307.8 107.9 314.1 110.6M311.5 113.1C319.1 111.1 321.0 108.5 327.5 108.9M313.7 111.1C316.9 109.9 323.4 109.6 328.1 109.2M325.3 108.9C325.9 108.3 327.0 108.6 328.3 108.1M324.9 109.1C325.7 108.6 326.5 108.6 328.1 108.1M233.0 31.6C235.0 34.9 233.4 41.4 232.3 43.4M235.0 30.9C234.4 35.4 233.1 38.4 232.1 44.8M233.4 44.5C236.7 46.8 240.6 51.6 243.6 53.7M234.0 43.5C236.4 46.9 239.8 49.3 243.3 54.3M243.1 55.1C251.4 59.0 253.3 64.0 258.4 70.5M244.6 53.1C247.8 58.5 254.5 61.7 261.3 67.7M262.7 66.0C262.7 68.9 270.3 73.7 276.8 77.5M262.7 65.8C266.3 71.2 271.2 74.4 278.9 79.8M275.1 81.9C279.0 84.2 281.9 86.1 286.3 87.0M276.3 80.6C277.9 82.7 281.0 83.8 284.7 86.4M286.7 85.3C290.3 86.9 296.7 91.6 298.9 93.6M287.2 85.4C289.7 86.3 292.4 88.7 299.6 91.6M298.1 95.8C299.8 96.7 302.1 95.4 310.3 101.7M298.6 93.6C300.4 94.5 303.1 96.9 311.7 101.6M309.4 98.9C314.5 100.5 323.1 97.8 326.2 97.7M310.8 97.5C314.7 98.9 317.5 98.5 327.4 98.0M252.0 31.6C253.0 37.8 252.4 44.7 255.1 49.9M249.6 31.4C250.3 35.5 252.7 39.1 253.7 49.5M254.0 48.7C257.1 51.6 259.8 54.4 268.9 59.4M252.9 48.4C256.9 51.3 260.0 56.4 266.8 61.4M268.4 59.2C269.9 60.3 276.2 64.6 281.5 68.9M267.1 58.5C273.0 64.2 279.7 69.0 283.3 70.6M283.9 72.7C292.2 73.3 300.5 81.9 306.9 80.0M285.6 70.3C290.5 73.6 294.0 75.2 304.6 84.2M303.5 85.2C305.6 88.1 306.0 87.5 311.1 89.7M302.1 86.2C305.2 88.0 307.3 88.4 311.0 91.1M311.2 87.4C319.9 88.7 324.0 89.3 331.6 89.8M313.2 88.6C318.3 88.6 321.4 89.7 330.0 88.5M264.5 28.8C265.6 34.9 264.3 37.8 267.0 46.1M264.2 30.3C265.3 34.9 265.9 39.8 268.6 46.4M266.9 48.7C271.6 50.8 273.9 53.9 275.4 56.1M268.6 47.6C270.6 49.7 271.7 51.2 276.7 55.0M273.6 53.7C278.0 54.2 279.1 58.4 290.6 62.5M272.4 51.6C278.4 57.2 284.0 61.2 290.0 63.8M291.7 64.7C295.1 71.4 299.8 73.1 307.4 79.0M291.7 66.4C296.2 69.5 304.0 73.7 309.7 77.8M312.6 75.8C316.0 76.6 319.2 75.2 331.0 78.2M309.1 77.3C313.4 77.2 318.5 76.3 330.2 79.0M278.5 32.0C276.6 37.8 278.6 41.2 279.4 46.0M277.4 31.0C277.3 36.1 278.8 40.0 278.9 44.9M275.8 44.0C277.8 45.1 280.3 46.1 288.3 52.2M276.1 42.5C281.6 46.9 284.5 50.2 288.3 52.6M288.9 50.8C289.1 54.4 294.2 56.9 300.9 59.1M288.1 52.2C291.0 53.3 293.8 55.7 298.6 60.8M300.4 60.1C303.7 63.6 311.5 69.1 320.8 73.2M300.2 61.0C308.4 64.7 313.8 68.2 321.0 72.4M319.3 70.4C323.3 70.0 324.5 69.0 328.6 69.6M319.5 70.3C323.0 69.7 325.7 69.2 328.3 69.0M326.7 68.4C327.5 68.0 328.1 68.3 328.9 68.2M326.8 68.2C327.2 68.2 327.7 68.3 328.7 68.1M288.2 28.7C291.8 35.3 293.6 43.2 295.6 44.6M288.7 29.7C290.7 32.5 292.8 36.5 296.1 47.4M299.5 45.7C304.0 52.1 309.0 56.8 313.9 60.5M300.4 45.8C305.0 51.6 312.0 56.6 316.4 57.3M314.2 60.7C318.7 60.0 325.1 59.2 330.7 59.5M314.7 59.2C319.4 60.4 324.2 60.5 330.5 59.8M302.7 29.8C307.3 34.8 310.1 42.2 311.7 45.2M303.2 29.5C305.4 35.7 308.0 38.4 311.9 46.4M312.3 44.4C316.4 46.3 318.4 46.2 323.3 48.4M311.6 45.8C315.4 46.7 317.8 47.3 324.1 49.3M324.1 51.7C328.0 51.1 330.6 51.2 332.4 51.2M324.7 50.9C326.8 50.5 328.7 50.6 331.3 50.2M314.5 31.5C317.8 32.2 322.2 33.5 326.3 40.6M314.7 29.9C317.6 33.0 321.7 35.6 325.5 39.6M329.5 40.9C330.3 40.4 330.5 40.4 331.7 40.4M329.4 40.7C330.1 40.6 330.8 40.5 331.6 40.6M329.1 30.5C329.1 30.5 329.1 30.5 329.1 30.5M329.1 30.5C329.1 30.5 329.1 30.5 329.1 30.5M86.7 29.4C89.7 28.8 94.4 32.1 101.1 31.9M85.8 29.8C91.2 30.2 98.0 30.6 100.4 29.8M100.0 31.3C106.7 28.8 115.6 26.8 121.6 27.1M100.8 30.6C108.9 29.8 115.5 30.8 123.0 30.2M120.9 28.7C127.4 30.7 129.0 26.1 143.0 29.5M124.1 29.0C127.1 28.1 131.4 28.9 142.0 28.8M141.6 31.2C145.9 31.2 148.3 30.8 150.8 32.1M141.8 31.6C143.1 31.5 145.6 31.3 150.7 31.6M153.7 28.3C156.7 28.1 162.7 30.0 166.9 30.7M152.3 29.5C156.5 30.1 158.3 29.7 166.0 29.0M165.5 28.3C166.4 31.7 171.3 30.3 180.9 29.8M164.9 29.5C170.2 29.1 176.1 29.7 179.5 29.4M178.3 31.5C185.9 29.1 191.1 30.9 192.0 31.6M178.1 30.5C183.1 29.2 188.6 29.8 193.6 30.4M195.5 27.3C196.2 31.5 200.0 31.3 213.1 30.0M193.8 28.7C199.8 28.8 205.6 29.1 210.8 29.8M214.9 30.3C220.6 32.5 228.0 27.3 236.9 27.8M214.3 28.5C219.6 30.2 228.8 30.2 238.6 30.0M233.2 28.2C244.3 33.4 249.4 29.1 260.3 30.2M236.7 30.2C240.1 29.8 244.8 31.7 257.3 30.7M259.4 29.0C262.0 31.9 269.3 29.6 272.5 29.6M258.8 30.1C261.3 30.6 266.3 29.1 275.3 30.4M275.8 31.8C280.1 30.9 282.1 30.3 287.4 31.6M277.6 31.3C279.5 31.2 282.3 31.5 287.6 32.1M284.5 31.8C288.8 28.4 296.6 31.6 302.4 29.1M285.2 30.9C289.5 29.6 293.8 30.7 301.4 29.6M303.1 29.5C306.9 28.6 309.2 28.6 314.9 28.0M302.1 28.6C305.1 28.1 308.1 28.6 313.3 28.9M313.7 29.1C318.5 34.9 322.8 36.0 330.5 41.4M312.8 32.4C320.2 36.7 326.4 40.0 331.0 42.6M329.0 202.9C327.7 197.8 329.1 194.4 329.0 189.8M328.6 203.7C327.6 200.9 328.1 195.6 329.2 188.5M327.5 191.8C326.0 184.1 330.4 179.5 327.0 172.9M328.5 192.6C329.4 187.5 327.5 181.7 327.5 173.7M331.0 172.8C331.1 168.0 331.7 158.9 328.0 154.3M330.4 172.5C329.3 169.6 328.9 164.3 329.8 155.9M328.5 154.9C330.5 149.5 329.9 145.2 330.6 135.9M329.9 154.5C330.4 149.7 329.8 145.5 329.7 137.8M330.9 136.2C328.5 132.3 331.1 128.1 328.1 121.7M330.1 136.9C329.9 131.4 329.4 124.0 329.3 121.1M328.2 125.8C327.7 114.2 330.8 106.4 330.3 95.0M329.2 123.8C330.7 112.7 329.5 105.3 330.4 96.8M332.1 96.8C330.2 90.4 331.0 88.0 332.7 84.4M332.4 97.0C332.2 93.5 331.7 91.1 331.2 83.3M330.4 83.8C330.8 78.1 328.1 74.9 330.0 68.8M328.7 86.7C329.9 80.8 330.5 74.4 330.4 68.1M328.3 69.2C329.6 62.5 329.5 54.6 331.4 46.2M330.4 68.5C330.4 62.5 330.2 55.3 328.6 47.7M330.5 45.6C330.5 44.8 331.1 42.2 330.6 41.9M330.9 46.2C331.0 44.9 330.9 43.8 330.9 41.5M165.6 31.7C171.8 29.5 180.5 28.5 184.5 29.6M166.5 29.6C172.0 30.7 179.6 30.3 185.6 29.6M185.4 28.9C190.7 29.6 195.8 28.0 201.5 30.6M186.1 30.1C191.0 30.0 197.1 28.8 199.5 29.0M196.6 30.9C200.3 29.3 201.6 29.7 209.4 31.6M196.5 30.2C200.5 29.8 202.4 30.1 209.9 30.5M208.7 27.8C211.1 27.5 217.1 31.2 225.4 31.3M209.3 28.7C211.5 29.4 214.8 29.4 225.1 29.4M225.6 28.5C233.6 28.5 238.2 33.1 250.9 28.6M226.1 30.7C230.4 30.3 237.3 30.8 248.4 30.2M249.2 32.7C252.8 32.5 256.3 30.8 260.6 32.5M247.3 30.4C252.5 31.2 258.4 30.5 260.6 31.8M261.8 28.7C264.6 30.9 271.2 30.7 283.5 31.0M262.5 31.5C268.4 30.3 272.7 30.3 281.9 30.0M280.2 29.9C283.4 30.9 290.7 29.4 293.8 29.5M280.4 30.4C284.7 32.1 290.2 30.6 294.5 30.7M294.1 28.4C297.0 27.7 301.0 30.3 308.8 27.5M294.5 29.1C296.8 29.3 301.0 29.1 308.2 29.3M309.8 31.2C311.6 31.1 315.7 30.1 322.0 31.5M310.7 30.1C313.6 31.0 315.8 31.1 323.7 32.5M322.2 33.0C324.3 35.2 326.1 37.2 328.0 39.0M322.0 33.7C323.5 34.0 324.9 35.7 329.1 40.1M328.8 38.3C328.9 38.7 329.5 38.8 330.1 40.1M328.6 38.3C329.1 38.6 329.6 39.2 330.3 39.8M331.2 143.8C331.4 139.3 331.3 127.2 333.3 121.5M329.6 145.4C330.7 137.6 329.9 129.2 329.3 123.6M332.4 122.7C330.0 121.1 333.2 114.0 331.3 106.8M330.8 124.0C330.7 121.1 331.5 115.1 331.5 108.2M328.5 110.4C329.9 99.4 332.8 88.2 333.0 78.8M330.5 106.5C328.3 103.0 329.0 95.0 329.7 83.7M329.3 83.9C331.0 76.4 330.9 73.0 329.9 65.5M328.3 82.7C329.4 76.3 327.9 69.1 329.6 64.9M329.1 64.7C328.0 58.5 329.3 56.7 330.3 49.1M328.3 63.0C329.5 60.2 329.6 57.6 328.9 49.2M328.8 49.1C329.5 48.4 329.3 44.7 329.9 42.1M329.3 50.1C329.4 47.8 329.4 44.2 329.0 41.6M246.6 30.8C255.4 29.7 260.5 30.9 267.4 27.6M246.2 30.0C253.7 28.1 260.3 28.1 268.5 29.4M266.9 26.9C275.8 27.2 277.7 30.2 291.5 30.5M266.9 27.5C271.8 29.1 277.0 28.3 289.5 28.8M290.5 29.5C291.2 30.5 294.1 31.9 300.4 29.6M289.2 30.1C292.3 30.4 295.8 30.5 300.3 30.2M303.4 29.9C307.4 31.2 316.0 31.1 320.9 31.6M302.2 29.8C304.8 31.6 310.2 31.5 319.3 31.8M318.1 31.0C321.6 33.3 323.2 35.1 326.6 37.5M319.6 31.8C320.8 33.2 322.2 34.8 326.3 38.4M327.8 35.3C328.3 36.8 330.2 37.2 331.7 39.7M328.0 35.5C328.4 36.5 329.4 37.8 331.8 39.5M330.8 88.6C330.6 85.3 328.1 75.8 330.2 69.4M328.6 89.2C330.4 82.7 329.1 80.0 329.4 70.0M329.9 68.8C330.5 63.0 331.2 57.7 330.0 52.7M330.2 69.9C328.8 62.6 328.9 58.4 328.9 50.4M331.8 50.8C331.4 46.3 330.7 43.2 330.4 41.8M330.6 49.9C330.8 47.8 331.5 45.7 330.6 40.8" fill="none" stroke="#a52a2a" stroke-width="3.1" stroke-linecap="round" stroke-linejoin="round" /><path d="M41.5 219.1C41.0 219.5 39.2 220.4 38.5 221.7C37.8 223.0 37.5 225.3 37.5 226.9C37.5 228.5 38.0 230.3 38.5 231.2C39.0 232.1 39.7 232.6 40.5 232.4C41.3 232.3 42.6 231.5 43.3 230.2C44.0 229.0 44.7 226.6 44.9 225.0C45.1 223.4 44.7 221.7 44.3 220.7C43.9 219.7 42.9 219.1 42.3 218.9C41.7 218.7 41.0 219.6 40.7 219.7" fill="none" stroke="#1b1b25" stroke-width="1.7" stroke-linecap="round" stroke-linejoin="round" /><path d="M37.0 183.2C37.2 182.7 37.7 181.2 38.4 180.7C39.1 180.2 40.3 179.8 41.0 180.0C41.7 180.2 42.6 181.0 42.8 181.8C43.0 182.7 42.7 183.8 42.2 185.0C41.7 186.3 40.6 188.0 39.8 189.3C39.0 190.7 37.3 192.6 37.4 193.0C37.5 193.5 39.0 192.1 40.3 191.9C41.6 191.6 44.5 191.6 45.4 191.5" fill="none" stroke="#1b1b25" stroke-width="1.7" stroke-linecap="round" stroke-linejoin="round" /><path d="M41.2 141.7C40.9 142.4 39.9 144.6 39.2 146.0C38.5 147.5 36.5 149.6 36.8 150.2C37.1 150.9 39.3 150.2 40.8 150.0C42.3 149.9 45.0 149.4 45.8 149.3M42.4 144.7L43.0 154.6" fill="none" stroke="#1b1b25" stroke-width="1.7" stroke-linecap="round" stroke-linejoin="round" /><path d="M42.0 101.9C41.6 102.5 40.2 104.3 39.6 105.6C39.0 107.0 38.5 108.6 38.4 109.9C38.3 111.2 38.7 112.8 39.2 113.7C39.7 114.6 40.6 115.3 41.4 115.3C42.2 115.4 43.4 114.8 44.0 114.1C44.6 113.4 45.1 112.0 45.0 111.2C44.9 110.5 44.1 109.7 43.4 109.5C42.7 109.4 41.5 109.8 40.8 110.3C40.1 110.8 39.6 112.0 39.4 112.4" fill="none" stroke="#1b1b25" stroke-width="1.7" stroke-linecap="round" stroke-linejoin="round" /><path d="M43.7 63.7C43.3 63.6 42.1 62.8 41.5 63.0C40.9 63.2 40.0 64.1 39.9 64.8C39.8 65.6 40.1 66.7 40.7 67.5C41.3 68.3 42.7 68.9 43.3 69.8C43.9 70.6 44.6 71.8 44.5 72.8C44.4 73.8 43.6 75.3 42.9 75.8C42.2 76.4 41.1 76.4 40.5 76.0C39.9 75.7 39.3 74.5 39.3 73.6C39.3 72.6 40.1 71.4 40.7 70.5C41.3 69.6 42.5 68.9 43.1 68.0C43.7 67.2 44.3 66.1 44.3 65.4C44.3 64.6 43.5 63.8 43.3 63.5" fill="none" stroke="#1b1b25" stroke-width="1.7" stroke-linecap="round" stroke-linejoin="round" /><path d="M33.4 23.9L34.2 37.6M41.5 24.1C41.0 24.5 39.2 25.4 38.5 26.7C37.8 28.0 37.5 30.3 37.5 31.9C37.5 33.5 38.0 35.3 38.5 36.2C39.0 37.1 39.7 37.6 40.5 37.4C41.3 37.3 42.6 36.5 43.3 35.2C44.0 34.0 44.7 31.6 44.9 30.0C45.1 28.4 44.7 26.7 44.3 25.7C43.9 24.7 42.9 24.1 42.3 23.9C41.7 23.7 41.0 24.6 40.7 24.7" fill="none" stroke="#1b1b25" stroke-width="1.7" stroke-linecap="round" stroke-linejoin="round" /><path d="M51.7 225.0L59.5 225.0M51.7 186.0L59.5 186.0M51.7 147.0L59.5 147.0M51.7 108.0L59.5 108.0M51.7 69.0L59.5 69.0M51.7 30.0L59.5 30.0" fill="none" stroke="#1b1b25" stroke-width="1.3" stroke-linecap="round" stroke-linejoin="round" /><path d="M60.2 244.0C59.7 244.4 57.9 245.3 57.2 246.6C56.5 247.9 56.2 250.2 56.2 251.8C56.2 253.4 56.7 255.2 57.2 256.1C57.7 257.0 58.4 257.5 59.2 257.3C60.0 257.2 61.3 256.4 62.0 255.1C62.7 253.9 63.4 251.5 63.6 249.9C63.8 248.3 63.4 246.6 63.0 245.6C62.6 244.6 61.6 244.0 61.0 243.8C60.4 243.6 59.7 244.5 59.4 244.6" fill="none" stroke="#1b1b25" stroke-width="1.7" stroke-linecap="round" stroke-linejoin="round" /><path d="M198.4 244.2C197.9 244.2 196.2 244.3 195.2 244.4C194.2 244.5 193.0 244.2 192.4 244.8C191.9 245.3 192.2 246.6 192.1 247.5C192.0 248.4 191.4 249.8 191.8 250.1C192.3 250.4 193.9 249.3 194.8 249.3C195.8 249.4 197.1 249.8 197.7 250.5C198.2 251.1 198.6 252.2 198.4 253.1C198.3 254.1 197.6 255.5 196.8 256.2C196.1 256.9 194.7 257.3 193.8 257.3C193.0 257.3 192.0 256.4 191.7 256.2" fill="none" stroke="#1b1b25" stroke-width="1.7" stroke-linecap="round" stroke-linejoin="round" /><path d="M324.4 243.8L325.1 257.5M332.4 244.0C331.9 244.4 330.1 245.3 329.4 246.6C328.8 247.9 328.4 250.2 328.4 251.8C328.4 253.4 328.9 255.2 329.4 256.1C329.9 257.0 330.6 257.5 331.4 257.3C332.2 257.2 333.5 256.4 334.2 255.1C335.0 253.9 335.7 251.5 335.9 249.9C336.0 248.3 335.7 246.6 335.2 245.6C334.8 244.6 333.9 244.0 333.2 243.8C332.6 243.6 331.9 244.5 331.6 244.6" fill="none" stroke="#1b1b25" stroke-width="1.7" stroke-linecap="round" stroke-linejoin="round" /><path d="M60.0 225.5L60.0 233.3M195.0 225.5L195.0 233.3M330.0 225.5L330.0 233.3" fill="none" stroke="#1b1b25" stroke-width="1.3" stroke-linecap="round" stroke-linejoin="round" /></svg></div>
<h2 style="left:418px;top:847.5px;letter-spacing:0.43px">density</h2>
<div class="card" style="left:418px;top:892px"><svg width="360" height="270" viewBox="0 0 360 270"><path d="M35.0 92.3C34.5 92.3 32.8 92.4 31.8 92.5C30.8 92.6 29.5 92.3 29.0 92.9C28.5 93.4 28.7 94.7 28.6 95.6C28.5 96.5 27.9 97.9 28.4 98.2C28.9 98.5 30.4 97.4 31.4 97.4C32.4 97.5 33.6 97.9 34.2 98.6C34.8 99.2 35.1 100.3 35.0 101.2C34.9 102.2 34.2 103.6 33.4 104.3C32.6 105.0 31.3 105.4 30.4 105.4C29.5 105.4 28.6 104.5 28.2 104.3M41.5 92.1C41.0 92.5 39.2 93.4 38.5 94.7C37.8 96.0 37.5 98.3 37.5 99.9C37.5 101.5 38.0 103.3 38.5 104.2C39.0 105.1 39.7 105.6 40.5 105.4C41.3 105.3 42.6 104.5 43.3 103.2C44.0 102.0 44.7 99.6 44.9 98.0C45.1 96.4 44.7 94.7 44.3 93.7C43.9 92.7 42.9 92.1 42.3 91.9C41.7 91.7 41.0 92.6 40.7 92.7" fill="none" stroke="#1b1b25" stroke-width="1.7" stroke-linecap="round" stroke-linejoin="round" /><path d="M31.2 162.2C30.9 162.9 29.9 165.1 29.2 166.5C28.5 168.0 26.5 170.1 26.8 170.7C27.1 171.4 29.3 170.7 30.8 170.5C32.3 170.4 35.0 169.9 35.8 169.8M32.4 165.2L33.0 175.1M41.5 161.6C41.0 162.0 39.2 162.9 38.5 164.2C37.8 165.5 37.5 167.8 37.5 169.4C37.5 171.0 38.0 172.8 38.5 173.7C39.0 174.6 39.7 175.1 40.5 174.9C41.3 174.8 42.6 174.0 43.3 172.7C44.0 171.5 44.7 169.1 44.9 167.5C45.1 165.9 44.7 164.2 44.3 163.2C43.9 162.2 42.9 161.6 42.3 161.4C41.7 161.2 41.0 162.1 40.7 162.2" fill="none" stroke="#1b1b25" stroke-width="1.7" stroke-linecap="round" stroke-linejoin="round" /><path d="M51.7 98.0L59.5 98.0M51.7 167.5L59.5 167.5" fill="none" stroke="#1b1b25" stroke-width="1.3" stroke-linecap="round" stroke-linejoin="round" /><path d="M86.1 242.3L87.0 256.0M95.5 243.1C95.1 243.0 93.9 242.2 93.2 242.4C92.6 242.6 91.8 243.5 91.6 244.2C91.5 245.0 91.9 246.1 92.5 246.9C93.0 247.7 94.4 248.3 95.0 249.2C95.7 250.0 96.3 251.2 96.2 252.2C96.2 253.2 95.3 254.7 94.6 255.2C94.0 255.8 92.8 255.8 92.2 255.4C91.7 255.1 91.0 253.9 91.0 253.0C91.1 252.0 91.8 250.8 92.5 249.9C93.1 249.0 94.2 248.3 94.8 247.4C95.4 246.6 96.0 245.5 96.0 244.8C96.1 244.0 95.2 243.2 95.0 242.9M103.2 242.5C102.8 242.9 100.9 243.8 100.2 245.1C99.6 246.4 99.2 248.7 99.2 250.3C99.2 251.9 99.8 253.7 100.2 254.6C100.8 255.5 101.5 256.0 102.2 255.8C103.0 255.7 104.3 254.9 105.0 253.6C105.8 252.4 106.5 250.0 106.6 248.4C106.8 246.8 106.5 245.1 106.0 244.1C105.6 243.1 104.6 242.5 104.0 242.3C103.5 242.1 102.7 243.0 102.5 243.1" fill="none" stroke="#1b1b25" stroke-width="1.7" stroke-linecap="round" stroke-linejoin="round" /><path d="M174.4 245.6C174.7 245.1 175.2 243.6 175.8 243.1C176.5 242.6 177.7 242.2 178.4 242.4C179.2 242.6 180.1 243.4 180.2 244.2C180.4 245.1 180.2 246.2 179.7 247.4C179.2 248.7 178.1 250.4 177.2 251.7C176.4 253.1 174.8 255.0 174.8 255.4C174.9 255.9 176.4 254.5 177.8 254.3C179.1 254.0 182.0 254.0 182.8 253.9M188.9 242.5C188.4 242.9 186.6 243.8 185.9 245.1C185.3 246.4 184.9 248.7 184.9 250.3C184.9 251.9 185.4 253.7 185.9 254.6C186.4 255.5 187.1 256.0 187.9 255.8C188.8 255.7 190.0 254.9 190.8 253.6C191.5 252.4 192.2 250.0 192.3 248.4C192.5 246.8 192.2 245.1 191.8 244.1C191.3 243.1 190.3 242.5 189.8 242.3C189.2 242.1 188.4 243.0 188.2 243.1M198.9 242.5C198.4 242.9 196.6 243.8 195.9 245.1C195.3 246.4 194.9 248.7 194.9 250.3C194.9 251.9 195.4 253.7 195.9 254.6C196.4 255.5 197.1 256.0 197.9 255.8C198.8 255.7 200.0 254.9 200.8 253.6C201.5 252.4 202.2 250.0 202.3 248.4C202.5 246.8 202.2 245.1 201.8 244.1C201.3 243.1 200.3 242.5 199.8 242.3C199.2 242.1 198.4 243.0 198.2 243.1" fill="none" stroke="#1b1b25" stroke-width="1.7" stroke-linecap="round" stroke-linejoin="round" /><path d="M265.7 245.6C265.9 245.1 266.4 243.6 267.1 243.1C267.8 242.6 269.0 242.2 269.7 242.4C270.4 242.6 271.3 243.4 271.5 244.2C271.7 245.1 271.4 246.2 270.9 247.4C270.4 248.7 269.3 250.4 268.5 251.7C267.7 253.1 266.0 255.0 266.1 255.4C266.2 255.9 267.7 254.5 269.0 254.3C270.3 254.0 273.2 254.0 274.1 253.9M276.2 245.6C276.4 245.1 276.9 243.6 277.6 243.1C278.3 242.6 279.5 242.2 280.2 242.4C280.9 242.6 281.8 243.4 282.0 244.2C282.2 245.1 281.9 246.2 281.4 247.4C280.9 248.7 279.8 250.4 279.0 251.7C278.2 253.1 276.5 255.0 276.6 255.4C276.7 255.9 278.2 254.5 279.5 254.3C280.8 254.0 283.8 254.0 284.6 253.9M290.7 242.5C290.2 242.9 288.4 243.8 287.7 245.1C287.0 246.4 286.7 248.7 286.7 250.3C286.7 251.9 287.2 253.7 287.7 254.6C288.2 255.5 288.9 256.0 289.7 255.8C290.5 255.7 291.8 254.9 292.5 253.6C293.2 252.4 293.9 250.0 294.1 248.4C294.3 246.8 293.9 245.1 293.5 244.1C293.1 243.1 292.1 242.5 291.5 242.3C290.9 242.1 290.2 243.0 289.9 243.1" fill="none" stroke="#1b1b25" stroke-width="1.7" stroke-linecap="round" stroke-linejoin="round" /><path d="M96.3 225.5L96.3 233.3M188.5 225.5L188.5 233.3M280.0 225.5L280.0 233.3" fill="none" stroke="#1b1b25" stroke-width="1.3" stroke-linecap="round" stroke-linejoin="round" /><path d="M13.8 23.5L13.8 6.5" stroke="#1b1b25" stroke-width="2.2" fill="none"/><path d="M8.1 8.8L13.8 2.9L19.5 8.8Z" fill="#1b1b25"/><path d="M42.1 11.6C41.7 11.4 40.7 10.2 39.9 10.3C39.1 10.4 38.0 11.0 37.3 12.0C36.6 13.0 35.9 15.0 35.8 16.4C35.7 17.8 36.3 19.7 36.9 20.6C37.5 21.5 38.3 21.8 39.3 21.7C40.2 21.6 42.0 20.4 42.5 20.2M44.8 10.4C44.8 11.5 44.8 15.3 45.0 17.0C45.2 18.7 45.6 19.8 46.1 20.6C46.6 21.4 47.2 21.8 47.8 21.6C48.4 21.4 49.2 20.5 49.8 19.4C50.3 18.3 50.9 15.7 51.1 15.0M51.1 10.4L51.7 22.0M55.1 2.6L55.8 22.0M59.2 10.2L59.8 22.0M59.8 15.5C60.1 14.9 60.7 12.8 61.3 12.0C61.9 11.2 62.6 10.3 63.3 10.4C63.9 10.5 64.6 11.3 65.0 12.4C65.3 13.5 65.3 15.4 65.4 17.0C65.5 18.6 65.6 21.2 65.6 22.0M65.5 15.5C65.8 14.9 66.5 12.8 67.1 12.0C67.8 11.2 68.7 10.3 69.3 10.4C70.0 10.5 70.6 11.3 71.0 12.4C71.4 13.5 71.5 15.4 71.7 17.0C71.9 18.6 72.0 21.2 72.1 22.0M76.4 17.0C76.9 16.8 78.6 16.4 79.6 15.8C80.6 15.2 82.1 14.4 82.4 13.6C82.8 12.8 82.3 11.6 81.8 11.0C81.3 10.4 80.2 10.0 79.4 10.3C78.6 10.6 77.6 11.5 77.0 12.6C76.5 13.7 76.1 15.3 76.2 16.6C76.2 17.9 76.7 19.5 77.2 20.4C77.8 21.3 78.6 21.9 79.6 21.8C80.6 21.7 82.7 20.3 83.3 20.0M85.8 10.2L86.5 22.0M86.5 15.5C86.8 14.9 87.5 12.8 88.2 12.0C88.8 11.2 89.7 10.4 90.3 10.4C91.0 10.4 91.9 11.1 92.3 12.2C92.7 13.3 92.6 15.4 92.7 17.0C92.8 18.6 92.9 21.2 92.9 22.0M94.5 24.4L112.3 24.0M113.7 2.6L114.3 22.0M118.1 17.0C118.7 16.8 120.4 16.4 121.4 15.8C122.4 15.2 123.8 14.4 124.2 13.6C124.5 12.8 124.0 11.6 123.5 11.0C123.0 10.4 122.0 10.0 121.2 10.3C120.4 10.6 119.3 11.5 118.8 12.6C118.2 13.7 117.9 15.3 117.9 16.6C118.0 17.9 118.4 19.5 119.0 20.4C119.6 21.3 120.4 21.9 121.4 21.8C122.4 21.7 124.4 20.3 125.0 20.0M127.6 10.2L128.2 22.0M128.2 15.5C128.5 14.9 129.3 12.8 130.0 12.0C130.6 11.2 131.4 10.4 132.1 10.4C132.8 10.4 133.7 11.1 134.1 12.2C134.5 13.3 134.4 15.4 134.5 17.0C134.6 18.6 134.7 21.2 134.7 22.0M144.8 12.0C144.4 11.7 143.3 10.3 142.4 10.3C141.6 10.3 140.3 11.1 139.6 12.0C138.9 12.9 138.2 14.8 138.1 16.0C138.0 17.2 138.6 18.8 139.2 19.4C139.8 20.0 140.8 20.2 141.6 19.8C142.3 19.4 143.1 18.1 143.7 17.0C144.3 15.9 144.8 13.7 145.0 13.0M145.2 10.4C145.2 11.7 145.3 15.6 145.2 18.0C145.1 20.4 145.0 23.1 144.6 25.0C144.2 26.9 143.6 28.6 142.9 29.6C142.1 30.6 140.9 31.0 140.0 31.0C139.2 31.0 138.1 29.7 137.7 29.4M151.0 4.6L151.6 22.0M147.8 11.0L154.9 10.4M156.8 2.6L157.4 22.0M157.4 16.0C157.7 15.4 158.5 13.3 159.1 12.4C159.8 11.5 160.7 10.8 161.3 10.8C162.0 10.8 162.7 11.6 163.0 12.6C163.4 13.6 163.4 15.4 163.5 17.0C163.6 18.6 163.6 21.2 163.7 22.0M165.2 24.4L183.1 24.0M184.2 10.2L184.8 22.0M184.8 15.5C185.1 14.9 185.8 12.8 186.3 12.0C186.9 11.2 187.7 10.3 188.3 10.4C188.9 10.5 189.7 11.3 190.0 12.4C190.4 13.5 190.3 15.4 190.4 17.0C190.6 18.6 190.6 21.2 190.7 22.0M190.6 15.5C190.8 14.9 191.5 12.8 192.2 12.0C192.8 11.2 193.7 10.3 194.3 10.4C195.0 10.5 195.7 11.3 196.1 12.4C196.5 13.5 196.5 15.4 196.7 17.0C196.9 18.6 197.1 21.2 197.1 22.0M201.0 10.2L201.6 22.0M201.6 15.5C201.9 14.9 202.6 12.8 203.1 12.0C203.7 11.2 204.5 10.3 205.1 10.4C205.7 10.5 206.4 11.3 206.8 12.4C207.2 13.5 207.1 15.4 207.2 17.0C207.3 18.6 207.4 21.2 207.5 22.0M207.3 15.5C207.6 14.9 208.3 12.8 209.0 12.0C209.6 11.2 210.5 10.3 211.1 10.4C211.8 10.5 212.5 11.3 212.8 12.4C213.2 13.5 213.3 15.4 213.5 17.0C213.7 18.6 213.9 21.2 213.9 22.0" fill="none" stroke="#1b1b25" stroke-width="1.7" stroke-linecap="round" stroke-linejoin="round" /><path d="M152.1 247.1C151.8 246.8 150.9 245.5 150.3 245.5C149.8 245.5 149.0 245.9 148.6 247.1C148.2 248.3 148.2 250.4 148.2 252.5C148.1 254.6 148.3 257.5 148.4 259.5C148.5 261.5 148.6 263.7 148.6 264.5M145.1 253.5L152.1 252.9M153.7 245.1L154.4 264.5M158.1 253.9L158.6 264.5M157.9 249.5L158.0 250.3M161.8 252.7L162.7 272.5M162.4 257.1C162.7 256.6 163.5 254.8 164.2 254.1C164.8 253.4 165.6 252.7 166.3 252.9C167.1 253.1 168.1 254.1 168.5 255.1C168.9 256.1 169.0 257.7 168.7 258.9C168.4 260.1 167.8 261.8 166.8 262.5C165.8 263.2 163.3 262.8 162.7 262.9M171.7 252.7L172.5 272.5M172.3 257.1C172.6 256.6 173.4 254.8 174.0 254.1C174.7 253.4 175.5 252.7 176.2 252.9C176.9 253.1 178.0 254.1 178.4 255.1C178.8 256.1 178.9 257.7 178.6 258.9C178.3 260.1 177.6 261.8 176.6 262.5C175.6 263.2 173.2 262.8 172.5 262.9M182.0 259.5C182.5 259.3 184.2 258.9 185.2 258.3C186.2 257.7 187.7 256.9 188.0 256.1C188.4 255.3 187.9 254.1 187.4 253.5C186.9 252.9 185.8 252.5 185.0 252.8C184.2 253.1 183.2 254.0 182.6 255.1C182.1 256.1 181.7 257.8 181.8 259.1C181.8 260.4 182.3 262.0 182.8 262.9C183.4 263.8 184.2 264.4 185.2 264.3C186.2 264.2 188.3 262.8 188.9 262.5M191.2 252.7L191.8 264.5M191.8 258.0C192.1 257.4 192.7 255.5 193.4 254.7C194.0 253.9 194.8 253.2 195.5 253.0C196.3 252.8 197.5 253.4 197.9 253.5M197.7 266.9L215.5 266.5M216.7 245.1L217.3 264.5M220.9 259.5C221.5 259.3 223.1 258.9 224.2 258.3C225.2 257.7 226.6 256.9 227.0 256.1C227.3 255.3 226.8 254.1 226.3 253.5C225.8 252.9 224.7 252.5 223.9 252.8C223.1 253.1 222.1 254.0 221.6 255.1C221.0 256.1 220.7 257.8 220.7 259.1C220.7 260.4 221.2 262.0 221.8 262.9C222.4 263.8 223.1 264.4 224.2 264.3C225.2 264.2 227.2 262.8 227.8 262.5M230.1 252.7L230.8 264.5M230.8 258.0C231.1 257.4 231.9 255.3 232.5 254.5C233.2 253.7 234.0 252.9 234.7 252.9C235.4 252.9 236.2 253.6 236.6 254.7C237.0 255.8 236.9 257.9 237.0 259.5C237.2 261.1 237.2 263.7 237.3 264.5M247.1 254.5C246.7 254.2 245.6 252.8 244.8 252.8C243.9 252.8 242.7 253.6 241.9 254.5C241.2 255.4 240.5 257.3 240.4 258.5C240.4 259.7 240.9 261.3 241.5 261.9C242.1 262.5 243.1 262.7 243.9 262.3C244.6 261.9 245.5 260.6 246.1 259.5C246.6 258.4 247.1 256.2 247.3 255.5M247.6 252.9C247.6 254.2 247.7 258.1 247.6 260.5C247.5 262.9 247.3 265.6 246.9 267.5C246.5 269.4 245.9 271.1 245.2 272.1C244.4 273.1 243.2 273.5 242.4 273.5C241.5 273.5 240.4 272.2 240.0 271.9M253.1 247.1L253.8 264.5M249.9 253.5L257.0 252.9M258.7 245.1L259.3 264.5M259.3 258.5C259.6 257.9 260.4 255.8 261.0 254.9C261.7 254.0 262.5 253.3 263.2 253.3C263.8 253.3 264.6 254.1 264.9 255.1C265.3 256.1 265.2 257.9 265.4 259.5C265.5 261.1 265.5 263.7 265.6 264.5M266.9 266.9L284.7 266.5M285.6 252.7L286.3 264.5M286.3 258.0C286.5 257.4 287.2 255.3 287.8 254.5C288.4 253.7 289.1 252.8 289.7 252.9C290.4 253.0 291.1 253.8 291.5 254.9C291.8 256.0 291.8 257.9 291.9 259.5C292.0 261.1 292.1 263.7 292.1 264.5M292.0 258.0C292.3 257.4 293.0 255.3 293.6 254.5C294.3 253.7 295.1 252.8 295.8 252.9C296.4 253.0 297.1 253.8 297.5 254.9C297.9 256.0 298.0 257.9 298.2 259.5C298.3 261.1 298.5 263.7 298.6 264.5M302.2 252.7L302.9 264.5M302.9 258.0C303.1 257.4 303.8 255.3 304.4 254.5C304.9 253.7 305.7 252.8 306.3 252.9C306.9 253.0 307.7 253.8 308.0 254.9C308.4 256.0 308.4 257.9 308.5 259.5C308.6 261.1 308.6 263.7 308.7 264.5M308.6 258.0C308.8 257.4 309.6 255.3 310.2 254.5C310.8 253.7 311.7 252.8 312.4 252.9C313.0 253.0 313.7 253.8 314.1 254.9C314.5 256.0 314.6 257.9 314.7 259.5C314.9 261.1 315.1 263.7 315.2 264.5" fill="none" stroke="#1b1b25" stroke-width="1.7" stroke-linecap="round" stroke-linejoin="round" /><path d="M333.0 257.0L350.0 257.0" stroke="#1b1b25" stroke-width="2.2" fill="none"/><path d="M347.7 251.3L353.6 257.0L347.7 262.7Z" fill="#1b1b25"/><path d="M121.1 21.7C138.5 14.7 163.9 13.1 191.2 6.1M120.1 18.5C139.0 17.2 159.9 16.4 188.6 7.3M109.7 23.4C135.8 23.0 170.8 19.9 218.5 7.1M107.6 23.9C133.5 20.4 164.0 14.9 216.8 10.6M93.9 34.3C127.7 33.7 155.8 24.5 222.3 15.1M98.7 29.9C131.5 28.0 168.0 18.5 227.9 13.9M92.6 40.7C132.8 36.8 169.1 26.6 231.0 18.7M91.8 40.3C130.3 34.5 174.1 25.4 229.1 16.8M90.0 45.7C130.9 29.8 172.2 28.9 230.5 22.1M83.8 41.7C126.5 35.9 161.9 31.6 231.4 21.8M77.7 48.1C122.2 41.3 155.9 31.3 231.0 29.3M79.7 51.4C142.9 39.5 204.8 27.5 235.3 24.9M75.1 51.4C118.3 45.8 159.7 37.4 239.6 25.9M77.2 56.3C135.4 44.8 192.4 37.7 233.5 31.9M77.6 59.6C119.7 49.6 162.9 38.6 236.3 33.2M73.0 58.9C111.7 53.1 149.6 46.7 234.9 33.9M69.1 61.5C115.8 56.2 152.8 48.7 232.1 37.1M70.3 62.9C104.7 57.2 138.9 52.7 235.4 40.3M67.4 69.3C122.1 60.3 165.8 53.4 231.1 48.0M70.6 71.7C108.6 63.7 142.5 55.9 233.3 43.4M70.1 78.5C132.7 68.6 186.9 58.4 227.6 46.9M70.2 73.1C133.0 63.3 197.4 52.9 229.5 48.9M71.7 83.1C118.5 74.0 157.2 68.0 233.4 53.1M67.0 81.0C101.4 78.2 140.0 72.7 231.4 55.8M65.5 84.7C131.7 71.0 183.2 70.1 228.3 63.9M69.5 86.7C120.5 76.1 169.3 67.2 225.9 60.9M70.1 87.4C105.4 87.3 131.5 74.4 226.8 67.5M70.7 87.9C108.1 87.9 147.5 81.7 225.6 65.2M77.5 92.8C112.5 82.8 140.0 81.2 222.4 68.9M76.7 92.7C134.8 86.2 190.6 76.3 223.3 71.2M81.6 96.8C109.9 91.9 135.2 91.0 221.1 76.5M81.8 99.3C117.5 93.4 150.8 89.0 218.3 76.0M82.7 104.8C135.9 89.3 183.1 87.9 220.3 81.2M89.1 99.7C122.7 92.0 160.3 87.2 216.3 78.8M93.5 106.5C141.2 100.2 176.6 86.3 215.1 87.6M94.3 106.8C137.1 95.4 182.8 89.5 213.9 87.5M103.4 111.7C141.9 101.8 179.5 102.3 207.0 94.8M103.9 107.7C124.7 104.7 149.7 103.4 213.3 90.8M106.6 108.5C136.6 109.6 160.1 108.7 209.0 100.4M110.3 113.5C146.3 104.3 183.6 98.6 208.5 96.5M116.9 114.0C140.3 114.4 163.3 110.6 198.9 102.1M120.3 116.4C150.9 111.3 178.4 106.9 200.2 104.1M133.7 118.8C149.4 122.1 162.0 111.7 193.3 107.8M132.9 118.2C158.1 112.3 179.6 108.1 194.1 109.6M149.3 124.2C155.5 122.5 173.0 113.4 181.3 118.1M152.0 122.3C154.1 118.0 162.6 117.7 182.2 117.4" fill="none" stroke="#e9ac2c" stroke-width="1.7" stroke-linecap="round" stroke-linejoin="round" /><path d="M68.9 80.8C68.6 75.0 71.3 67.4 75.6 59.7C79.8 52.1 86.2 41.9 94.5 34.8C102.8 27.6 113.4 21.2 125.3 17.0C137.2 12.8 151.9 11.1 165.8 9.6C179.7 8.0 198.5 7.0 208.7 7.6C218.9 8.2 222.7 9.8 226.9 13.2C231.2 16.5 233.7 21.6 234.5 27.7C235.2 33.8 233.9 41.9 231.6 49.7C229.4 57.5 225.4 66.4 221.0 74.6C216.6 82.8 211.4 92.1 205.1 98.8C198.9 105.5 191.4 110.9 183.7 114.6C176.0 118.4 168.4 120.6 159.1 121.1C149.9 121.7 138.8 120.2 128.4 117.9C118.1 115.6 105.5 111.1 97.1 107.3C88.6 103.5 82.3 99.4 77.6 95.0C72.9 90.5 69.3 86.7 68.9 80.8C68.6 75.0 71.3 67.4 75.6 59.7C79.8 52.1 86.2 41.9 94.5 34.8M68.4 80.4C68.3 74.7 72.3 67.9 76.5 60.1C80.7 52.3 85.8 41.1 93.7 33.8C101.6 26.6 112.3 20.5 124.1 16.6C135.9 12.8 150.2 12.1 164.4 10.6C178.7 9.1 199.2 7.3 209.5 7.8C219.8 8.3 222.0 10.0 226.2 13.6C230.5 17.1 234.3 22.9 235.2 29.0C236.0 35.2 233.7 43.0 231.4 50.6C229.2 58.3 225.9 66.8 221.6 75.0C217.3 83.2 212.2 93.0 205.9 99.8C199.6 106.6 191.7 112.3 183.8 115.8C175.9 119.3 167.6 120.5 158.3 120.9C149.0 121.2 138.0 120.4 127.9 117.9C117.8 115.5 106.4 110.2 97.9 106.3C89.4 102.4 81.8 99.0 76.9 94.7C72.0 90.3 68.5 86.2 68.4 80.4C68.3 74.7 72.3 67.9 76.5 60.1C80.7 52.3 85.8 41.1 93.7 33.8" fill="none" stroke="#a52a2a" stroke-width="2.1" stroke-linecap="round" stroke-linejoin="round" /><path d="M12.9 178.0C21.3 175.6 20.3 156.6 25.9 141.5M13.9 180.0C19.1 171.5 21.6 160.5 26.9 137.7M16.3 205.5C27.1 174.7 30.8 156.9 35.1 133.1M17.8 202.3C21.3 179.1 28.6 153.0 33.6 130.5M15.5 212.4C26.6 181.9 34.3 157.1 45.8 123.0M22.5 215.1C25.6 187.4 34.5 161.0 39.1 122.8M21.5 227.2C34.4 182.7 46.3 141.1 46.0 122.2M25.0 225.6C33.6 184.0 41.2 144.8 47.8 118.2M25.8 234.3C34.3 192.4 46.5 149.9 55.7 115.2M27.7 232.2C35.8 200.4 46.0 171.5 56.4 115.1M34.2 239.6C47.2 195.4 50.3 149.4 57.8 119.0M32.6 239.8C39.4 190.9 51.1 147.4 62.2 117.2M35.4 242.3C42.7 206.9 49.2 179.7 65.0 110.0M38.4 244.2C45.0 209.1 52.1 169.5 65.6 115.8M40.7 248.9C52.2 194.0 64.8 137.1 74.9 113.8M39.6 249.4C54.5 203.4 65.8 157.9 72.6 112.9M46.9 253.5C60.0 221.0 64.2 182.8 80.9 109.0M44.6 253.6C52.0 217.9 62.6 175.7 76.8 111.4M49.0 260.5C55.6 222.6 64.3 186.1 80.7 115.4M50.4 260.2C58.0 214.6 71.8 164.4 84.6 112.4M55.0 260.2C58.1 223.9 76.2 186.7 85.9 111.2M55.9 261.9C61.5 234.6 69.8 205.2 87.3 111.5M60.2 265.6C74.9 211.9 91.0 162.6 92.0 113.0M58.6 267.5C73.1 212.3 88.7 156.2 96.0 114.2M64.9 269.8C78.1 228.5 88.3 190.1 99.8 118.4M62.8 270.2C72.2 236.7 82.3 205.0 100.8 112.3M71.2 274.7C80.5 240.5 93.0 201.5 106.8 115.8M70.6 274.5C76.8 227.4 88.7 184.4 106.5 114.7M78.9 271.5C87.2 212.8 106.1 147.7 113.4 119.3M76.5 272.6C85.1 237.4 94.4 201.0 110.6 114.8M80.0 273.6C89.8 219.6 102.3 165.5 121.2 112.5M80.5 278.2C95.9 220.3 108.6 164.2 118.9 114.9M85.3 278.3C99.8 222.4 118.5 155.4 118.7 120.7M87.0 278.9C99.1 234.2 110.7 189.8 123.0 117.5M94.8 286.2C100.7 250.5 108.8 211.0 132.0 117.2M89.8 283.4C102.8 219.2 116.7 157.1 128.0 117.2M95.2 281.4C104.0 226.7 124.9 177.8 131.4 115.9M97.5 283.6C106.1 223.2 119.3 161.1 133.5 118.8M105.6 286.1C116.0 223.3 139.3 157.6 137.1 115.4M103.0 286.6C115.8 230.3 126.4 180.6 138.4 117.9M108.5 288.9C126.3 216.8 138.5 155.0 141.3 122.5M107.1 286.0C124.3 224.2 135.7 166.5 143.9 121.6M109.9 282.4C130.8 224.0 147.2 163.6 152.4 125.9M112.2 285.8C126.3 251.9 134.3 212.0 150.4 124.4M118.6 290.6C128.4 247.5 138.4 202.6 152.1 123.7M118.8 287.7C131.0 241.3 137.0 199.9 158.0 124.9M125.2 284.3C128.0 245.1 145.4 203.4 161.9 120.7M124.5 285.8C136.2 239.1 146.3 193.8 159.6 125.1M130.3 284.7C147.8 231.4 151.7 173.9 170.3 130.6M128.4 285.6C142.7 225.7 156.4 167.4 167.0 124.7M137.4 287.6C147.3 245.8 150.6 200.6 176.4 133.4M134.9 284.0C150.1 233.1 159.8 177.9 173.2 127.9M142.8 284.0C155.7 231.6 170.5 170.4 173.6 133.6M142.0 286.8C148.5 249.6 159.1 212.0 176.4 130.5M151.6 282.9C155.6 251.5 163.1 222.4 177.8 133.8M147.0 284.5C155.5 242.7 165.8 198.6 184.6 134.3M157.3 278.3C164.0 234.0 172.0 189.1 183.9 133.8M152.0 283.2C166.3 227.1 177.6 172.7 185.4 138.5M161.5 277.6C171.8 243.7 177.9 203.4 193.6 144.1M161.8 280.3C173.0 232.8 182.8 183.7 194.5 141.1M161.5 278.9C170.8 249.5 181.5 219.8 200.0 146.6M165.8 277.3C173.3 246.0 179.7 210.3 198.8 147.6M173.9 279.7C180.3 243.3 181.8 216.4 201.0 148.0M172.6 276.2C183.4 242.5 190.4 204.5 203.2 151.6M177.5 272.8C182.1 232.0 200.3 195.3 203.2 152.8M178.1 275.1C185.6 249.1 191.3 223.4 205.2 155.1M184.0 273.5C190.7 243.0 199.7 215.5 208.9 165.3M186.1 274.9C191.4 237.6 201.7 199.0 209.9 162.0M194.6 275.1C202.0 234.0 207.5 197.0 218.5 170.2M189.1 271.9C197.1 241.5 206.2 213.9 216.6 166.9M197.7 273.1C205.4 244.8 211.6 219.9 219.3 175.3M199.7 271.0C203.5 230.2 212.6 195.2 220.0 178.2M203.1 268.6C210.6 238.0 220.2 205.4 219.0 185.8M205.2 266.8C212.4 240.2 218.4 212.2 221.3 181.3M209.8 261.1C217.5 241.2 215.1 220.2 228.8 195.1M210.0 262.6C216.3 239.9 221.5 213.6 225.4 188.4M212.2 254.4C226.3 239.2 232.1 207.8 232.5 200.2M218.5 257.9C221.9 236.9 228.7 212.5 229.3 196.1M228.2 253.9C225.0 238.6 233.3 220.0 239.1 207.3M226.1 252.2C226.8 236.5 229.0 221.5 234.9 207.3M231.1 249.0C232.1 241.8 232.5 231.1 242.7 215.6M232.6 246.0C231.6 238.6 237.5 229.6 239.9 214.6" fill="none" stroke="#4269d0" stroke-width="2.0" stroke-linecap="round" stroke-linejoin="round" /><path d="M16.0 186.2C16.3 175.4 17.9 159.2 21.6 149.1C25.4 139.0 30.4 131.4 38.4 125.5C46.5 119.7 58.1 115.6 69.9 113.7C81.8 111.8 97.0 113.1 109.8 114.4C122.6 115.6 135.3 118.4 146.6 121.3C157.8 124.2 168.0 126.8 177.3 131.8C186.6 136.9 195.0 143.5 202.3 151.6C209.7 159.7 215.8 170.5 221.4 180.3C227.0 190.1 233.2 201.7 236.2 210.4C239.2 219.1 240.8 225.9 239.3 232.7C237.7 239.5 232.4 246.0 226.8 251.3C221.3 256.6 214.2 260.3 206.0 264.5C197.9 268.6 188.8 272.6 177.9 276.0C167.0 279.5 153.1 283.8 140.7 285.3C128.2 286.7 115.0 286.9 103.1 284.6C91.3 282.4 78.5 275.7 69.9 271.7C61.2 267.7 57.6 266.2 51.3 260.7C45.0 255.2 37.4 246.5 32.1 238.6C26.8 230.8 22.3 222.3 19.6 213.6C16.9 204.8 15.6 196.9 16.0 186.2C16.3 175.4 17.9 159.2 21.6 149.1C25.4 139.0 30.4 131.4 38.4 125.5M16.8 185.2C16.9 174.5 17.2 159.7 20.8 149.9C24.4 140.0 30.0 131.9 38.1 125.9C46.3 119.9 57.6 115.4 69.6 113.7C81.6 112.0 97.5 114.3 110.3 115.5C123.1 116.6 134.9 117.9 146.3 120.7C157.7 123.6 169.3 127.6 178.7 132.7C188.0 137.9 195.3 143.6 202.3 151.6C209.3 159.5 215.2 170.8 220.8 180.5C226.4 190.2 232.9 201.3 235.9 209.9C238.9 218.4 240.1 225.1 238.8 231.9C237.4 238.6 233.6 244.7 228.0 250.3C222.3 255.9 213.0 261.0 204.8 265.4C196.5 269.8 189.0 273.3 178.4 276.7C167.9 280.1 153.7 284.4 141.3 285.9C128.9 287.5 116.1 288.2 104.1 286.0C92.1 283.8 78.3 277.2 69.3 272.8C60.3 268.5 56.0 265.5 49.9 259.8C43.9 254.1 38.1 246.1 33.1 238.5C28.1 230.9 22.6 223.2 19.9 214.3C17.1 205.4 16.6 195.9 16.8 185.2C16.9 174.5 17.2 159.7 20.8 149.9C24.4 140.0 30.0 131.9 38.1 125.9" fill="none" stroke="#a52a2a" stroke-width="2.1" stroke-linecap="round" stroke-linejoin="round" /><path d="M360.4 13.4C367.8 12.7 377.6 17.6 380.7 33.0M362.8 8.6C366.4 13.7 371.1 19.8 382.9 29.6M353.6 6.8C358.7 14.4 373.4 23.4 392.9 42.5M347.3 6.3C365.4 19.4 378.6 34.6 388.2 44.3M336.7 1.5C361.4 22.9 385.9 46.5 395.5 57.1M339.9 2.9C355.2 19.4 371.8 33.9 391.7 54.5M325.0 -3.0C354.3 25.9 379.5 43.9 396.8 69.3M328.6 2.3C351.0 23.4 376.2 48.9 392.6 65.0M317.6 -0.7C335.5 20.5 356.8 39.5 395.6 77.0M320.6 -0.9C346.1 25.4 371.8 50.3 395.6 74.5M314.4 4.5C332.3 20.7 349.4 37.2 395.9 81.8M308.4 1.8C338.2 30.7 370.6 56.5 396.0 80.9M298.3 -2.0C321.6 23.0 345.9 51.5 390.2 93.0M301.4 3.0C327.8 26.1 352.3 51.5 395.7 92.1M297.2 0.0C321.2 24.4 346.6 52.0 395.0 100.7M296.4 3.8C322.5 31.9 352.2 55.5 393.2 99.0M289.4 6.7C324.1 42.6 362.8 80.5 397.4 103.1M285.8 4.7C326.4 39.9 366.5 79.1 393.1 104.9M284.9 3.0C314.6 36.5 351.1 74.5 388.8 112.1M280.2 5.9C314.4 39.0 342.6 70.1 393.4 115.6M276.7 10.8C302.3 37.9 330.5 63.1 391.3 121.9M276.3 9.3C319.8 53.4 365.6 97.9 391.8 123.2M268.5 12.6C305.7 47.9 344.8 86.0 388.3 127.1M268.4 11.9C310.2 56.3 351.6 96.4 390.2 130.5M267.9 14.2C294.9 50.1 325.2 78.1 388.4 138.8M262.2 18.0C292.7 45.0 323.0 76.9 388.4 135.7M258.0 23.2C289.9 46.5 313.8 77.0 382.3 144.5M258.0 22.4C302.0 66.0 344.3 108.3 384.4 141.1M250.0 25.1C292.2 67.1 335.6 102.3 378.3 147.4M251.4 22.1C285.8 55.2 319.8 86.4 383.0 149.5M245.7 25.9C280.1 49.1 306.8 80.9 373.7 150.5M246.6 26.0C287.4 68.7 323.8 106.8 379.9 153.4M244.6 31.2C280.2 64.1 319.3 106.6 375.2 158.9M246.5 33.4C283.5 72.7 322.5 114.5 375.7 159.7M237.7 33.3C278.7 79.5 319.3 116.7 373.2 158.9M239.6 36.2C273.8 70.9 306.7 103.9 371.5 161.1M240.4 40.0C266.0 73.0 289.5 100.9 362.0 167.4M235.0 41.3C282.1 93.5 333.6 141.5 366.5 167.5M231.0 49.6C265.3 77.0 300.9 113.0 358.4 167.3M235.7 46.0C281.3 92.7 331.3 141.6 359.3 173.0M227.8 56.3C254.4 80.5 291.1 108.2 357.6 175.7M228.3 55.1C260.9 79.2 291.8 111.4 359.7 177.9M223.3 59.3C272.0 99.2 323.8 150.3 349.6 182.7M228.2 60.4C255.9 86.0 280.5 115.0 354.8 179.9M221.3 69.9C262.5 105.0 301.7 136.3 352.8 185.8M226.4 65.6C262.4 101.1 294.3 135.9 348.3 188.9M224.0 74.9C262.4 107.9 295.6 138.2 345.1 191.7M220.9 70.0C255.2 109.5 291.6 142.6 343.9 191.6M219.8 79.6C256.3 111.6 281.6 142.5 343.4 194.0M217.9 75.7C264.8 118.0 305.7 162.4 338.9 193.4M221.6 83.6C243.4 119.1 277.2 150.4 335.3 196.4M216.0 85.1C245.9 115.1 271.1 143.0 335.2 198.4M217.3 95.7C256.5 132.2 301.4 181.9 330.0 206.0M214.4 91.0C248.4 128.0 279.1 157.8 329.3 202.3M209.1 99.9C246.5 118.9 268.7 144.1 324.2 200.8M214.4 99.6C238.9 127.0 266.1 149.6 326.6 206.9M210.3 106.0C240.5 131.5 264.4 162.7 319.8 209.1M211.5 106.3C253.9 142.4 289.3 178.8 316.4 209.8M216.3 113.6C241.4 136.4 262.4 164.2 312.8 209.2M211.7 111.7C238.0 137.6 260.3 158.1 314.0 212.7M211.2 118.6C227.1 137.6 248.7 156.2 301.1 214.0M213.1 123.2C239.2 151.0 268.8 175.8 305.5 210.6M212.8 129.4C243.2 158.5 276.3 189.8 293.9 217.3M214.5 129.6C231.5 148.3 250.3 165.9 299.6 213.1M211.0 140.0C241.9 166.0 269.9 189.5 286.6 219.5M214.9 139.3C245.7 168.1 272.3 197.8 290.6 216.8M214.5 148.3C242.9 169.9 255.1 188.0 279.4 214.7M217.0 149.3C230.0 168.4 246.8 182.1 280.1 215.8M218.1 160.8C240.0 186.5 262.3 198.9 276.7 214.3M219.5 160.6C229.2 171.8 242.9 186.9 275.3 217.2M222.3 175.4C236.8 183.5 243.5 194.4 258.6 208.9M225.5 176.3C240.1 190.2 251.7 203.6 258.6 213.7" fill="none" stroke="#ee7660" stroke-width="2.0" stroke-linecap="round" stroke-linejoin="round" /><path d="M211.6 123.6C211.0 112.2 212.5 103.6 215.2 92.9C217.9 82.1 222.0 69.9 227.7 59.2C233.3 48.6 240.2 37.3 248.9 28.8C257.5 20.3 268.8 13.0 279.6 8.4C290.4 3.9 303.2 2.1 313.5 1.4C323.8 0.6 333.1 2.3 341.4 3.9C349.7 5.5 356.4 7.2 363.3 10.7C370.1 14.2 377.3 15.6 382.4 24.8C387.6 34.0 392.6 50.5 394.1 65.9C395.5 81.4 393.7 103.1 391.1 117.5C388.5 131.8 383.4 143.0 378.5 151.9C373.6 160.8 366.7 164.6 361.7 170.7C356.6 176.8 354.1 183.1 348.1 188.7C342.1 194.3 333.9 200.1 325.7 204.3C317.5 208.4 308.0 211.6 298.9 213.6C289.8 215.5 279.2 217.1 270.8 215.7C262.4 214.3 255.4 210.0 248.7 205.1C242.0 200.2 235.7 193.8 230.7 186.5C225.6 179.1 221.6 171.8 218.5 161.3C215.3 150.8 212.1 135.0 211.6 123.6C211.0 112.2 212.5 103.6 215.2 92.9C217.9 82.1 222.0 69.9 227.7 59.2M210.8 125.0C210.1 113.5 211.2 103.5 213.8 92.5C216.5 81.5 221.0 69.8 226.8 58.9C232.7 48.1 240.2 35.8 248.9 27.4C257.7 18.9 268.5 12.9 279.2 8.4C290.0 4.0 302.8 1.4 313.2 0.6C323.7 -0.2 333.6 1.8 342.1 3.6C350.5 5.3 357.5 7.7 364.0 11.1C370.5 14.6 375.7 15.3 380.9 24.3C386.1 33.3 393.6 49.7 395.3 65.2C397.0 80.6 393.8 102.6 391.2 117.1C388.6 131.6 384.5 143.0 379.6 152.0C374.8 161.0 367.1 165.1 361.9 171.1C356.7 177.1 354.2 182.5 348.4 188.2C342.5 193.9 335.2 200.8 327.0 205.3C318.7 209.7 308.1 213.0 298.8 214.6C289.5 216.3 279.6 216.8 271.4 215.1C263.2 213.4 256.3 209.2 249.5 204.5C242.8 199.7 236.3 193.4 231.0 186.3C225.8 179.2 221.6 171.9 218.2 161.7C214.9 151.5 211.5 136.5 210.8 125.0C210.1 113.5 211.2 103.5 213.8 92.5C216.5 81.5 221.0 69.8 226.8 58.9" fill="none" stroke="#a52a2a" stroke-width="2.1" stroke-linecap="round" stroke-linejoin="round" /></svg></div>
<h2 style="left:808px;top:847.5px;letter-spacing:0.30px">dodge</h2>
<div class="card" style="left:808px;top:892px"><svg width="360" height="270" viewBox="0 0 360 270"><path d="M114.3 258.9A4 5.2 -13 1 1 116.9 269.1A4 5.2 -13 1 1 115.8 258.5M117.2 268.5A4.2 4.8 -10 1 1 113.9 259.4A4.2 4.8 -10 1 1 115.1 269M138.3 261.3A4.3 4.7 -19 1 1 131.2 266.2A4.3 4.7 -19 1 1 139.1 262.7M133 268.7A4.4 4.8 -24 1 1 136.4 260.1A4.4 4.8 -24 1 1 131.4 268M106.2 258A3.9 5.2 6 1 1 112.9 252A3.9 5.2 6 1 1 106 256.6M113.7 251.2A4.4 5.1 17 1 1 107.4 259.1A4.4 5.1 17 1 1 114.9 253.2M144.9 254.6A4.1 5.2 11 1 1 136.6 256.2A4.1 5.2 11 1 1 144.5 257M143.5 252.4A4 5.1 8 1 1 136.7 258.5A4 5.1 8 1 1 144 253.6M153.8 268.5A3.9 5.2 12 1 1 151.5 259A3.9 5.2 12 1 1 151.5 268.9M153.3 259.7A4.1 4.7 -7 1 1 150.2 268.4A4.1 4.7 -7 1 1 154.6 261.2M131.7 253.1A4 5 11 1 1 124.4 258.4A4 5 11 1 1 132.4 254.4M129.4 259.4A4.3 5.2 1 1 1 125.8 250A4.3 5.2 1 1 1 128.4 259.7M108.6 249.1A4.3 4.6 12 1 1 111.3 240.3A4.3 4.6 12 1 1 106.7 248.1M113.7 244.8A4.6 4.5 10 1 1 104.5 244.9A4.6 4.5 10 1 1 113.8 246.7M55.8 259.7A4.1 4.7 10 1 1 54 268.9A4.1 4.7 10 1 1 56.7 260.1M59 261.7A4.1 4.5 24 1 1 51.7 266.6A4.1 4.5 24 1 1 59.6 263.6M75.5 265.7A4.3 4.7 -17 1 1 82.9 261.4A4.3 4.7 -17 1 1 75.1 263.1M74.5 262.2A4 5 -19 1 1 82.7 264.2A4 5 -19 1 1 74.9 259.9M156.2 251.4A4.4 4.8 -10 1 1 160.5 259.8A4.4 4.8 -10 1 1 157.2 251.1M154.8 254.7A4.4 4.7 -6 1 1 163.4 256.8A4.4 4.7 -6 1 1 155.7 252M151.9 242.7A4.1 4.6 21 1 1 152.6 251.6A4.1 4.6 21 1 1 153.3 242.2M156.2 245.6A4.4 5.1 19 1 1 147.5 248.9A4.4 5.1 19 1 1 156.3 247.2M93.6 268A4.3 5.2 12 1 1 90.2 258.8A4.3 5.2 12 1 1 91.7 268.9M93.2 268.5A4 5.3 7 1 1 88.9 260A4 5.3 7 1 1 91.2 269.4M160.8 261.4A4.5 4.7 -33 1 1 168.3 267A4.5 4.7 -33 1 1 161.4 260.4M160.4 263.3A3.9 5.2 -32 1 1 169.1 265.6A3.9 5.2 -32 1 1 160.6 261.7M112.7 230.3A4.4 4.8 -6 1 1 107.8 238.2A4.4 4.8 -6 1 1 113.9 230.7M112.1 231A4 4.7 -4 1 1 106.8 237.9A4 4.7 -4 1 1 113.4 233.1M51.7 249.7A4.4 4.8 -11 1 1 58 256.6A4.4 4.8 -11 1 1 52.9 248.7M59 255.6A4 4.9 7 1 1 51.6 252.5A4 4.9 7 1 1 57.9 257.2M148.9 234.2A4.1 4.8 -2 1 1 144.6 242.3A4.1 4.8 -2 1 1 149.7 235.5M149.2 233.6A4.3 5.3 8 1 1 145 243A4.3 5.3 8 1 1 150.4 234.6M156 241.1A4.1 4.6 -1 1 1 161.9 234.8A4.1 4.6 -1 1 1 154.9 238.9M156 234.3A4.5 4.8 0 1 1 160.3 242.7A4.5 4.8 0 1 1 157.6 233.3M75.2 254.1A4.6 5.1 7 1 1 84.3 251.9A4.6 5.1 7 1 1 75.7 252.1M81.7 249.8A4.4 5 1 1 1 76.9 258.3A4.4 5 1 1 1 83 250.5M50.9 241.4A3.9 5.2 1 1 1 58.4 244.3A3.9 5.2 1 1 1 51.6 239M58.6 242A4.5 5.2 -2 1 1 49.7 243.7A4.5 5.2 -2 1 1 58.8 243.9M137.3 250.5A4.5 5.2 20 1 1 131 243.8A4.5 5.2 20 1 1 135 252.4M130.5 246.6A3.9 5.2 26 1 1 138.7 246.6A3.9 5.2 26 1 1 131.2 244.7M179.7 267A4.1 4.4 -15 1 1 173.3 261.1A4.1 4.4 -15 1 1 177.9 268.8M171.9 262A4.5 5.2 -25 1 1 180.7 266A4.5 5.2 -25 1 1 173.4 260.6M103.9 268.7A4.2 4.4 -16 1 1 102.6 259.9A4.2 4.4 -16 1 1 102.9 268.7M107.5 263.6A3.9 4.6 -1 1 1 99.7 262.9A3.9 4.6 -1 1 1 107 265M118.6 222.8A4.2 5.3 -30 1 1 112.9 229.1A4.2 5.3 -30 1 1 119.1 224.3M111.9 227.5A4.1 4.5 -17 1 1 119.3 223.9A4.1 4.5 -17 1 1 111.4 225.2M142.7 225.9A4.5 4.7 -13 1 1 137.1 233.1A4.5 4.7 -13 1 1 144 227.3M136.7 233.6A4.6 5.3 -18 1 1 143.4 227.2A4.6 5.3 -18 1 1 136.2 232.5M116 220.6A4.1 4.9 9 1 1 116.5 210.8A4.1 4.9 9 1 1 114.6 220.1M114.5 220.3A4.1 5.2 3 1 1 117.9 210.7A4.1 5.2 3 1 1 113.1 218.3M49.5 238.9A4.4 4.7 -11 1 1 47.2 229.8A4.4 4.7 -11 1 1 47.3 238.6M46.1 230A4.3 5.1 -17 1 1 52.1 238A4.3 5.1 -17 1 1 47.8 229.1M167.4 257.9A4.2 4.9 25 1 1 174.9 252.1A4.2 4.9 25 1 1 166.9 256.7M167.6 258.1A4.3 4.5 25 1 1 173.3 251.2A4.3 4.5 25 1 1 166.7 257.2M106.4 208.7A4.3 5.2 -15 1 1 114.2 204.9A4.3 5.2 -15 1 1 106.5 206.1M106.1 207.6A4.2 4.9 -21 1 1 114.6 207.2A4.2 4.9 -21 1 1 105.9 206.4M105.9 199.2A4.5 4.8 -8 1 1 113.2 193.6A4.5 4.8 -8 1 1 104.9 197.6M107.2 199.5A4 4.9 -5 1 1 111.9 191.8A4 4.9 -5 1 1 106 197.9M142 214.5A4.4 5 -10 1 1 138.6 223.5A4.4 5 -10 1 1 142.7 215.5M142.5 214.8A4 5 -19 1 1 139.2 223.1A4 5 -19 1 1 143.8 216.8M86.9 253A4.6 5 -36 1 1 96.3 254.3A4.6 5 -36 1 1 87.4 252M88.6 249.7A4.3 4.8 -33 1 1 95 256.8A4.3 4.8 -33 1 1 90.1 248.6M91.4 247.2A3.9 4.9 -12 1 1 91.2 237.5A3.9 4.9 -12 1 1 89.6 246.8M91 247.9A4.3 4.7 -14 1 1 93.6 239A4.3 4.7 -14 1 1 89.4 247.5M56.9 236.6A4.2 4.5 5 1 1 64.5 232.5A4.2 4.5 5 1 1 56.9 235.4M65 234.9A4.2 4.7 11 1 1 56.7 234.5A4.2 4.7 11 1 1 65.2 236.2M141.1 204.4A4.4 4.8 -9 1 1 138.7 213.5A4.4 4.8 -9 1 1 142.2 204.9M143 205.4A4.6 5.1 -10 1 1 137.2 213.1A4.6 5.1 -10 1 1 144.1 206M159.3 222.3A4.1 4.9 2 1 1 158.5 232.1A4.1 4.9 2 1 1 160.6 223M157.5 224.1A4.2 4.5 9 1 1 159.5 232.7A4.2 4.5 9 1 1 158.7 223.8M137.6 195.4A3.9 4.6 2 1 1 143.7 201.1A3.9 4.6 2 1 1 138.8 193.7M139.5 203.4A4 5.2 -10 1 1 141.8 193.8A4 5.2 -10 1 1 137.3 201.7M77.3 242.1A4.6 5.1 24 1 1 68.7 246.9A4.6 5.1 24 1 1 77.1 244.7M70.7 247.9A4.3 5.2 15 1 1 77.2 240.3A4.3 5.2 15 1 1 69.7 245.6M74.9 229.8A3.9 5.1 -5 1 1 71.8 239A3.9 5.1 -5 1 1 75.4 230.7M76.7 233A4.3 4.8 2 1 1 68.3 235A4.3 4.8 2 1 1 76.4 234.8M167 243.4A4.2 5.1 -10 1 1 161.6 250.7A4.2 5.1 -10 1 1 167.9 245.7M166.8 243.3A4 4.9 2 1 1 162.3 251.6A4 4.9 2 1 1 167.5 243.9M119.8 242.5A4.6 4.5 17 1 1 124.1 250.5A4.6 4.5 17 1 1 121.6 242.4M120.8 243.2A3.9 4.4 -4 1 1 123.8 251.5A3.9 4.4 -4 1 1 121.9 243.1M118 183.2A4.3 4.9 26 1 1 113.3 191.8A4.3 4.9 26 1 1 119.6 184.6M112.6 189.7A4.2 4.8 25 1 1 120.6 185.3A4.2 4.8 25 1 1 112.4 187.3M95.5 231.7A4.3 4.8 23 1 1 86.7 232.9A4.3 4.8 23 1 1 94.7 234.1M97 232.6A4.6 5.3 28 1 1 87.5 232.3A4.6 5.3 28 1 1 96.6 234.3M137.3 184.8A4.5 5.1 25 1 1 143.7 191.2A4.5 5.1 25 1 1 138.8 183.4M139.6 192A4.1 5.2 30 1 1 139.9 182.3A4.1 5.2 30 1 1 137.6 191.8M77.5 225.5A4.6 4.5 14 1 1 69.1 221.6A4.6 4.5 14 1 1 75.9 226.8M70 227.4A4.4 4.5 17 1 1 76.5 221.2A4.4 4.5 17 1 1 69.1 225.8M88 220.6A4.4 4.7 -7 1 1 82 227.2A4.4 4.7 -7 1 1 89.3 222.5M83.7 219.5A4.3 4.9 5 1 1 86 228.8A4.3 4.9 5 1 1 85.5 219.4M97.5 228.5A4.2 5 33 1 1 97.6 219.1A4.2 5 33 1 1 95.7 228.9M94.5 227.1A4.2 4.6 19 1 1 99.7 219.5A4.2 4.6 19 1 1 93.2 225.7M70.4 260.1A4.5 4.7 12 1 1 64.7 267.4A4.5 4.7 12 1 1 71.7 262.3M68.9 258.7A4.2 4.5 15 1 1 66.9 267.4A4.2 4.5 15 1 1 70.8 259.4M49.5 219.3A4.2 4.6 19 1 1 48.5 228.4A4.2 4.6 19 1 1 51.1 219.5M51.3 220.6A4.5 5 13 1 1 45.3 228.3A4.5 5 13 1 1 52.2 223.2M161.5 222.6A4.3 4.7 11 1 1 168.3 216.5A4.3 4.7 11 1 1 161.2 221.4M161.1 219A4.2 5.1 7 1 1 169.4 220A4.2 5.1 7 1 1 161.9 216.5M44.8 213.8A4.2 4.9 -1 1 1 53 211.9A4.2 4.9 -1 1 1 45.4 211.2M52.7 215.1A4.5 4.8 -12 1 1 44.2 211.3A4.5 4.8 -12 1 1 51.1 216.6M88.4 219.2A4.1 5.3 28 1 1 95.3 211.5A4.1 5.3 28 1 1 87.9 217.2M93.1 209.9A4 5 9 1 1 90.6 219.6A4 5 9 1 1 94.1 210.8M131 234.4A4.3 5.1 1 1 1 125.3 242.1A4.3 5.1 1 1 1 132 236.2M124.8 236.1A4.3 4.5 -18 1 1 133 239.4A4.3 4.5 -18 1 1 126.2 234.5M148.7 220.8A4.6 4.5 17 1 1 156.7 216.5A4.6 4.5 17 1 1 148.2 219M148.1 220.2A4 5.2 21 1 1 156.4 216.7A4 5.2 21 1 1 147.7 219.1M120.1 177.9A4.4 4.6 -8 1 1 111.5 176.2A4.4 4.6 -8 1 1 119.9 179.4M117.7 181.2A4.4 4.9 -1 1 1 114.8 171.9A4.4 4.9 -1 1 1 116.1 181.1M82.7 212.1A4.3 4.7 -10 1 1 76.1 217.7A4.3 4.7 -10 1 1 83.6 214.7M78.9 210.5A3.9 5.1 -4 1 1 81.2 220.4A3.9 5.1 -4 1 1 81.2 210.5M142.5 178.5A4.1 5 0 1 1 150.7 180.1A4.1 5 0 1 1 143.5 176.9M149.3 176.4A4.2 4.6 1 1 1 142.3 181.4A4.2 4.6 1 1 1 149.8 177.5M106.1 166.6A4.2 5.2 13 1 1 113.3 171.4A4.2 5.2 13 1 1 107.7 164.5M106.6 166A4.3 5.3 15 1 1 113.5 171.4A4.3 5.3 15 1 1 107.6 164.7M107.9 213.1A4.6 5.3 -15 1 1 99.4 216.8A4.6 5.3 -15 1 1 108.1 214.3M107.2 218.9A4.4 4.8 -12 1 1 100.2 212.8A4.4 4.8 -12 1 1 106.4 220.1M112 157.6A3.9 4.7 -24 1 1 119.6 161.7A3.9 4.7 -24 1 1 113 155.4M118.1 155.6A4.2 4.8 -22 1 1 113.3 163.1A4.2 4.8 -22 1 1 119.6 157.3M91.1 209.3A4.2 5.1 -17 1 1 91 199.3A4.2 5.1 -17 1 1 90 209.2M86.8 205.4A4.3 4.6 -14 1 1 94.9 202.6A4.3 4.6 -14 1 1 87 203.4M153.8 210.4A4.3 4.6 -13 1 1 162.5 210.3A4.3 4.6 -13 1 1 154.3 208.7M159.2 206.5A4.6 5.1 -17 1 1 157 216.2A4.6 5.1 -17 1 1 161.2 207.6M171.3 234A4.4 4.5 -24 1 1 169.7 242.9A4.4 4.5 -24 1 1 173.6 235.3M166.6 237.2A3.9 4.4 -15 1 1 174.5 238A3.9 4.4 -15 1 1 166.8 235.7M110.3 146.6A4 4.7 14 1 1 109 155.8A4 4.7 14 1 1 112.3 147.8M107.1 147.8A4.3 4.4 19 1 1 112.8 154.3A4.3 4.4 19 1 1 108 146.8M113.9 147.5A4.1 4.9 0 1 1 118.4 139.3A4.1 4.9 0 1 1 112.7 146.1M113.1 147.4A4.2 5 10 1 1 118.5 139.5A4.2 5 10 1 1 112.6 146M107 137.7A4.2 5.1 -7 1 1 112.6 130.5A4.2 5.1 -7 1 1 106 136.6M114.8 132.8A4.6 4.5 0 1 1 106.2 135.9A4.6 4.5 0 1 1 114.8 135.1M34.6 258.9A4.5 5.2 1 1 1 39.4 267.7A4.5 5.2 1 1 1 35.9 258.6M35.6 259.4A4.3 4.5 1 1 1 37.8 268.2A4.3 4.5 1 1 1 37.3 258.8M181.7 245.9A4.4 4.8 19 1 1 172.7 246.5A4.4 4.8 19 1 1 181.2 247.7M179.9 243.5A4.3 5.3 19 1 1 173.2 251.2A4.3 5.3 19 1 1 180.1 244.7M120 202A4.5 4.9 2 1 1 123.2 211.1A4.5 4.9 2 1 1 121.1 201.9M126 209.1A4.1 4.5 -6 1 1 118.5 205.3A4.1 4.5 -6 1 1 125.4 210.4M83 199.9A4.1 4.7 16 1 1 87.5 191.7A4.1 4.7 16 1 1 82.2 198.4M85.8 191.1A4 4.4 4 1 1 84.7 199.9A4 4.4 4 1 1 86.9 190.9M111.4 119.8A4.5 4.8 -10 1 1 108.2 128.7A4.5 4.8 -10 1 1 113.1 121M111.1 128.2A4.4 5 -14 1 1 108.4 118.5A4.4 5 -14 1 1 108.8 128.2M131.2 224.2A4 5.3 6 1 1 124.3 230.2A4 5.3 6 1 1 132.1 226.2M128.5 232.2A4 4.4 0 1 1 126.8 223.5A4 4.4 0 1 1 126.3 232.3M8.3 265.8A4.5 5 -6 1 1 16.6 261.9A4.5 5 -6 1 1 8.5 263.1M14.7 259.2A4.3 4.5 5 1 1 10.6 267.2A4.3 4.5 5 1 1 15.8 259.6M95.7 188.1A3.9 4.5 24 1 1 87.7 187.9A3.9 4.5 24 1 1 95.2 189.3M89.3 183.4A4 5.3 33 1 1 92.7 191.2A4 5.3 33 1 1 91.8 182.1M143 172.7A4.4 5 20 1 1 149.5 165.3A4.4 5 20 1 1 142.2 170.8M142.7 166.5A4.4 5.1 10 1 1 150.7 170.3A4.4 5.1 10 1 1 143.8 165.5M44.1 251A4.4 4.9 -13 1 1 41.7 260.1A4.4 4.9 -13 1 1 45.1 251.5M38.6 252.2A4 5.1 -20 1 1 46.4 257.2A4 5.1 -20 1 1 40 250.1M129.8 221.3A4.5 4.6 -2 1 1 126.9 212.7A4.5 4.6 -2 1 1 128 221.3M125.6 220A4.4 4.6 -3 1 1 131.9 213.5A4.4 4.6 -3 1 1 124.9 218.2M85.2 184.1A4.3 5.3 12 1 1 86.2 173.7A4.3 5.3 12 1 1 83.3 183.1M89.2 176.1A4 5 7 1 1 82.5 181.9A4 5 7 1 1 89.9 177.5M93.6 198.1A4.3 4.9 -16 1 1 101.6 195A4.3 4.9 -16 1 1 93.8 196.8M101.6 193.9A4.4 5.2 -22 1 1 93.3 197A4.4 5.2 -22 1 1 102.4 195.4M61.1 228.5A4.1 4.6 7 1 1 60.5 219.3A4.1 4.6 7 1 1 59.5 227.8M65.2 224A4.4 4.6 15 1 1 56.6 223A4.4 4.6 15 1 1 63.8 226.1M38 242A4.4 5.2 17 1 1 34.3 251.6A4.4 5.2 17 1 1 39.3 242.5M36.3 241.2A4.4 4.9 24 1 1 36.9 250.8A4.4 4.9 24 1 1 37.4 241.2M126 194.3A4.1 4.4 10 1 1 129.9 201.9A4.1 4.4 10 1 1 127.7 193.6M133.1 197A4.4 4.5 -1 1 1 124.6 199.2A4.4 4.5 -1 1 1 132.8 198.5M129.5 179A4.6 4.4 -4 1 1 138.7 178.4A4.6 4.4 -4 1 1 129.7 177.8M129.6 178.3A4.3 5.1 -11 1 1 138.1 180.9A4.3 5.1 -11 1 1 130.3 177.4M150.9 205.9A4.6 4.5 2 1 1 153.4 197.2A4.6 4.5 2 1 1 149.3 205.4M147.8 203.1A4.4 4.8 1 1 1 156.5 202A4.4 4.8 1 1 1 148 200.8M101.9 183.5A4.2 4.7 -19 1 1 105.7 192A4.2 4.7 -19 1 1 104.1 183.2M99.7 189.8A4.2 4.6 -22 1 1 107.2 186A4.2 4.6 -22 1 1 99.6 187.2M90.8 175.5A3.9 4.7 22 1 1 92.5 166.2A3.9 4.7 22 1 1 89.5 175.3M88.2 169.3A4.1 4.8 20 1 1 96.4 170.6A4.1 4.8 20 1 1 88.7 167.1M142.8 156.2A4.3 5 5 1 1 150.5 160.4A4.3 5 5 1 1 143.9 154.6M150.7 157.5A3.9 4.6 19 1 1 142.8 159.7A3.9 4.6 19 1 1 150.7 160.1M26.8 268.3A4.5 4.8 -7 1 1 22.9 259.5A4.5 4.8 -7 1 1 24.5 269.2M20 263.4A3.9 5.1 -5 1 1 27.8 263.8A3.9 5.1 -5 1 1 20 262.3M100.4 174.9A4.3 5 10 1 1 94.4 182.3A4.3 5 10 1 1 101.3 176M93.1 178.5A4.4 4.5 16 1 1 102 178.2A4.4 4.5 16 1 1 93.2 176.1M81.2 159.8A4.5 5.1 -10 1 1 89.7 163.7A4.5 5.1 -10 1 1 81.4 158.6M87.9 166.1A4 4.5 -22 1 1 84.5 157.9A4 4.5 -22 1 1 85.9 166.4M131.3 184.3A4.3 5 -3 1 1 125 191A4.3 5 -3 1 1 132.4 185.2M123.7 187.8A4.3 4.9 7 1 1 132.4 188.8A4.3 4.9 7 1 1 124.5 186.8M88.8 149.6A3.9 4.4 -18 1 1 93.9 156.7A3.9 4.4 -18 1 1 91 149.2M94.7 150.8A4.5 4.7 -13 1 1 87 155.7A4.5 4.7 -13 1 1 95.3 152M155.6 195.5A3.9 5.2 -17 1 1 150.2 186.9A3.9 5.2 -17 1 1 154 195.6M148.6 188.1A4.3 5 -10 1 1 156 193.8A4.3 5 -10 1 1 149.2 186.7M118.9 172A4.3 5.2 13 1 1 125.5 164.7A4.3 5.2 13 1 1 118.3 169.7M122.4 172.9A4.1 5.2 7 1 1 120.6 163A4.1 5.2 7 1 1 121.3 173.4M111.6 108.9A4.4 5 -3 1 1 108.1 118A4.4 5 -3 1 1 112.9 109.3M108 109.7A4.1 5.1 0 1 1 112.8 117.9A4.1 5.1 0 1 1 109.2 109.2M77.3 207.8A3.9 5 14 1 1 70 205.3A3.9 5 14 1 1 76.4 209.7M68.5 205.7A4.4 4.5 28 1 1 77.1 207.3A4.4 4.5 28 1 1 68.8 204.8M91.2 147.7A4.6 4.9 5 1 1 91.4 137.9A4.6 4.9 5 1 1 89.3 146.8M87.4 141.1A4 5.1 1 1 1 94.8 144.8A4 5.1 1 1 1 87.8 139.3M152.9 155.1A4.5 5.2 -3 1 1 153.1 144.6A4.5 5.2 -3 1 1 150.5 154.6M150 154.3A4.3 4.7 7 1 1 154.4 146A4.3 4.7 7 1 1 149.1 153.4M153 135.2A4 4.4 -14 1 1 151.7 143.8A4 4.4 -14 1 1 154 136.1M151.3 142.6A4.1 4.6 -10 1 1 154 134.1A4.1 4.6 -10 1 1 150.1 142M143.4 133.1A4.1 5 -2 1 1 150 127.4A4.1 5 -2 1 1 142.4 131.2M142.5 130.4A3.9 5.1 -18 1 1 150.5 131.6A3.9 5.1 -18 1 1 143 129.3M86.5 139.1A4.4 4.9 -7 1 1 84.6 129.5A4.4 4.9 -7 1 1 84.4 138.4M83.2 139.3A4.6 4.9 0 1 1 87.8 130.9A4.6 4.9 0 1 1 81.2 137.7M112.5 99.4A4.1 4.8 20 1 1 106.9 107.1A4.1 4.8 20 1 1 113.2 100.5M109.5 107.9A4.1 4.9 11 1 1 110 98.2A4.1 4.9 11 1 1 108.6 108M74.8 187.9A4.6 5.3 12 1 1 84 187.9A4.6 5.3 12 1 1 75.3 185.9M79.6 192.5A4.1 4.9 9 1 1 77.7 183.1A4.1 4.9 9 1 1 77.9 193.2M93.6 160.4A4.2 5.3 -16 1 1 102 163.8A4.2 5.3 -16 1 1 94.1 158.4M102.5 161.2A4.2 4.6 -14 1 1 94.3 163A4.2 4.6 -14 1 1 102.7 162.7M99.8 138.1A4.5 4.5 -6 1 1 96.4 129.7A4.5 4.5 -6 1 1 98 138.9M101.1 133.6A4.4 4.7 -14 1 1 92.8 136.5A4.4 4.7 -14 1 1 101.3 136.1M142.2 154.4A4.2 4.9 -1 1 1 138.8 145.3A4.2 4.9 -1 1 1 140.2 155M138.6 154.3A4.1 4.8 3 1 1 140.7 145A4.1 4.8 3 1 1 136.4 153M136.3 140.1A4 5 28 1 1 144.6 137.1A4 5 28 1 1 136 137.7M135.6 141.2A4.5 4.8 34 1 1 143.6 136A4.5 4.8 34 1 1 135.5 140M106.3 89.5A4.3 4.7 -1 1 1 112.8 95.8A4.3 4.7 -1 1 1 107.9 87.8M112.6 95.1A4 4.7 -2 1 1 107 88.1A4 4.7 -2 1 1 111.4 95.6M135.7 120.1A4.5 4.6 -16 1 1 144.5 122.8A4.5 4.6 -16 1 1 136.4 118.4M137.3 119.1A4 5 2 1 1 144 124.5A4 5 2 1 1 138.5 117.5M184 250.5A3.9 4.9 22 1 1 182.3 260A3.9 4.9 22 1 1 185.3 250.3M186.1 259A4.6 5.2 29 1 1 181.3 250.8A4.6 5.2 29 1 1 185.2 259.8M111.8 86.3A4.2 5 22 1 1 107.7 78.3A4.2 5 22 1 1 110.9 86.5M106.6 80.3A3.9 4.7 11 1 1 114.3 82A3.9 4.7 11 1 1 107.6 78.4M113.6 69.3A3.9 4.7 14 1 1 106.1 73.2A3.9 4.7 14 1 1 114.3 71.4M114.4 68.9A4.2 4.7 3 1 1 106.7 72.8A4.2 4.7 3 1 1 114.4 70.3M150.8 112.9A4.4 5.1 -17 1 1 142.1 113.7A4.4 5.1 -17 1 1 151.3 114.7M142.8 117A4.2 4.8 -24 1 1 148.7 110.9A4.2 4.8 -24 1 1 141.4 115.4M88.2 123.6A4.1 4.6 -30 1 1 95.8 128.3A4.1 4.6 -30 1 1 88.8 122M86.8 125.7A4.1 4.6 -17 1 1 95 125.1A4.1 4.6 -17 1 1 87.4 123.7M58.2 202.4A4.4 4.5 -17 1 1 50.7 207.1A4.4 4.5 -17 1 1 58.5 204M53.5 200.1A4.2 4.4 -26 1 1 55.3 208.8A4.2 4.4 -26 1 1 55.1 199.9M87.8 112A4.6 4.8 -1 1 1 94.6 118.5A4.6 4.8 -1 1 1 89.4 110.9M90.9 109.8A4.4 5.1 -1 1 1 92.2 119.9A4.4 5.1 -1 1 1 92.6 110.3M181.7 229.9A4.4 4.5 -10 1 1 173 228.4A4.4 4.5 -10 1 1 181.8 231.1M179.7 225.1A4.6 5.1 -13 1 1 174.2 232.9A4.6 5.1 -13 1 1 180.1 226.1M116.2 67.4A3.9 4.4 -19 1 1 115.4 58.7A3.9 4.4 -19 1 1 115.3 67.3M112.3 59.9A4.4 4.5 -7 1 1 119.4 65.3A4.4 4.5 -7 1 1 114.1 58.7M137.9 109.2A4.6 4.8 1 1 1 142.2 100.7A4.6 4.8 1 1 1 136.8 108.5M140.4 110.2A3.9 4.9 -6 1 1 138.7 100.6A3.9 4.9 -6 1 1 138.6 109.6M129.5 156.1A4.1 5 -13 1 1 126 164.6A4.1 5 -13 1 1 131.3 157.6M128.7 164.5A4.3 4.5 -4 1 1 126.1 156A4.3 4.5 -4 1 1 127.7 165.1M87.3 105.1A4.3 4.7 9 1 1 95.9 104.6A4.3 4.7 9 1 1 87 103.3M95.5 105.4A3.9 5 18 1 1 87.7 104.6A3.9 5 18 1 1 94.9 108M58.6 191.2A4.3 5.3 -18 1 1 52.2 197.4A4.3 5.3 -18 1 1 60 192.9M59.3 194.1A4.6 5.3 -20 1 1 50.2 194.9A4.6 5.3 -20 1 1 59.6 195.6M160 186.8A4 4.5 4 1 1 157.4 178.2A4 4.5 4 1 1 157.9 187M158.6 178.5A4.2 4.5 22 1 1 160.3 187.2A4.2 4.5 22 1 1 159.7 178.7M57.6 216.2A4.5 4.5 0 1 1 64.4 210.4A4.5 4.5 0 1 1 56.8 215.4M57.8 211.7A4.3 4.9 12 1 1 65.5 215.5A4.3 4.9 12 1 1 58.7 211M76.3 193.4A3.9 4.9 -6 1 1 70 198.8A3.9 4.9 -6 1 1 77 194.2M70.1 192.9A4.1 4.8 3 1 1 75.2 200.3A4.1 4.8 3 1 1 71.4 191.5M150.1 99.1A4 4.8 -13 1 1 142.9 94.2A4 4.8 -13 1 1 149.6 100.5M148.4 91.5A4.2 5.3 3 1 1 143.5 100.3A4.2 5.3 3 1 1 149.9 93.6M107.7 144.9A4.5 5 0 1 1 99.7 140.3A4.5 5 0 1 1 106.1 146.6M102.5 146.9A4.1 4.7 4 1 1 105.5 138A4.1 4.7 4 1 1 101 146M113.5 51.8A4.3 4.8 7 1 1 105.8 56.5A4.3 4.8 7 1 1 113.9 53.2M114 55.6A4.3 4.4 -9 1 1 105.5 53.6A4.3 4.4 -9 1 1 112.8 57.6M178.3 239.5A4.6 5.1 -15 1 1 187 236.3A4.6 5.1 -15 1 1 178.5 238.4M182.3 233.1A4.2 4.9 -16 1 1 183.3 242.9A4.2 4.9 -16 1 1 184.4 234.2M94.8 92.4A4.4 4.7 -9 1 1 87.3 97.2A4.4 4.7 -9 1 1 95.9 95M95.7 94.3A4.2 4.7 -19 1 1 87.2 93.9A4.2 4.7 -19 1 1 94.9 96.2M81.5 85.9A4 4.8 18 1 1 89.6 85.2A4 4.8 18 1 1 81.9 83.9M82.3 89.1A4 4.5 11 1 1 88.3 82.8A4 4.5 11 1 1 81.8 87.6M144.3 90.3A4.6 4.6 -1 1 1 136.3 85.7A4.6 4.6 -1 1 1 143.6 91.5M136.7 89.6A4.3 4.9 0 1 1 145 87A4.3 4.9 0 1 1 137.1 87.2M122.3 146.4A4.3 4.7 9 1 1 121.3 155.8A4.3 4.7 9 1 1 123.1 147M117.6 150.3A4.1 4.7 -10 1 1 125.8 151.6A4.1 4.7 -10 1 1 117.7 148.6M167.2 198.3A4.4 5.3 -15 1 1 162 206.2A4.4 5.3 -15 1 1 169.2 200.8M160.2 202.6A4.3 5 -5 1 1 168.5 200.2A4.3 5 -5 1 1 160.3 201.2M135.1 163.7A4.2 5.2 -3 1 1 133 173.8A4.2 5.2 -3 1 1 136.2 164.5M131 164.7A4.3 4.7 -20 1 1 136.8 172A4.3 4.7 -20 1 1 132.8 164.3M81.6 76.3A3.9 4.7 14 1 1 89.5 74.4A3.9 4.7 14 1 1 82.1 74.4M86.4 79.1A4.2 4.4 10 1 1 83.2 71A4.2 4.4 10 1 1 83.9 79.8M118.9 49.5A4.2 4.9 -9 1 1 113.1 42.2A4.2 4.9 -9 1 1 117.8 50.7M116 50.6A4.6 5 -13 1 1 116.5 40.7A4.6 5 -13 1 1 114 49.8M159.4 167.3A3.9 5 2 1 1 158.2 177.2A3.9 5 2 1 1 160.5 167.2M162.1 175.1A4.3 5.1 -2 1 1 155 169.1A4.3 5.1 -2 1 1 160.5 176.1M112.2 34.2A4 4.5 0 1 1 119.8 36.5A4 4.5 0 1 1 112.9 32.8M111.9 36.1A4.4 4.7 14 1 1 120.6 34.4A4.4 4.7 14 1 1 111.9 33.3M150.5 126.2A4.4 5.1 -9 1 1 153.6 116.8A4.4 5.1 -9 1 1 149.4 124.7M155.3 126.3A4.3 4.7 1 1 1 149.8 119A4.3 4.7 1 1 1 153.6 127.6M110 21.9A4.1 4.9 1 1 1 108.7 31.6A4.1 4.9 1 1 1 111.9 22.8M113 23.6A3.9 4.8 11 1 1 107.5 31A3.9 4.8 11 1 1 114 24.1M75.7 183.5A4.4 4.7 10 1 1 71 175.6A4.4 4.7 10 1 1 73.3 183.9M72.8 183.4A4.2 5.2 9 1 1 74.1 173.2A4.2 5.2 9 1 1 71.8 183.1M113.4 18.1A4 4.8 -4 1 1 106 14.3A4 4.8 -4 1 1 112 19.6M106.1 18.8A4.4 4.9 -19 1 1 114 15A4.4 4.9 -19 1 1 105.6 16.5M163.9 196.6A3.9 5.2 -11 1 1 166.6 187.4A3.9 5.2 -11 1 1 163.1 195.5M167 194.8A4 5.1 4 1 1 162.1 186.9A4 5.1 4 1 1 165.2 196.1M57.9 186A4 5 8 1 1 51.4 180.6A4 5 8 1 1 57 186.5M58.6 180.9A4.4 5.2 5 1 1 51.9 188A4.4 5.2 5 1 1 60 183.1M168.3 206.3A4.4 5.3 -24 1 1 173 215.8A4.4 5.3 -24 1 1 170.1 206M174.7 212.4A4 4.4 -13 1 1 166.9 210.2A4 4.4 -13 1 1 174.7 213.8M162.4 163.5A4 5.1 18 1 1 155.1 159.9A4 5.1 18 1 1 160.7 165.4M156.3 166.4A4.2 4.8 26 1 1 161.3 158.4A4.2 4.8 26 1 1 154.9 165.1M81.4 174.6A4.4 5.1 8 1 1 76.4 166.5A4.4 5.1 8 1 1 79.2 175.3M80.5 166.3A4 4.7 2 1 1 79.6 175.5A4 4.7 2 1 1 82.1 167.6M124.5 138.9A4 5.2 -20 1 1 131 146.5A4 5.2 -20 1 1 125.4 137.7M124.3 142.6A4.1 4.7 -4 1 1 132.5 144A4.1 4.7 -4 1 1 124.8 140.9M107.7 9.5A4.3 5.2 -11 1 1 112.7 1.7A4.3 5.2 -11 1 1 106.7 7.9M106.7 1.5A3.9 5.1 -12 1 1 111.4 10.1A3.9 5.1 -12 1 1 107.5 1.1M129.1 137.7A4.1 5.3 -13 1 1 126.7 127.5A4.1 5.3 -13 1 1 126.9 137.2M132.6 129.2A4.5 4.7 -27 1 1 125.2 134.5A4.5 4.7 -27 1 1 133.7 131.1M112.1 -5.4A4.2 4.9 3 1 1 119.4 -.6A4.2 4.9 3 1 1 113.4 -7M118 -6.2A4.1 4.9 -11 1 1 113.7 1.7A4.1 4.9 -11 1 1 119.1 -4.5M-.5 269.1A4.3 5 16 1 1 1.2 259.2A4.3 5 16 1 1 -2.3 268.3M3.3 261.4A4.2 4.5 27 1 1 -4.4 265.7A4.2 4.5 27 1 1 3.3 262.9M119.1 121.1A4.3 5.2 5 1 1 125.6 127.6A4.3 5.2 5 1 1 120.3 120.4M121.3 128.1A4 4.6 -6 1 1 121.8 119A4 4.6 -6 1 1 119.7 127.2M99.5 63.2A4.1 5 -17 1 1 107.6 62.4A4.1 5 -17 1 1 99.2 62.1M101.7 58.5A4 5.1 -17 1 1 104.9 68.2A4 5.1 -17 1 1 102.7 58.6M95.8 67.1A4.4 4.7 22 1 1 87 66.6A4.4 4.7 22 1 1 95.6 69.1M91.6 61.4A4.1 5 33 1 1 92.4 70.6A4.1 5 33 1 1 93.1 61M175.7 184.2A4.1 5.1 -34 1 1 166.9 182.1A4.1 5.1 -34 1 1 175.4 186.7M168.2 186.4A4.6 5 -22 1 1 172.4 178A4.6 5 -22 1 1 167.1 184.6M70.1 256.6A4.4 4.8 10 1 1 64.6 249.3A4.4 4.8 10 1 1 68.3 258M63.7 250.7A4.2 4.8 3 1 1 70.3 256.6A4.2 4.8 3 1 1 65.5 248.9M178.5 215A4.3 4.6 7 1 1 175.2 223.6A4.3 4.6 7 1 1 180.4 216.3M173.2 219.6A4.3 4.9 17 1 1 181.8 219.3A4.3 4.9 17 1 1 173.5 218.1M131.7 116A4.1 5 1 1 1 123.6 114.7A4.1 5 1 1 1 131.4 117.2M126 118.8A4 4.9 -11 1 1 130.7 111.3A4 4.9 -11 1 1 125.6 117.8M257.3 265.2A4.6 4.9 29 1 1 266.5 263.3A4.6 4.9 29 1 1 257.8 263.6M257.9 261.3A4.3 4.7 36 1 1 265.3 265.5A4.3 4.7 36 1 1 259.6 259.4M227.2 260.2A3.9 5.1 -27 1 1 223.4 267.7A3.9 5.1 -27 1 1 228.8 262.5M227.6 260.5A4 4.4 -20 1 1 224.1 268.2A4 4.4 -20 1 1 228.8 261.9M265.6 250.1A3.9 5.2 0 1 1 259 255.8A3.9 5.2 0 1 1 266.2 251.1M262.7 257.9A4.1 5.1 -2 1 1 262.3 247.7A4.1 5.1 -2 1 1 261.2 257.3M314.3 267.5A4 4.6 5 1 1 319.5 260.2A4 4.6 5 1 1 313.4 266.5M316.1 268.5A4.4 5 5 1 1 318.6 258.9A4.4 5 5 1 1 315 267.2M236.5 268.2A4 4.7 9 1 1 238.7 259.2A4 4.7 9 1 1 235.3 267.1M233.6 264.5A4 5 26 1 1 242 262.1A4 5 26 1 1 233.6 263.5M210.9 260A4.2 4.6 1 1 1 215.8 267.4A4.2 4.6 1 1 1 211.8 259.4M210.2 265.7A4 4.8 -11 1 1 216.9 260.9A4 4.8 -11 1 1 209.3 263.2M266.5 245A4.6 5 27 1 1 258.1 241.3A4.6 5 27 1 1 265.2 247.2M258.6 241A3.9 5.1 17 1 1 265.6 244.7A3.9 5.1 17 1 1 259.9 239.2M246.2 263.9A4.2 4.5 -17 1 1 254.6 264.4A4.2 4.5 -17 1 1 246.6 261.6M252.6 259.5A4.6 4.9 -7 1 1 247.1 267.3A4.6 4.9 -7 1 1 253.4 260.9M300.9 262.3A4.6 4.6 3 1 1 309.4 265.8A4.6 4.6 3 1 1 302.5 260.5M301.7 265.7A4.6 4.6 4 1 1 310 261.8A4.6 4.6 4 1 1 301.7 264.6M289.9 266.2A4 4.6 -27 1 1 296.5 261.7A4 4.6 -27 1 1 289.1 264M288.2 262.3A3.9 4.9 -21 1 1 296.2 263.8A3.9 4.9 -21 1 1 288.8 260.3M258.5 230.5A4.4 4.8 0 1 1 267 233.1A4.4 4.8 0 1 1 259.3 228.8M261 228.4A4.1 5 9 1 1 263.7 237.6A4.1 5 9 1 1 263.2 227.5M288.7 250A4.6 5.2 19 1 1 285.6 259.8A4.6 5.2 19 1 1 289.8 251.2M282.7 254.9A4.2 4.6 30 1 1 291.1 256A4.2 4.6 30 1 1 282.9 253.3M233.3 251.7A4 4.9 -27 1 1 230.4 259.8A4 4.9 -27 1 1 234.1 252.8M236.2 256.2A4.1 5 -9 1 1 228.1 255.1A4.1 5 -9 1 1 235.8 259.2M301.2 253.8A4.3 4.6 -11 1 1 309.8 252.6A4.3 4.6 -11 1 1 300.8 252.7M303 256.9A3.9 4.5 -16 1 1 308.6 251A3.9 4.5 -16 1 1 301.9 255.1M247.9 257.6A4 4.8 2 1 1 251.4 248.9A4 4.8 2 1 1 246.6 256.5M252.9 257.7A4 5 3 1 1 248.4 249.7A4 5 3 1 1 250.8 259.1M227.3 243.7A4.2 4.9 -10 1 1 235.6 246.1A4.2 4.9 -10 1 1 228.8 241.7M236 243.5A4.6 4.4 -10 1 1 227.6 247A4.6 4.4 -10 1 1 236 245.6M235.3 237.5A4.2 5.1 17 1 1 229.4 230.8A4.2 5.1 17 1 1 234.4 237.9M232.2 238.7A3.9 5.1 1 1 1 231.9 228.5A3.9 5.1 1 1 1 229.9 238.6M240 245.8A4.3 5 17 1 1 248.7 243.8A4.3 5 17 1 1 239.7 244.8M242.4 240.2A4.4 4.5 5 1 1 246.6 248A4.4 4.5 5 1 1 244.7 240M240 232.8A4.4 5.2 2 1 1 248.1 236.7A4.4 5.2 2 1 1 241.4 231.1M242.1 230A4.6 5.3 6 1 1 246.3 239.2A4.6 5.3 6 1 1 243.3 229.7M190.1 259.1A4.3 4.5 -13 1 1 188.7 267.9A4.3 4.5 -13 1 1 191.3 259.9M189.4 258.9A4.2 4.5 -30 1 1 188.6 267.6A4.2 4.5 -30 1 1 190.3 259.3M355.9 260.4A3.9 5.1 -19 1 1 351.2 267.5A3.9 5.1 -19 1 1 356.8 261.9M350.4 263.7A4.2 4.4 -28 1 1 358.9 264.4A4.2 4.4 -28 1 1 350.3 262M264.8 217.6A4 5.2 18 1 1 260 226.8A4 5.2 18 1 1 266.2 219.6M266.6 220.3A3.9 5.1 12 1 1 258.8 223.5A3.9 5.1 12 1 1 266.3 222.4M289.1 241.5A4.3 4.6 0 1 1 283.7 248.7A4.3 4.6 0 1 1 289.8 242.4M286.5 239.1A4 5.2 6 1 1 287.4 249.2A4 5.2 6 1 1 287.3 238.9M188 242.2A4.1 4.6 -1 1 1 190.6 251A4.1 4.6 -1 1 1 190 241.5M188.7 242A4.3 4.9 4 1 1 188.6 251.8A4.3 4.9 4 1 1 190.5 242.6M296.6 233.2A4.6 5.2 -13 1 1 289.8 239.6A4.6 5.2 -13 1 1 297.4 234.5M289.6 238.4A3.9 4.5 0 1 1 295.7 232.9A3.9 4.5 0 1 1 288.7 236M350.7 250.6A3.9 4.7 8 1 1 357.3 255.4A3.9 4.7 8 1 1 351.7 249M351.3 256.1A4.2 4.9 -7 1 1 357.5 249.7A4.2 4.9 -7 1 1 349.9 254.4M341 259.2A4.1 4.9 5 1 1 341.6 268.9A4.1 4.9 5 1 1 343.1 260.1M339.5 268A4.6 5.3 16 1 1 344.3 258.7A4.6 5.3 16 1 1 338.5 266.9M265.2 210.1A4.5 4.4 -14 1 1 271.4 216.5A4.5 4.4 -14 1 1 267.6 208.7M265 215.6A4.1 4.4 -17 1 1 271.6 210.6A4.1 4.4 -17 1 1 264.5 213.9M189.9 224.9A4.2 4.7 21 1 1 189.3 234.2A4.2 4.7 21 1 1 191.2 224.9M189.3 235.2A4.3 4.9 20 1 1 190.5 225.6A4.3 4.9 20 1 1 188.4 234.6M351.8 246.3A4.1 5.2 27 1 1 344 243.3A4.1 5.2 27 1 1 350.4 248.8M350.8 247.3A4.2 4.6 18 1 1 344.2 241.9A4.2 4.6 18 1 1 349.7 248.9M235.4 224.8A3.9 4.7 -14 1 1 227.5 223A3.9 4.7 -14 1 1 235.4 226.1M229.4 226.9A4.6 5.1 -21 1 1 234.6 219.1A4.6 5.1 -21 1 1 228.3 224.6M319.3 258.4A4.1 5.2 28 1 1 326.7 251.7A4.1 5.2 28 1 1 319.2 257.3M323.9 259.7A3.9 4.5 27 1 1 324.3 250.9A3.9 4.5 27 1 1 322.1 258.9M289.7 223.4A3.9 4.6 31 1 1 295.6 228.5A3.9 4.6 31 1 1 290.9 222.4M293 221.4A4.3 4.4 16 1 1 292.7 230.2A4.3 4.4 16 1 1 295.1 222.6M265.6 201.2A4.6 4.4 -3 1 1 259.5 207.8A4.6 4.4 -3 1 1 267.2 203M259 208.2A4.5 4.6 -8 1 1 265.7 202.1A4.5 4.6 -8 1 1 258.3 207.1M350.1 235.2A4.2 4.7 18 1 1 357.8 238.2A4.2 4.7 18 1 1 351.2 234M352.6 240.6A4.6 4.9 16 1 1 354.1 230.9A4.6 4.9 16 1 1 351.7 240.5M253.1 210.3A4.2 4.5 14 1 1 259.9 215.3A4.2 4.5 14 1 1 254.5 208.7M254.3 209.9A4.3 4.8 19 1 1 259.8 216.9A4.3 4.8 19 1 1 256.6 209.2M302.8 242.7A4.6 4.7 18 1 1 294.3 246.3A4.6 4.7 18 1 1 302.7 244.8M303.6 243.1A4.1 5.1 16 1 1 295.7 247.5A4.1 5.1 16 1 1 303.4 244.3M294.8 218.2A4 5.1 -30 1 1 302.3 215.5A4 5.1 -30 1 1 294.8 217.1M294.5 217.4A4.2 5.2 -27 1 1 302.6 215.4A4.2 5.2 -27 1 1 294.1 215.6M261.3 189.8A4 5.2 -26 1 1 264.5 199.6A4 5.2 -26 1 1 263.4 189.8M259.1 196.9A4.2 5 -24 1 1 266.3 192.6A4.2 5 -24 1 1 258.6 195.7M281 269.1A4.4 5.1 -22 1 1 281.1 259.2A4.4 5.1 -22 1 1 279.3 268.3M284.2 267.4A3.9 4.9 -13 1 1 277.8 261A3.9 4.9 -13 1 1 283.5 268.5M247.5 227.3A4.4 4.6 5 1 1 241.5 220.5A4.4 4.6 5 1 1 246.3 227.6M246.4 220.1A4.6 4.5 -16 1 1 243 228.5A4.6 4.5 -16 1 1 247.8 221.3M189.4 214.5A4.6 4.8 -9 1 1 189.2 224.1A4.6 4.8 -9 1 1 191.6 215.8M185.2 218.4A4.1 4.8 -9 1 1 193.2 220.9A4.1 4.8 -9 1 1 185.5 216.4M340.6 257.3A4.5 4.5 -22 1 1 343.5 248.8A4.5 4.5 -22 1 1 339.4 256.7M338.1 252.7A4.3 4.4 -6 1 1 346.8 253.2A4.3 4.4 -6 1 1 338.7 250.4M234.8 210.5A4 4.5 13 1 1 228.9 216.8A4 4.5 13 1 1 235.3 211.7M234.6 215.5A4 4.6 30 1 1 228.5 210.3A4 4.6 30 1 1 232.9 217.4M290.3 204.8A4.5 4.5 5 1 1 295.7 212A4.5 4.5 5 1 1 292.8 204.3M297.1 210.9A4.4 5.3 -4 1 1 289.5 205.4A4.4 5.3 -4 1 1 296.8 212.2M345 224.5A4.3 4.5 19 1 1 351.4 230.4A4.3 4.5 19 1 1 346.7 223.5M351.7 228.5A4.6 4.8 11 1 1 342.7 226.9A4.6 4.8 11 1 1 351.8 229.7M245.5 218.3A4.6 5.3 8 1 1 242.1 208.7A4.6 5.3 8 1 1 243.5 219.2M247.1 209A4 4.8 -1 1 1 241.7 216A4 4.8 -1 1 1 247.6 210.3M306.2 240.9A4.3 4.7 -27 1 1 303.8 231.9A4.3 4.7 -27 1 1 303.8 240.9M306.1 231.4A4.3 4.9 -24 1 1 304.7 240.7A4.3 4.9 -24 1 1 307.7 232.7M264.1 184.3A4.5 4.6 2 1 1 272.5 187.2A4.5 4.6 2 1 1 265.1 182.9M265.5 189.2A4 4.9 -12 1 1 271.7 183.5A4 4.9 -12 1 1 264.3 186.9M358.2 219.5A4 4.7 -6 1 1 350.3 219.3A4 4.7 -6 1 1 358 222M358.2 220.9A3.9 5.1 -27 1 1 350 218A3.9 5.1 -27 1 1 357.6 222.2M271.3 257.2A4.1 4.5 -16 1 1 278 252.4A4.1 4.5 -16 1 1 270.4 255.4M276.7 259.6A4.2 4.6 -21 1 1 271.1 252.3A4.2 4.6 -21 1 1 275.2 259.9M227.4 204.9A4.4 5.1 21 1 1 236.1 201.2A4.4 5.1 21 1 1 226.8 203.3M229.7 207A3.9 4.8 26 1 1 233.5 198.1A3.9 4.8 26 1 1 227.9 205.8M272.3 174.8A4.1 5.2 19 1 1 263.8 175.3A4.1 5.2 19 1 1 271.2 177M267.1 170.2A4.4 4.9 19 1 1 268.5 179.7A4.4 4.9 19 1 1 269.5 170.8M233.6 187.9A4.3 5.2 -11 1 1 229.6 196.7A4.3 5.2 -11 1 1 234.7 188.7M229.1 195A4.1 5.3 -13 1 1 236.1 190.4A4.1 5.3 -13 1 1 228.7 193.3M290 195.3A3.9 5 -12 1 1 296.7 201.5A3.9 5 -12 1 1 290.9 194.6M296.4 194.9A4.6 5.3 4 1 1 288.6 200.8A4.6 5.3 4 1 1 296.7 197.7M277.8 247.2A4.3 4.5 -11 1 1 270.6 242.2A4.3 4.5 -11 1 1 276.6 248.8M276 240.8A4 4.9 -11 1 1 274.3 250.2A4 4.9 -11 1 1 278.1 242.2M282 240.9A4.1 4.8 25 1 1 279.9 232.2A4.1 4.8 25 1 1 280.7 241.1M281.2 240.2A4.4 4.5 7 1 1 279.7 231.4A4.4 4.5 7 1 1 279.1 240.1M282.2 221.7A4.5 4.6 -4 1 1 279.8 230.6A4.5 4.6 -4 1 1 284.5 223M277.1 221.9A4.4 4.5 15 1 1 283.1 228.4A4.4 4.5 15 1 1 278.8 221.4M258.5 163.5A4.6 5.2 -11 1 1 266.2 169.6A4.6 5.2 -11 1 1 260 161.8M257.8 167.4A4.1 4.7 0 1 1 265.7 165.1A4.1 4.7 0 1 1 258 165.1M259.1 159.9A4.5 5.2 16 1 1 266.1 152.8A4.5 5.2 16 1 1 258.8 158.4M257.8 159.1A4.4 4.9 1 1 1 265.8 154.7A4.4 4.9 1 1 1 257.2 157.3M216.1 255.6A4 4.9 2 1 1 224.1 254.3A4 4.9 2 1 1 215.9 253.6M221.4 250.6A4 5.3 -17 1 1 218.2 259.4A4 5.3 -17 1 1 222.6 252M345.9 236A4.1 5 -3 1 1 337.7 237.3A4.1 5 -3 1 1 345.7 238.5M337.7 236.4A4.3 4.7 9 1 1 346.3 237.4A4.3 4.7 9 1 1 338.4 235.6M258.1 181.6A3.9 5.1 -1 1 1 253.5 189.9A3.9 5.1 -1 1 1 259.3 184.1M259.6 182.7A4.5 4.9 4 1 1 252.6 189A4.5 4.9 4 1 1 260.2 184M232.4 187.1A3.9 5.2 -16 1 1 232.2 177.1A3.9 5.2 -16 1 1 230.5 186.1M233.9 177.7A4.3 4.5 -3 1 1 230.7 186A4.3 4.5 -3 1 1 235.6 178.6M234.7 168.4A4.3 5.2 -13 1 1 228.4 174.8A4.3 5.2 -13 1 1 235.3 170.5M233.8 167.5A4.6 4.9 -26 1 1 231 176.6A4.6 4.9 -26 1 1 235.7 169.1M288.9 185.3A4.1 5 -8 1 1 296.7 189A4.1 5 -8 1 1 289.6 183.2M290.1 191.8A4.4 4.6 8 1 1 295.4 184.4A4.4 4.6 8 1 1 289 189.6M235.6 162.4A4.5 4.9 -2 1 1 227.4 158.3A4.5 4.9 -2 1 1 235.4 163.9M231.2 165.3A4.6 5.3 15 1 1 233.7 155A4.6 5.3 15 1 1 229.5 164.4M315.4 245.8A3.9 4.4 16 1 1 307.7 244.2A3.9 4.4 16 1 1 314.5 247.6M309.7 249.5A4.3 4.6 12 1 1 313.8 241.3A4.3 4.6 12 1 1 308.4 248.5M294.1 182.5A4.1 5.2 -12 1 1 292.1 172.4A4.1 5.2 -12 1 1 291.6 182.1M294.7 173.3A4.2 4.9 -1 1 1 289.7 181.2A4.2 4.9 -1 1 1 295.8 175.1M266.5 143.1A4.4 4.6 10 1 1 259.2 148.4A4.4 4.6 10 1 1 267.2 143.8M263.6 149.9A4.2 4.7 26 1 1 259.8 142A4.2 4.7 26 1 1 261.9 150.4M309.3 225.2A4.5 4.6 7 1 1 300.5 227.1A4.5 4.6 7 1 1 309.2 227.9M306.7 221.6A3.9 5 22 1 1 304.7 231.4A3.9 5 22 1 1 308.7 222.6M355.5 203.3A3.9 5.2 18 1 1 352.2 213.1A3.9 5.2 18 1 1 357.3 203.9M357.5 203.9A4.2 5.3 26 1 1 350.8 211.8A4.2 5.3 26 1 1 358.5 205.7M271 204.7A3.9 4.8 -11 1 1 278.9 204.8A3.9 4.8 -11 1 1 271.2 202.2M271.9 201.4A3.9 4.9 12 1 1 277.2 208A3.9 4.9 12 1 1 273.5 200M323.1 239.3A4.4 5.2 18 1 1 324.4 249.3A4.4 5.2 18 1 1 324.3 239.5M326.1 241.3A4 5.1 20 1 1 319.6 248.7A4 5.1 20 1 1 327.4 243.5M254 204.9A4.3 4.7 -4 1 1 245.4 205.3A4.3 4.7 -4 1 1 254 207.4M251 209.2A4.3 4.7 -3 1 1 247.9 200.5A4.3 4.7 -3 1 1 249.7 209.3M241.9 192.2A4.4 4.7 -16 1 1 245.7 200.8A4.4 4.7 -16 1 1 243.3 192.2M245.4 201.5A4.5 5.2 -19 1 1 243.7 191.2A4.5 5.2 -19 1 1 244 201M265.5 139.9A4 4.4 -8 1 1 271.4 134.2A4 4.4 -8 1 1 265.1 139M264.8 138A4 4.8 -8 1 1 272.7 137.5A4 4.8 -8 1 1 264.5 135.9M323.9 229.6A3.9 4.5 8 1 1 322.3 238.4A3.9 4.5 8 1 1 325.1 230.5M324.1 229.6A3.9 5.1 6 1 1 322.1 239.6A3.9 5.1 6 1 1 325.3 230.6M264.1 127.3A4.2 5.1 3 1 1 272.6 126.8A4.2 5.1 3 1 1 263.8 126.1M268 121.4A4 4.8 5 1 1 270 130.5A4 4.8 5 1 1 270.4 121M244.9 181.5A4.3 4.6 1 1 1 243.7 190.6A4.3 4.6 1 1 1 246.6 182.6M240.9 188A4.3 5.1 6 1 1 248.8 183.6A4.3 5.1 6 1 1 240.2 185.2M219.8 249.4A4.5 4.6 27 1 1 218.7 240.3A4.5 4.6 27 1 1 218.7 249.2M221.5 248A3.9 5 21 1 1 217 240.7A3.9 5 21 1 1 219.7 249.5M259.9 177.6A3.9 4.9 -19 1 1 252.8 171.9A3.9 4.9 -19 1 1 259.1 179M255.5 170.5A4.3 5.2 -6 1 1 257.7 180.7A4.3 5.2 -6 1 1 257.7 170.6M193 206.2A4.3 4.8 26 1 1 185.2 211.3A4.3 4.8 26 1 1 193 207.7M192.5 204.1A4.6 5.3 16 1 1 187.3 213.1A4.6 5.3 16 1 1 193.7 206.2M307.4 204.4A3.9 4.6 -3 1 1 303.8 212.5A3.9 4.6 -3 1 1 309.1 205.9M307.7 213.2A4.2 5.2 -2 1 1 302.4 205A4.2 5.2 -2 1 1 305.7 213.9M288.9 166.3A4.1 4.9 11 1 1 296.9 167.3A4.1 4.9 11 1 1 289.6 164.4M290.5 171.1A3.9 5.1 20 1 1 295.2 162A3.9 5.1 20 1 1 289.6 169.3M319.8 227.6A4.4 5.1 -14 1 1 326 220.8A4.4 5.1 -14 1 1 318.2 225.5M327.6 221A4 5.2 4 1 1 320.7 226.6A4 5.2 4 1 1 328.1 223.3M314.2 218.3A4.2 5.2 -20 1 1 320.1 211.7A4.2 5.2 -20 1 1 313 215.5M318 211.6A4.2 4.5 -6 1 1 316.3 220.3A4.2 4.5 -6 1 1 319.9 212.4M276.3 214.3A4.1 5.3 -27 1 1 285 216.7A4.1 5.3 -27 1 1 277.3 212.5M284.4 213.6A4.2 5.3 -14 1 1 276.2 215.5A4.2 5.3 -14 1 1 284.9 215M271.1 120.5A4.5 4.8 1 1 1 266.1 112.6A4.5 4.8 1 1 1 270.2 120.7M271.6 111.5A4 5.1 14 1 1 265.8 119.4A4 5.1 14 1 1 272.3 113.1M202.7 267.8A4.2 4.8 11 1 1 199.5 259.2A4.2 4.8 11 1 1 201.1 268.7M197.8 265.4A4 5 27 1 1 206.3 262.7A4 5 27 1 1 198.4 263.5M229.7 153.6A4.2 4.6 20 1 1 234.7 145.9A4.2 4.6 20 1 1 228.5 152.6M235.4 151.2A4.1 4.6 25 1 1 227.6 148.6A4.1 4.6 25 1 1 235.2 152.3M211.6 240.8A4.3 4.8 8 1 1 214.6 231.7A4.3 4.8 8 1 1 210.6 240.2M213.7 231.7A4.2 4.8 8 1 1 213.8 241.2A4.2 4.8 8 1 1 214.6 231.6M253.4 169.4A4.3 4.7 -19 1 1 246.9 163A4.3 4.7 -19 1 1 251.4 171.2M247.5 162.7A4.1 4.5 -24 1 1 253.1 169.8A4.1 4.5 -24 1 1 248.9 161.6M352.3 202.4A4.1 5.1 3 1 1 355.3 192.9A4.1 5.1 3 1 1 350.2 200.9M357.4 200.3A4.6 5.3 5 1 1 349.8 194.5A4.6 5.3 5 1 1 356.4 202M217.8 231.8A4.1 4.9 16 1 1 222 223.1A4.1 4.9 16 1 1 216.5 230.5M222.2 230.4A4.2 4.7 22 1 1 217 223.5A4.2 4.7 22 1 1 220.3 231.5M265.9 101.9A4.1 5 10 1 1 271 109.2A4.1 5 10 1 1 266.7 100.8M266 103A4.3 5 18 1 1 272.1 109.5A4.3 5 18 1 1 267.6 102.3M199.5 257.2A4.1 4.7 10 1 1 202.9 248.4A4.1 4.7 10 1 1 198.5 255.6M206.1 251.4A4.5 4.4 20 1 1 197.8 254.7A4.5 4.4 20 1 1 206 253.2M233.5 135.4A3.9 4.7 10 1 1 230.9 144.4A3.9 4.7 10 1 1 234.1 136.2M235.6 141.9A4.5 4.8 12 1 1 227.7 137.3A4.5 4.8 12 1 1 234.3 143M278.6 195.3A3.9 5 7 1 1 271 193.4A3.9 5 7 1 1 277.8 197.1M276.7 189.4A4.5 5.2 -5 1 1 271.6 197.9A4.5 5.2 -5 1 1 277.9 191.6M333.9 264.5A4.1 5.2 4 1 1 325.9 262.8A4.1 5.2 4 1 1 333.6 266.6M328 258.7A4.1 5.1 0 1 1 331 268.2A4.1 5.1 0 1 1 329 258.7M230.5 130.9A4.5 5 5 1 1 221.6 132.5A4.5 5 5 1 1 229.7 133.4M230 132.2A4.4 5.2 3 1 1 221.4 130.4A4.4 5.2 3 1 1 229.4 133.3M250.9 152A4.6 4.5 -15 1 1 249.1 160.9A4.6 4.5 -15 1 1 252.1 151.8M245.8 158.7A4.2 4.4 -4 1 1 253.1 154.4A4.2 4.4 -4 1 1 244.8 157.1M303.3 159A4.1 4.7 0 1 1 295.1 157.8A4.1 4.7 0 1 1 303 160.1M296.6 153.3A4.4 5.3 -2 1 1 300.8 162.7A4.4 5.3 -2 1 1 298.4 152.8M307 199.7A3.9 4.5 15 1 1 314.9 200.1A3.9 4.5 15 1 1 307.2 198.2M308.4 196.5A4.2 4.4 26 1 1 313.8 203A4.2 4.4 26 1 1 310.4 195.1M223.4 116.1A4.2 5.1 3 1 1 228 124.4A4.2 5.1 3 1 1 225.6 115.7M221.6 123A4.2 4.7 10 1 1 229.4 118.9A4.2 4.7 10 1 1 221.7 120.6M222.2 108.2A4.1 4.6 -10 1 1 230 111.7A4.1 4.6 -10 1 1 223.3 106.5M221.4 109.6A4.3 5.3 -4 1 1 229.9 111A4.3 5.3 -4 1 1 221.5 108.6M259.8 140.1A4.3 4.5 8 1 1 252.9 135A4.3 4.5 8 1 1 258.7 140.7M255.1 132.4A3.9 4.4 23 1 1 256.1 140.9A3.9 4.4 23 1 1 257 132.8M283.4 161.5A4.5 4.9 0 1 1 290.5 155.4A4.5 4.9 0 1 1 282.6 160.2M282.9 157.4A4 5 9 1 1 291 157.3A4 5 9 1 1 283.2 156.4M229.3 105.6A4.2 4.9 8 1 1 235.2 98.4A4.2 4.9 8 1 1 228.5 103.2M233.2 105.3A4.1 4.6 12 1 1 229 97.6A4.1 4.6 12 1 1 232.6 106.2M355.4 191.9A4 4.5 -9 1 1 353 183.2A4 4.5 -9 1 1 353.4 191.7M358.1 190A3.9 4.8 -22 1 1 351 184.4A3.9 4.8 -22 1 1 356.5 191.8M287.4 142.5A4.1 4.7 26 1 1 286 151.7A4.1 4.7 26 1 1 289.6 143.5M285.9 151.9A4 4.6 10 1 1 286.7 142.7A4 4.6 10 1 1 284.3 151.4M219.2 212.8A4.2 5.2 30 1 1 220.4 222.2A4.2 5.2 30 1 1 221.6 212.1M221.7 221.2A4.4 5 13 1 1 218.1 212.2A4.4 5 13 1 1 219.9 221.6M295 147.2A4 5.3 8 1 1 302.9 148.4A4 5.3 8 1 1 295.5 144.6M304.1 147.8A4.5 4.8 3 1 1 295.2 148.4A4.5 4.8 3 1 1 303.6 150.3M271 165.3A3.9 4.4 -18 1 1 278.8 167.6A3.9 4.4 -18 1 1 271.9 163M270.1 166.3A3.9 5 -5 1 1 277.9 167.3A3.9 5 -5 1 1 270.1 164.9M267.3 100.3A4.3 5.2 1 1 1 269.6 90.2A4.3 5.2 1 1 1 265.8 98.9M265.9 98A4.4 4.5 6 1 1 271.4 90.9A4.4 4.5 6 1 1 265.1 97.3M228.8 94.9A4.6 4.7 -22 1 1 234.7 87.7A4.6 4.7 -22 1 1 228.2 93.8M232.9 86.1A4.4 5.2 -24 1 1 230 95.2A4.4 5.2 -24 1 1 233.9 87.2M320.9 193.1A3.9 4.7 -5 1 1 313.3 190.6A3.9 4.7 -5 1 1 320 195.6M314 194.9A4.2 5.3 13 1 1 320.7 187.6A4.2 5.3 13 1 1 313.5 194.1M294.7 137.4A4 4.9 2 1 1 302.6 136.1A4 4.9 2 1 1 294.6 136M297 132.5A4.4 5.2 18 1 1 299.6 142A4.4 5.2 18 1 1 298.3 132.2M215.5 203.8A4.2 5.2 -25 1 1 223.6 209.1A4.2 5.2 -25 1 1 216.4 202.9M224.6 206.5A4.4 4.9 -24 1 1 215.7 206.4A4.4 4.9 -24 1 1 224.3 207.9M355.7 245.8A4.4 4.7 7 1 1 364.5 244.6A4.4 4.7 7 1 1 356.2 243.9M357.6 241.1A4.6 4.9 26 1 1 364 247.9A4.6 4.9 26 1 1 358.9 240.1M265.2 82.9A4 4.4 34 1 1 258.9 89.1A4 4.4 34 1 1 265.6 83.8M262.5 90.8A4.2 4.8 25 1 1 260.9 81.8A4.2 4.8 25 1 1 260.2 91M278 182A4.3 4.6 -22 1 1 283.3 189.5A4.3 4.6 -22 1 1 279.2 181.1M276.8 183.5A4.2 5.2 -2 1 1 284.1 188.6A4.2 5.2 -2 1 1 278.3 181.5M248.6 140.9A4.6 4.6 1 1 1 251.7 149.6A4.6 4.6 1 1 1 251.1 140.9M251.2 141.3A4.1 4.7 -19 1 1 250 150.3A4.1 4.7 -19 1 1 252.5 142.5M211.8 244.8A4.1 4.5 -1 1 1 203.6 243.8A4.1 4.5 -1 1 1 211.3 246.5M210.3 241.3A4.6 5.2 -11 1 1 203.7 248.2A4.6 5.2 -11 1 1 211.4 243.8M259.2 131A4.6 5.1 -9 1 1 253.5 122.8A4.6 5.1 -9 1 1 257.8 131.5M254.3 130.2A4.2 4.8 7 1 1 258 121.5A4.2 4.8 7 1 1 253 128.4M282.5 134.4A4.5 4.8 -4 1 1 290.4 138.9A4.5 4.8 -4 1 1 282.8 132.9M290 138.8A4.1 4.7 2 1 1 282.5 135.1A4.1 4.7 2 1 1 289.3 139.5M241.2 179.5A4.1 5.2 -11 1 1 246.2 171.8A4.1 5.2 -11 1 1 240.5 177.9M245.7 179.2A4.6 4.6 -15 1 1 242.5 170.6A4.6 4.6 -15 1 1 244.2 179.5M205 234.1A3.9 5.2 -13 1 1 197.9 237.4A3.9 5.2 -13 1 1 205 236.5M200 240.9A4.4 5.1 -21 1 1 202.3 231.5A4.4 5.1 -21 1 1 197.8 239.5M215.1 195.8A4.3 4.5 3 1 1 223.5 196.8A4.3 4.5 3 1 1 215.5 193.9M223.6 196.1A3.9 4.7 15 1 1 215.9 194.9A3.9 4.7 15 1 1 223.4 197.6M221.4 84.1A4.4 4.7 5 1 1 230 81.8A4.4 4.7 5 1 1 221 81.5M223.5 78.9A4.3 5.2 9 1 1 228.6 86.9A4.3 5.2 9 1 1 225.4 77.4M259.3 72.9A4.6 4.8 -9 1 1 265.8 79.8A4.6 4.8 -9 1 1 261.5 72M259.5 71.7A4.5 5.2 -18 1 1 264.1 81.1A4.5 5.2 -18 1 1 261.8 71.8M255.4 121.1A4.5 5.1 -11 1 1 257.6 111.4A4.5 5.1 -11 1 1 254.1 120.2M258.9 112.7A3.9 4.9 6 1 1 254.1 120.7A3.9 4.9 6 1 1 260 114.6M216.2 188A4.1 4.7 -16 1 1 222.6 182.5A4.1 4.7 -16 1 1 215 186.8M216.7 189.5A4.5 5.1 -17 1 1 221.7 181.4A4.5 5.1 -17 1 1 214.6 187.3M216.3 171.6A4.2 4.7 -31 1 1 222.4 178.6A4.2 4.7 -31 1 1 217.4 171.1M222.5 179.4A4 5 -12 1 1 216.2 172.5A4 5 -12 1 1 220.8 180.9M301.4 189.2A4.3 4.8 29 1 1 309 193.4A4.3 4.8 29 1 1 302.4 188.4M303.7 186.8A4.3 4.5 33 1 1 306.5 195A4.3 4.5 33 1 1 305 186.9M240.6 128.2A3.9 5.1 -22 1 1 234.8 133.9A3.9 5.1 -22 1 1 241.1 129.7M240.2 126.2A4.3 5.1 -15 1 1 236 134.6A4.3 5.1 -15 1 1 241.1 127.5M278.6 157.4A4.1 4.6 -8 1 1 270.8 154.4A4.1 4.6 -8 1 1 277.5 159.2M278.7 155.6A4.5 5.1 -27 1 1 269.7 156.9A4.5 5.1 -27 1 1 278.3 157.4M338.7 215.1A4.4 5.3 -7 1 1 343.9 223.9A4.4 5.3 -7 1 1 340.6 214.8M346 215.9A4.1 5.2 14 1 1 338.6 221.5A4.1 5.2 14 1 1 346.8 218.5M122.5 102A4.1 4.9 -23 1 1 120.9 111A4.1 4.9 -23 1 1 123.7 103.1M124.7 111.6A4.4 5 -25 1 1 119.2 103.3A4.4 5 -25 1 1 123.2 112.9M142.8 80.9A4 4.7 -9 1 1 138.7 72.7A4 4.7 -9 1 1 140.7 81.4M143.5 74.2A4.5 4.5 -25 1 1 136.5 79.7A4.5 4.5 -25 1 1 144.5 74.8M77.4 157A4.1 4.6 -12 1 1 82.1 149.7A4.1 4.6 -12 1 1 76.5 155.4M81.6 157.9A4 4.4 -13 1 1 77.4 150.2A4 4.4 -13 1 1 80.5 158.8M123.9 96.4A4.3 4.5 6 1 1 131.9 99.4A4.3 4.5 6 1 1 124.9 94M131.5 95.7A4.1 5.2 3 1 1 123.8 99.7A4.1 5.2 3 1 1 131.7 98.7M125.2 84.3A4.5 5 -24 1 1 131.4 92.1A4.5 5 -24 1 1 127 84M132.6 84.9A4.6 4.9 -24 1 1 124.7 89.6A4.6 4.9 -24 1 1 133.4 87.6M137.1 63A4.3 5 -11 1 1 143.5 70A4.3 5 -11 1 1 139.3 61.9M136.3 65.1A4.3 4.9 -22 1 1 144.6 69.2A4.3 4.9 -22 1 1 136.9 63.6M107 41.9A4.5 5.2 4 1 1 100.7 49.5A4.5 5.2 4 1 1 108.2 43.7M108.9 45.9A4.6 5.3 11 1 1 99.6 46.4A4.6 5.3 11 1 1 108.7 47.1M184.3 204.4A4.2 4.4 14 1 1 182 196A4.2 4.4 14 1 1 182.2 204.1M183.4 204.8A4 5 9 1 1 184.3 194.7A4 5 9 1 1 182.3 204.5M149.6 101.4A4 4.7 -26 1 1 154.8 109.2A4 4.7 -26 1 1 150.9 101.3M156.4 103.5A4.2 4.9 -20 1 1 148 104.7A4.2 4.9 -20 1 1 156.4 104.6M45.1 173.5A4.2 4.5 -5 1 1 53.1 176.4A4.2 4.5 -5 1 1 45.9 172.4M48 179.8A4.6 4.7 4 1 1 49.4 170.6A4.6 4.7 4 1 1 46.3 179.2M161.8 128.3A4.3 5.3 -20 1 1 154.7 133.2A4.3 5.3 -20 1 1 162.8 129.8M155.8 126A4.6 5.2 -25 1 1 162.5 134A4.6 5.2 -25 1 1 157.3 124.6M75.7 145.9A3.9 4.7 27 1 1 82.7 140.2A3.9 4.7 27 1 1 75 144.7M75.6 145.7A4.6 4.7 25 1 1 83.9 141.4A4.6 4.7 25 1 1 74.9 143.4M87.4 58.6A4.6 4.8 1 1 1 95.4 53.7A4.6 4.8 1 1 1 86.5 56.6M88.7 53.7A4 4.4 0 1 1 94.3 60A4 4.4 0 1 1 89.8 52.3M80.8 121A4 4.8 5 1 1 77.2 129.7A4 4.8 5 1 1 81.8 121.3M78 129.1A4.2 4.5 -2 1 1 82.2 121.4A4.2 4.5 -2 1 1 77.1 128.2M181.5 191.4A4.3 4.8 19 1 1 172.9 191.4A4.3 4.8 19 1 1 180.7 194.1M175.8 195.6A4 4.7 24 1 1 177.8 186.5A4 4.7 24 1 1 174 194.7M142.5 59.7A3.9 5.2 -8 1 1 149.7 56.5A3.9 5.2 -8 1 1 142.1 56.8M144.3 62.2A4.4 5.2 -13 1 1 147.5 52.8A4.4 5.2 -13 1 1 143.1 61.4M35 241.5A4.4 5.2 19 1 1 37.7 231.5A4.4 5.2 19 1 1 32.7 240.8M36.5 240.9A4 4.4 -2 1 1 35.5 232.1A4 4.4 -2 1 1 34.8 240.7M142 46.7A4.4 4.7 -23 1 1 150.9 48.1A4.4 4.7 -23 1 1 142.6 45.9M145.6 42.9A4.3 4.5 -10 1 1 148.8 51.3A4.3 4.5 -10 1 1 146.9 43.2M125.2 82.1A4.6 4.6 31 1 1 118.5 75.9A4.6 4.6 31 1 1 124.7 83.1M125.7 78.5A4 5.1 14 1 1 117.5 80.4A4 5.1 14 1 1 125.3 80.7M124.3 68.2A4.3 5.2 1 1 1 132 72.5A4.3 5.2 1 1 1 125.3 65.9M127 65.6A4.4 5 -2 1 1 130.7 74.7A4.4 5 -2 1 1 128.9 65.6M137.4 35.8A4.3 5.2 8 1 1 144.2 41.9A4.3 5.2 8 1 1 138.5 35.2M141.7 43.1A4.4 4.8 16 1 1 137.6 34.8A4.4 4.8 16 1 1 139.8 44.1M179.2 185A4 5 2 1 1 186.7 181.5A4 5 2 1 1 178.7 182.5M181.4 188.3A4.5 4.9 19 1 1 184.4 179A4.5 4.9 19 1 1 180.3 187.6M141.2 32.6A4.6 4.4 1 1 1 139.8 23.9A4.6 4.4 1 1 1 139.8 32.2M140.9 24.6A4.6 5 -12 1 1 138.5 34.1A4.6 5 -12 1 1 143 25.4M69.6 159.5A4.4 4.5 9 1 1 76.3 165.3A4.4 4.5 9 1 1 70.6 158.7M75.5 158.6A4.5 4.7 8 1 1 69.5 165.7A4.5 4.7 8 1 1 76.4 161.1M136.6 16A4 4.9 27 1 1 143.4 20.2A4 4.9 27 1 1 137.6 15.2M144.5 15.7A4.3 5.2 11 1 1 137.2 22A4.3 5.2 11 1 1 145.6 17.6M35.4 230.6A4.6 5.2 -3 1 1 37.7 220.5A4.6 5.2 -3 1 1 33.7 229.1M40.6 227.1A4.5 5.2 -5 1 1 32 224.2A4.5 5.2 -5 1 1 40.3 229.2M82.5 118.6A4.6 5 8 1 1 76.6 111.1A4.6 5 8 1 1 80.7 119.3M78.4 110.6A4.6 4.7 18 1 1 80 119.8A4.6 4.7 18 1 1 80.1 111.1M50.1 166.9A4.2 5 23 1 1 58.7 166.8A4.2 5 23 1 1 51.3 164.5M52.6 161.9A4.5 4.8 29 1 1 57.1 170A4.5 4.8 29 1 1 53.9 161.5M133.2 60.3A4.6 5.1 -19 1 1 123.9 60.2A4.6 5.1 -19 1 1 132.6 62.6M131.2 57.7A3.9 4.7 -17 1 1 125.4 63.3A3.9 4.7 -17 1 1 131.8 59M96 81.2A4.6 5.2 31 1 1 100 89.8A4.6 5.2 31 1 1 97.7 80.5M101.3 86.8A4.4 5.1 12 1 1 93 84.1A4.4 5.1 12 1 1 100.4 89.4M106.7 38.2A4.2 5.2 6 1 1 100.1 32A4.2 5.2 6 1 1 105.1 40.1M108.5 33.7A4.6 5.1 6 1 1 99.6 36.7A4.6 5.1 6 1 1 108.8 36.7M148.5 5.2A3.9 5.1 17 1 1 144.1 14.4A3.9 5.1 17 1 1 150.2 6.3M145.9 14.6A3.9 5.2 18 1 1 146.5 4.4A3.9 5.2 18 1 1 144.5 14.9M151.3 83.2A4.2 4.6 -18 1 1 154.6 91.9A4.2 4.6 -18 1 1 153.1 83M155.2 84.1A4.3 4.8 -20 1 1 151.3 92.3A4.3 4.8 -20 1 1 156.1 85.3M52.4 162A4.5 5.2 -5 1 1 45.7 154.9A4.5 5.2 -5 1 1 51.5 162.8M43.5 159.2A4.6 5.3 -1 1 1 52.6 157.4A4.6 5.3 -1 1 1 43.7 156.9M139.4 5.8A4.4 5.2 -8 1 1 142 -4A4.4 5.2 -8 1 1 137.4 4.8M136.4 3.5A3.9 4.7 -18 1 1 143.1 -.7A3.9 4.7 -18 1 1 136.2 1.4M131.8 47.3A4.3 4.8 -15 1 1 124.3 51.9A4.3 4.8 -15 1 1 132.3 49.6M132.1 48.4A4.1 5 -18 1 1 124.1 50.5A4.1 5 -18 1 1 132.8 49.5M132.9 4.7A4.3 4.9 -14 1 1 135.5 14.3A4.3 4.9 -14 1 1 134.4 4.4M130.9 5.8A4.2 4.5 -17 1 1 136.5 12.8A4.2 4.5 -17 1 1 132.3 5.4M161.7 157.2A4.6 5.2 -8 1 1 167.9 149.7A4.6 5.2 -8 1 1 160.7 155.1M168.9 151.4A4 5.3 -13 1 1 161.8 155.4A4 5.3 -13 1 1 169.5 152.4M172.6 174.1A4.3 5.3 -21 1 1 181.4 173.9A4.3 5.3 -21 1 1 172.8 171.9M172.2 175.1A4.4 4.5 -19 1 1 181 175.3A4.4 4.5 -19 1 1 173.4 172.9" fill="none" stroke="#1a1a1a" stroke-width="0.68" stroke-linecap="round" stroke-linejoin="round" /><path d="M113 6L122.5 4.5L122 7.5L119.5 8.5L119 12.5L114.5 11.5Z" fill="#4269d0" opacity="0.95"/><path d="M115.5 9.5L117.8 6.8L119.6 9.6" fill="none" stroke="#223" stroke-width="0.9" stroke-linecap="round" stroke-linejoin="round" /><path d="M145 15L154.5 13.5L154 16.5L151.5 17.5L151 21.5L146.5 20.5Z" fill="#e9ac2c" opacity="0.95"/><path d="M146.5 17.5L149 16.2L151.6 19.6" fill="none" stroke="#332" stroke-width="0.9" stroke-linecap="round" stroke-linejoin="round" /></svg></div>
</body></html>
